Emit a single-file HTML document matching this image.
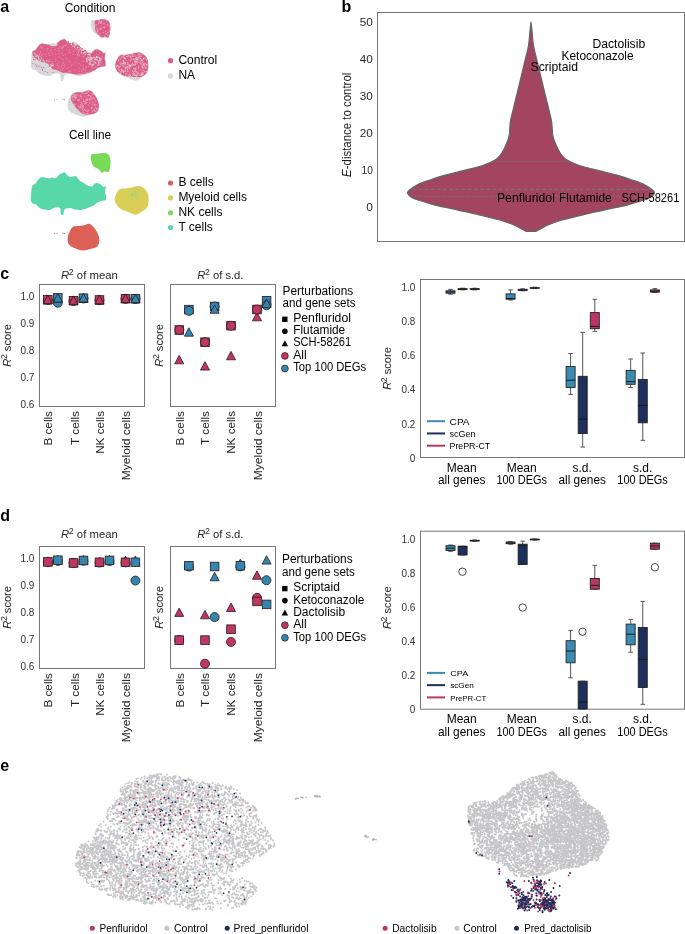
<!DOCTYPE html><html><head><meta charset="utf-8"><title>Figure</title><style>html,body{margin:0;padding:0;background:#fff;width:685px;height:934px;overflow:hidden}svg{display:block;will-change:transform}text{font-family:"Liberation Sans",sans-serif}</style></head><body>
<svg width="685" height="934" viewBox="0 0 685 934">
<rect width="685" height="934" fill="#fff"/>
<text x="0.20" y="11.80" font-size="16" font-weight="bold" fill="#000">a</text>
<text x="341.50" y="11.80" font-size="16" font-weight="bold" fill="#000">b</text>
<text x="0.20" y="279.30" font-size="16" font-weight="bold" fill="#000">c</text>
<text x="0.20" y="520.50" font-size="16" font-weight="bold" fill="#000">d</text>
<text x="0.20" y="771.30" font-size="16" font-weight="bold" fill="#000">e</text>
<defs><filter id="soft" x="-5%" y="-5%" width="110%" height="110%"><feGaussianBlur stdDeviation="0.45"/></filter></defs>
<g filter="url(#soft)">
<path d="M30.9,63.2C31.0,61.6 31.1,59.4 31.3,57.4C31.6,55.5 31.7,52.8 32.4,51.5C33.1,50.2 34.2,50.8 35.3,49.7C36.4,48.6 37.9,46.1 38.9,45.0C39.9,43.9 40.1,43.5 41.5,43.3C42.9,43.1 45.5,43.8 47.0,43.9C48.5,44.1 49.7,44.3 50.6,44.2C51.5,44.1 51.6,43.5 52.5,43.5C53.4,43.5 54.7,44.6 55.7,44.2C56.7,43.8 57.6,42.2 58.7,41.3C59.8,40.5 61.3,39.6 62.3,39.1C63.3,38.6 63.8,37.9 64.5,38.2C65.2,38.4 65.7,39.8 66.7,40.6C67.7,41.4 68.9,42.9 70.3,43.1C71.7,43.3 73.9,41.9 75.1,42.0C76.3,42.1 76.6,42.8 77.3,43.5C78.0,44.2 78.5,45.6 79.5,46.4C80.5,47.3 82.0,47.9 83.1,48.6C84.2,49.3 85.0,50.2 86.1,50.8C87.2,51.4 88.6,52.0 89.7,52.2C90.8,52.4 91.9,52.5 92.6,52.2C93.3,51.8 93.4,50.6 94.1,50.1C94.8,49.6 95.9,48.9 97.0,49.0C98.1,49.1 99.6,49.7 100.7,50.4C101.8,51.1 102.8,52.7 103.6,53.0C104.4,53.3 105.6,51.5 105.8,52.2C106.0,52.9 105.0,55.8 105.0,57.4C105.0,59.0 105.8,60.2 105.9,61.7C106.0,63.1 106.4,65.2 105.8,66.1C105.2,67.0 103.4,66.4 102.1,66.8C100.8,67.2 99.0,67.6 97.7,68.3C96.4,69.0 95.7,70.3 94.1,71.2C92.5,72.1 90.4,73.0 88.2,73.8C86.0,74.6 83.2,75.7 81.0,76.0C78.8,76.3 76.9,75.9 75.1,75.6C73.3,75.3 71.8,74.1 70.0,74.1C68.2,74.1 65.7,74.5 64.6,75.6C63.5,76.7 64.0,79.7 63.4,80.5C62.8,81.3 61.6,81.6 61.0,80.5C60.4,79.4 61.1,75.1 60.0,74.0C58.9,72.9 56.0,73.5 54.3,73.8C52.6,74.1 51.6,75.7 49.9,76.0C48.2,76.3 45.9,76.0 44.1,75.6C42.3,75.2 40.4,74.2 39.0,73.4C37.6,72.6 37.0,71.1 36.0,70.5C35.0,69.9 34.0,70.4 33.1,69.8C32.2,69.2 31.3,67.9 30.9,66.8C30.5,65.7 30.8,64.8 30.9,63.2Z" fill="#d7d8da"/>
<path d="M91.4,20.6C92.3,19.5 94.4,20.1 96.5,19.9C98.6,19.6 101.7,18.9 103.8,19.1C105.9,19.3 107.8,19.8 108.9,21.3C110.0,22.8 110.6,25.2 110.6,27.9C110.6,30.6 109.9,35.8 108.9,37.4C107.9,39.0 105.8,37.2 104.6,37.4C103.4,37.6 102.6,39.0 101.6,38.6C100.6,38.2 100.0,36.2 98.7,35.2C97.4,34.2 94.8,33.8 93.6,32.3C92.3,30.8 91.6,28.3 91.2,26.4C90.8,24.4 90.5,21.7 91.4,20.6Z" fill="#d7d8da"/>
<path d="M114.7,65.1C114.7,63.4 115.3,61.7 116.2,60.0C117.1,58.3 118.3,55.8 119.9,54.9C121.5,54.0 123.8,54.6 125.7,54.4C127.6,54.1 129.2,53.8 131.5,53.4C133.8,53.0 137.2,51.5 139.6,52.0C142.0,52.5 144.6,54.7 146.1,56.5C147.6,58.3 148.2,60.2 148.5,62.9C148.8,65.5 148.7,70.0 147.6,72.4C146.5,74.8 143.8,76.1 141.8,77.5C139.9,78.9 138.1,80.6 135.9,80.7C133.7,80.8 131.0,79.1 128.6,78.2C126.2,77.3 123.4,76.6 121.3,75.3C119.2,74.0 117.3,71.9 116.2,70.2C115.1,68.5 114.7,66.8 114.7,65.1Z" fill="#d7d8da"/>
<path d="M68.8,99.4C69.6,97.6 71.0,94.4 72.4,93.2C73.9,92.0 75.7,92.4 77.5,92.1C79.3,91.8 81.3,91.9 83.4,91.5C85.5,91.1 87.8,89.2 89.9,89.9C92.0,90.7 94.2,93.5 95.8,96.0C97.4,98.5 99.1,102.2 99.3,105.0C99.5,107.8 98.9,110.8 97.2,112.5C95.5,114.2 91.8,114.5 89.2,115.2C86.7,115.9 84.6,116.7 81.9,116.4C79.2,116.1 75.3,114.7 73.1,113.6C70.8,112.5 69.3,111.2 68.4,109.6C67.5,108.0 67.5,105.5 67.6,103.8C67.7,102.1 68.0,101.2 68.8,99.4Z" fill="#d7d8da"/>
<path d="M32.8,51.5C33.2,50.6 34.5,50.9 35.5,49.9C36.5,48.9 38.0,46.4 39.0,45.4C40.0,44.4 40.2,44.0 41.5,43.8C42.8,43.6 45.5,44.2 47.0,44.4C48.5,44.5 49.7,44.8 50.6,44.7C51.5,44.6 51.6,44.0 52.5,44.0C53.4,44.0 54.7,45.1 55.7,44.7C56.7,44.3 57.6,42.6 58.7,41.8C59.8,41.0 61.3,40.2 62.3,39.8C63.3,39.4 63.8,39.0 64.5,39.2C65.2,39.5 65.9,40.5 66.7,41.3C67.5,42.1 68.5,43.3 69.5,44.2C70.5,45.1 71.4,45.7 72.5,46.5C73.6,47.3 74.8,48.1 76.0,49.0C77.2,49.9 78.6,51.0 80.0,52.0C81.4,53.0 83.1,54.6 84.5,55.2C85.9,55.8 87.3,56.1 88.5,55.8C89.7,55.5 90.7,54.3 91.5,53.5C92.3,52.7 92.6,51.4 93.5,50.8C94.4,50.1 95.8,49.6 97.0,49.6C98.2,49.6 99.6,50.2 100.7,50.8C101.8,51.4 102.8,53.0 103.6,53.4C104.4,53.8 105.1,52.3 105.3,53.0C105.5,53.7 104.6,56.1 104.6,57.6C104.6,59.1 105.2,60.3 105.3,61.7C105.4,63.1 105.7,65.2 105.2,66.0C104.7,66.8 103.3,66.2 102.1,66.6C100.8,66.9 99.0,67.4 97.7,68.1C96.4,68.8 95.7,69.7 94.1,70.5C92.5,71.3 90.4,72.2 88.2,72.8C86.0,73.4 83.2,74.1 81.0,74.3C78.8,74.5 76.9,74.4 75.1,74.2C73.3,74.0 72.0,73.4 70.0,73.2C68.0,73.0 65.2,73.3 63.0,72.8C60.8,72.2 58.2,70.5 56.5,69.9C54.8,69.3 54.0,70.0 52.5,69.0C51.0,68.0 50.0,65.2 47.7,63.8C45.5,62.4 41.5,62.1 39.0,60.7C36.5,59.3 34.0,57.0 33.0,55.5C32.0,54.0 32.4,52.4 32.8,51.5Z" fill="#dd5d88"/>
<path d="M95.0,21.0C95.6,20.0 97.0,20.2 98.5,19.9C100.0,19.6 102.1,19.0 103.8,19.3C105.5,19.6 107.6,20.1 108.7,21.5C109.8,22.9 110.3,25.3 110.3,27.9C110.3,30.4 109.7,35.3 108.7,36.8C107.8,38.3 105.8,36.7 104.6,36.8C103.4,36.9 102.7,37.5 101.6,37.2C100.5,36.9 99.0,35.8 98.0,34.8C97.0,33.8 96.0,32.5 95.5,31.0C95.0,29.5 95.1,27.7 95.0,26.0C94.9,24.3 94.4,22.0 95.0,21.0Z" fill="#dd5d88"/>
<path d="M115.3,65.1C115.3,63.5 116.0,61.8 116.8,60.2C117.6,58.6 118.7,56.4 120.2,55.5C121.7,54.6 123.8,55.2 125.7,55.0C127.6,54.8 129.2,54.4 131.5,54.0C133.8,53.6 137.2,52.1 139.6,52.6C142.0,53.1 144.4,55.1 145.8,56.8C147.2,58.5 147.8,60.4 148.0,62.9C148.2,65.4 148.2,69.7 147.1,72.0C146.0,74.3 143.3,76.0 141.5,76.8C139.7,77.6 138.7,77.0 136.5,77.0C134.3,77.0 131.1,76.9 128.6,76.5C126.1,76.1 123.3,75.6 121.3,74.5C119.3,73.4 117.6,71.6 116.6,70.0C115.6,68.4 115.3,66.7 115.3,65.1Z" fill="#dd5d88"/>
<path d="M71.7,95.5C72.4,94.4 73.8,93.3 75.0,92.8C76.2,92.3 77.6,92.4 79.0,92.3C80.4,92.2 81.6,92.3 83.4,92.0C85.2,91.7 87.9,89.9 89.9,90.6C91.9,91.3 93.9,93.8 95.4,96.2C96.9,98.6 98.6,102.4 98.8,105.0C99.0,107.6 98.4,110.4 96.8,112.0C95.2,113.6 91.5,114.3 89.2,114.6C86.9,114.9 85.0,114.8 83.0,114.0C81.0,113.2 79.1,111.2 77.5,109.5C75.9,107.8 74.6,105.7 73.5,104.0C72.4,102.3 71.3,100.9 71.0,99.5C70.7,98.1 71.0,96.6 71.7,95.5Z" fill="#dd5d88"/>
<path d="M32.9 63.6h0M33.7 57.6h0M42.6 70.5h0M35.1 59.9h0M47.7 72.6h0M36.5 66.2h0M33.5 59.6h0M39.9 66.2h0M38.1 66.1h0M45.1 71.3h0M42.5 69.2h0M35.8 64.6h0M49.4 66.4h0M53.0 72.5h0M43.9 67.6h0M41.6 67.7h0" stroke="#dd5d88" stroke-width="1.20" stroke-linecap="round" fill="none" opacity="1.0"/>
<path d="M35.8 56.2h0M51.0 66.7h0M39.1 59.1h0M36.9 55.9h0M44.3 62.5h0M52.8 65.3h0M52.2 65.6h0M41.6 58.8h0M34.4 53.1h0M38.5 57.9h0M43.3 60.2h0M34.9 53.7h0M52.0 63.8h0M38.7 58.2h0M51.8 65.7h0M51.0 64.6h0M37.9 55.9h0M37.3 55.5h0M53.0 65.3h0M35.8 54.6h0M52.9 65.7h0M40.7 61.3h0M38.5 57.0h0M38.7 59.1h0M40.8 59.8h0M44.0 61.0h0M49.0 61.5h0M40.2 60.8h0M38.5 56.7h0M46.5 60.6h0" stroke="#d7d8da" stroke-width="1.30" stroke-linecap="round" fill="none" opacity="1.0"/>
<path d="M49.5,44.4C49.7,44.0 51.7,43.6 53.0,43.6C54.3,43.6 57.0,43.8 57.5,44.2C58.0,44.6 56.9,45.7 56.0,46.0C55.1,46.3 53.1,46.5 52.0,46.2C50.9,45.9 49.3,44.8 49.5,44.4Z" fill="#d7d8da"/>
<path d="M79.3 51.4h0M77.8 49.0h0M84.2 54.1h0M86.4 54.5h0M89.0 55.5h0M76.4 48.3h0M79.4 46.1h0M71.1 45.8h0M80.4 47.6h0M82.2 48.7h0M86.5 55.6h0M73.0 42.9h0M80.8 51.5h0M68.3 41.9h0M82.5 53.0h0M77.8 46.1h0M73.0 42.9h0M68.8 43.4h0M74.1 45.6h0M76.2 48.6h0M84.4 50.5h0M76.5 46.2h0M72.6 43.4h0M73.3 44.6h0M73.6 47.9h0M74.0 46.3h0M78.3 48.5h0M73.9 44.5h0M81.2 48.9h0M85.5 50.9h0M84.6 54.2h0M76.1 45.9h0M84.8 50.6h0M85.1 53.2h0M86.9 53.4h0M83.8 51.4h0M80.5 50.4h0M82.3 51.2h0M86.7 52.2h0M79.1 49.0h0M85.2 55.6h0M78.8 46.7h0M78.5 51.3h0M69.8 44.8h0M83.5 51.4h0M79.4 48.0h0M87.3 55.5h0M77.7 45.0h0M77.7 45.5h0M75.7 46.9h0M75.4 47.4h0M72.5 45.0h0M89.0 53.2h0M85.6 50.7h0M78.3 46.2h0M70.4 43.4h0M89.6 55.9h0M72.2 44.9h0M76.8 48.9h0M75.8 46.1h0M79.1 50.4h0M73.0 44.7h0M76.4 47.7h0M90.8 53.7h0M87.5 53.8h0M68.8 43.3h0M79.6 51.2h0M82.8 52.5h0M77.9 49.3h0M82.5 51.5h0" stroke="#dd5d88" stroke-width="1.40" stroke-linecap="round" fill="none" opacity="1.0"/>
<path d="M94.4 62.0h0M92.2 57.7h0M90.8 60.5h0M100.1 60.7h0M89.8 58.0h0M94.0 63.1h0M92.7 58.1h0M91.4 60.0h0M96.9 57.4h0M98.8 63.9h0M94.1 57.5h0M99.1 57.8h0M89.5 64.1h0M93.9 57.2h0M89.6 60.0h0M88.3 59.7h0M87.0 59.7h0M100.9 59.0h0M96.6 59.5h0M92.0 59.0h0M90.5 59.2h0M91.7 64.9h0M99.2 60.2h0M86.8 60.7h0M92.0 66.0h0M89.1 59.4h0M92.6 64.7h0M91.4 58.3h0M90.2 63.6h0M91.1 58.3h0M100.7 62.6h0M89.7 60.7h0M92.2 58.0h0M92.9 60.9h0M98.8 63.9h0M99.2 64.3h0M95.7 58.9h0M91.1 59.3h0M89.2 64.0h0M90.0 55.8h0M86.5 61.6h0M90.2 56.0h0M87.5 61.0h0M97.4 60.4h0M89.7 60.0h0" stroke="#e8b3c5" stroke-width="1.40" stroke-linecap="round" fill="none" opacity="1.0"/>
<path d="M95.9 63.1h0M98.0 65.2h0M96.6 56.5h0M99.5 58.5h0M95.1 59.5h0M97.8 57.4h0M90.0 57.9h0M95.3 58.9h0M94.1 57.8h0M98.9 62.8h0M93.6 64.8h0M86.6 58.5h0M87.9 57.3h0M100.9 59.5h0M99.9 60.4h0M90.2 64.3h0M95.5 62.4h0M89.5 59.4h0M88.3 57.4h0M90.1 62.2h0M96.4 57.4h0M86.2 58.9h0M96.9 57.2h0M91.0 57.4h0M98.7 61.6h0" stroke="#d7d8da" stroke-width="1.40" stroke-linecap="round" fill="none" opacity="1.0"/>
<path d="M61.5 58.5h0M62.5 49.1h0M55.4 59.1h0M58.7 53.8h0M59.2 46.1h0M63.5 68.0h0M62.3 70.2h0M66.2 44.9h0M79.2 71.1h0M59.7 56.9h0M43.4 49.1h0M70.6 71.7h0M40.7 56.4h0M99.9 52.8h0M98.4 61.0h0M62.1 68.9h0M48.6 53.2h0M70.3 52.7h0M41.7 47.9h0M85.4 70.7h0M76.3 58.5h0M63.3 59.7h0M63.7 62.3h0M65.2 54.6h0M68.3 47.5h0M88.2 66.6h0M66.0 45.5h0M67.1 43.0h0M42.1 54.3h0M39.4 54.7h0M86.0 66.5h0M69.3 52.5h0M85.9 67.8h0M68.5 72.8h0M90.0 71.9h0M37.5 51.5h0M69.2 71.5h0M47.9 48.4h0M69.5 50.4h0M82.1 70.6h0M41.1 57.8h0M78.9 51.8h0M96.1 58.7h0M74.9 70.2h0M78.5 53.0h0M104.6 59.5h0M58.9 66.0h0M64.9 45.4h0M79.1 73.7h0M75.3 62.5h0M77.5 54.4h0M70.0 70.6h0M42.4 47.2h0M33.0 51.7h0M40.5 51.7h0M49.1 59.7h0M78.0 55.9h0M96.0 66.7h0M61.9 48.5h0M73.6 51.5h0M79.6 54.8h0M100.7 64.9h0M36.0 57.9h0M62.2 47.5h0M47.3 60.5h0M69.6 61.7h0M55.2 49.7h0M89.6 64.3h0M57.1 65.5h0M83.2 68.9h0M72.9 54.5h0M90.0 57.6h0M52.0 61.7h0M51.7 47.5h0M86.7 72.4h0M96.6 50.7h0M78.5 63.5h0M81.0 73.6h0M66.8 68.7h0M83.4 69.3h0M64.5 64.6h0M74.1 50.0h0M48.2 61.1h0M57.8 44.2h0M83.0 61.4h0M83.3 65.1h0M59.1 67.9h0M92.2 70.5h0M40.6 46.4h0M94.3 67.7h0M78.8 68.2h0M55.9 54.1h0M53.3 64.3h0M59.5 50.5h0M102.7 56.9h0M94.5 60.9h0M35.0 53.7h0M64.4 66.3h0M57.9 63.9h0M71.8 46.8h0M68.4 67.2h0M46.2 56.6h0M58.0 68.4h0M53.4 46.7h0M83.5 56.7h0M83.3 66.8h0M78.3 51.7h0M61.9 53.1h0M47.7 48.4h0M98.1 56.8h0M60.3 70.2h0M49.7 55.4h0M71.3 65.7h0M87.4 61.9h0M58.1 50.7h0M80.8 65.2h0M45.1 54.6h0M88.9 59.5h0M41.9 55.4h0M46.7 49.8h0M83.8 68.8h0M44.0 44.7h0M50.7 50.7h0M56.6 45.8h0M103.5 64.8h0M40.2 52.7h0M47.0 61.6h0M40.5 46.4h0M61.7 67.0h0M83.1 56.8h0M78.6 55.5h0M43.1 60.4h0M62.1 65.2h0M98.6 54.3h0M74.4 65.5h0M63.3 47.2h0M85.2 70.1h0M88.9 63.8h0M94.6 63.1h0M79.3 55.1h0M55.5 61.3h0M39.9 53.9h0M89.5 64.2h0M63.5 55.2h0M77.9 53.6h0M81.8 71.8h0M46.1 62.2h0M101.0 57.4h0M40.1 59.4h0M72.0 64.4h0M69.9 61.6h0M92.9 57.5h0M62.6 72.5h0M48.0 63.2h0M61.3 66.0h0M52.7 53.2h0M33.8 53.9h0M63.3 63.7h0M58.3 48.5h0M49.1 65.2h0M100.9 57.7h0M61.2 46.6h0M91.5 61.5h0M66.8 58.9h0M58.4 61.6h0M92.2 67.8h0M66.7 49.5h0M93.2 51.7h0M60.1 48.1h0M63.7 45.7h0" stroke="#e88fb0" stroke-width="1.20" stroke-linecap="round" fill="none" opacity="1.0"/>
<path d="M124.5 58.6h0M125.2 64.3h0M129.3 68.2h0M136.9 61.4h0M144.9 71.7h0M119.9 72.9h0M136.7 58.7h0M122.9 71.5h0M126.6 56.3h0M144.9 71.9h0M135.2 71.7h0M137.2 74.4h0M141.1 73.1h0M121.8 69.5h0M132.7 70.7h0M129.6 74.1h0M133.5 59.1h0M123.0 56.0h0M131.4 54.0h0M130.6 56.1h0M131.4 64.8h0M132.9 73.7h0M130.6 66.3h0M137.1 73.1h0M127.6 62.8h0M136.1 68.1h0M116.2 67.5h0M137.6 75.3h0M132.0 64.4h0M138.8 67.9h0M126.4 73.6h0M127.3 64.2h0M132.5 71.4h0M122.2 63.2h0M129.1 66.1h0M142.3 59.7h0M142.4 62.5h0M131.8 59.2h0M131.9 76.4h0M136.7 71.9h0M126.1 60.3h0M125.1 66.9h0M136.1 71.7h0M144.3 65.9h0M145.4 67.5h0M136.8 71.9h0M145.1 67.5h0M135.5 67.9h0M138.1 67.1h0M137.6 57.8h0M137.1 63.8h0M140.2 55.1h0M140.6 74.9h0M136.7 61.6h0M142.2 71.8h0M133.7 58.9h0M125.2 62.9h0M125.7 63.1h0M136.3 75.4h0M117.1 66.4h0M141.8 66.6h0M145.3 63.5h0M134.7 75.5h0M147.4 64.2h0M128.8 55.1h0M136.4 57.8h0M138.8 58.5h0M139.3 57.2h0M138.6 73.5h0M139.2 54.7h0M135.9 69.9h0M130.4 75.3h0M138.8 52.9h0M142.0 54.5h0M125.5 70.4h0M120.7 73.6h0M131.2 54.1h0M127.3 66.6h0M129.6 69.1h0M120.0 72.1h0M127.2 68.3h0M135.9 62.8h0M127.9 71.8h0M146.2 71.7h0M133.8 59.7h0M138.3 72.8h0M126.2 67.4h0M135.0 60.1h0M129.3 74.3h0M127.6 69.3h0M135.0 74.5h0M141.7 59.5h0M129.1 66.9h0M142.0 74.3h0M141.8 73.8h0M134.0 59.3h0M143.1 72.3h0M137.7 74.9h0M133.4 72.1h0M121.9 70.9h0M145.8 58.3h0M135.1 69.1h0M130.5 57.6h0M123.6 70.9h0M141.2 63.8h0M140.5 58.3h0M134.3 74.5h0M144.2 65.3h0M130.9 67.0h0M121.5 57.3h0M121.2 69.7h0M127.2 66.4h0M128.5 65.2h0M118.8 68.0h0M141.0 56.4h0M134.8 61.0h0M143.6 64.5h0M133.8 59.0h0M140.8 63.0h0M146.3 71.3h0M142.1 76.1h0M121.9 57.0h0M133.5 73.8h0M130.3 75.7h0M134.9 62.3h0M123.7 66.4h0M136.2 75.9h0M137.2 62.2h0M130.0 56.5h0M123.7 61.2h0M141.0 69.9h0M136.4 76.6h0M140.0 75.5h0M137.4 59.9h0M134.6 71.1h0M118.7 60.5h0M123.7 55.6h0M131.0 56.7h0M123.1 56.1h0M138.8 57.4h0M143.6 74.3h0M119.9 63.5h0M142.8 67.9h0M130.1 60.9h0M142.2 64.3h0M135.8 56.1h0M138.6 66.1h0M124.0 62.6h0M120.4 59.2h0M142.8 60.8h0M120.8 64.6h0M125.7 74.6h0M137.2 57.8h0M130.9 59.6h0M123.7 57.5h0M118.5 59.7h0M139.1 59.8h0M141.7 60.9h0M142.5 65.4h0M121.4 63.2h0M145.1 57.9h0M134.0 56.0h0M121.2 71.4h0M138.6 57.4h0M135.2 64.7h0M124.3 57.6h0M135.3 69.9h0M141.8 66.8h0M139.3 62.6h0M138.9 54.0h0M141.8 60.8h0M142.8 73.7h0M145.1 64.2h0M143.8 59.1h0M121.4 72.9h0M127.3 56.6h0M127.4 67.1h0M115.5 65.3h0M129.9 65.2h0M119.2 70.0h0M142.0 73.7h0M125.8 70.0h0M127.8 70.9h0M146.5 64.7h0M132.1 65.5h0M123.5 72.5h0M138.2 57.4h0M115.9 67.2h0M134.2 65.4h0M138.3 55.1h0M143.7 70.1h0M131.4 64.8h0M124.4 55.6h0M128.6 55.9h0M134.7 73.6h0M120.1 66.6h0M139.7 56.6h0M142.3 75.5h0M128.0 62.9h0M142.8 65.4h0" stroke="#eba9c1" stroke-width="1.30" stroke-linecap="round" fill="none" opacity="1.0"/>
<path d="M128.2 75.6h0M140.7 60.9h0M123.2 60.8h0M129.5 76.5h0M141.6 74.9h0M142.0 73.3h0M117.1 65.2h0M123.5 62.9h0M136.0 61.5h0M132.7 54.3h0M129.5 64.9h0M147.0 71.5h0M145.9 68.1h0M141.8 74.2h0M136.3 59.1h0M137.5 59.3h0M133.0 75.2h0M135.6 58.7h0M132.3 63.2h0M146.4 59.6h0M125.3 68.4h0M119.2 67.1h0M146.6 65.1h0M124.1 64.0h0M132.8 56.2h0M124.9 62.5h0M124.7 58.5h0M118.2 65.9h0M142.8 67.5h0M133.9 68.5h0M121.9 69.9h0M130.4 66.0h0M135.3 64.0h0M125.5 58.5h0M122.5 65.1h0M127.8 66.9h0M143.5 58.4h0M133.5 64.6h0M125.0 71.4h0M143.8 63.3h0" stroke="#d9d2d6" stroke-width="1.30" stroke-linecap="round" fill="none" opacity="1.0"/>
<path d="M72.7 99.9h0M83.2 108.2h0M74.0 96.0h0M97.7 108.3h0M75.3 98.7h0M80.8 106.8h0M88.1 111.0h0M93.8 103.0h0M91.5 108.4h0M92.1 102.0h0M92.8 107.6h0M92.3 104.7h0M84.8 113.7h0M86.9 100.6h0M92.8 111.5h0M87.9 99.7h0M83.6 101.6h0M91.1 97.6h0M81.9 103.9h0M81.7 98.3h0M92.9 111.0h0M84.9 101.3h0M76.1 97.9h0M75.0 104.4h0M87.2 92.7h0M94.4 110.7h0M82.9 112.5h0M86.7 102.5h0M96.6 109.2h0M85.4 103.0h0M90.0 99.9h0M80.9 104.9h0M89.8 103.2h0M73.8 99.6h0M82.1 104.1h0M87.0 111.7h0M83.2 105.6h0M85.7 110.2h0M75.7 98.2h0M85.3 93.3h0M95.9 107.2h0M95.7 100.7h0M75.3 97.6h0M85.2 102.7h0M76.2 95.0h0M88.5 105.1h0M88.7 91.6h0M82.4 109.5h0M79.5 107.2h0M94.4 104.7h0M89.6 95.3h0M84.8 103.9h0M78.4 106.1h0M87.0 100.5h0M74.4 94.4h0M92.1 93.2h0M73.8 94.7h0M85.5 110.4h0M88.0 110.0h0M92.4 98.3h0M90.9 99.1h0M75.7 97.0h0M87.2 99.0h0M83.5 99.9h0M87.2 113.6h0M83.2 105.5h0M96.9 111.1h0M93.7 97.9h0M87.8 113.6h0M84.8 113.4h0M77.8 100.0h0M91.0 95.9h0M84.5 109.6h0M77.8 94.8h0M81.0 95.1h0M86.6 93.4h0M85.8 99.9h0M82.2 92.2h0M80.8 96.5h0M76.3 97.4h0M89.5 98.8h0M73.6 97.1h0M83.3 110.7h0M93.4 94.4h0M80.8 107.9h0M85.0 96.1h0M83.6 93.7h0M90.6 96.9h0M96.0 104.7h0M81.2 96.5h0M87.9 95.7h0M85.3 103.6h0M78.5 109.1h0M81.7 106.4h0M86.8 98.1h0M81.8 92.7h0M79.9 106.5h0M74.0 104.1h0M81.0 102.6h0M79.7 96.0h0M78.8 100.3h0M96.3 109.2h0M95.5 111.3h0M74.7 97.2h0M89.4 99.0h0M82.5 106.4h0M90.4 96.6h0M94.5 99.1h0M88.5 95.0h0M91.4 107.7h0M75.5 95.4h0M79.4 99.7h0M72.1 98.1h0M88.7 94.9h0M94.3 104.3h0M90.9 96.7h0M83.1 107.0h0M94.2 109.2h0M94.7 105.2h0M72.3 96.5h0" stroke="#eaa5be" stroke-width="1.30" stroke-linecap="round" fill="none" opacity="1.0"/>
<path d="M106.5 20.8h0M105.6 26.3h0M106.4 34.1h0M99.3 20.9h0M109.5 26.9h0M109.2 31.7h0M106.3 34.2h0M104.6 27.4h0M101.6 28.5h0M105.8 33.7h0M99.0 29.1h0M103.3 23.8h0M95.9 25.7h0M101.3 22.9h0M99.8 21.7h0M105.8 31.3h0M98.6 23.6h0M102.9 27.3h0M109.3 25.6h0M99.6 35.1h0M97.2 29.4h0M100.1 33.9h0M103.4 32.9h0M97.6 31.2h0M104.2 27.6h0M106.7 34.2h0M96.8 24.5h0M100.5 23.0h0M95.9 24.3h0M98.0 31.9h0M101.9 21.3h0M100.0 27.7h0M100.6 22.3h0M96.3 32.1h0M110.0 29.4h0M96.7 28.1h0M101.6 22.7h0M103.3 19.4h0M109.1 30.8h0M104.6 36.0h0M105.0 23.8h0M98.8 21.8h0M107.8 24.6h0M97.8 30.7h0M107.9 35.9h0M97.6 33.3h0M107.7 32.6h0M100.0 22.6h0M107.6 25.0h0M100.6 29.2h0" stroke="#eaa5be" stroke-width="1.20" stroke-linecap="round" fill="none" opacity="1.0"/>
<path d="M54.5 99.5h0M57 99.3h0M63 99.2h0M64.5 99.6h0" stroke="#e07a9c" stroke-width="1.2" stroke-linecap="round"/>
</g>
<g filter="url(#soft)">
<path d="M30.9,197.2C31.0,195.6 31.1,193.3 31.3,191.4C31.6,189.5 31.7,186.8 32.4,185.5C33.1,184.2 34.2,184.8 35.3,183.7C36.4,182.6 37.9,180.1 38.9,179.0C39.9,177.9 40.1,177.5 41.5,177.3C42.9,177.1 45.5,177.8 47.0,177.9C48.5,178.1 49.7,178.3 50.6,178.2C51.5,178.1 51.6,177.5 52.5,177.5C53.4,177.5 54.7,178.6 55.7,178.2C56.7,177.8 57.6,176.2 58.7,175.3C59.8,174.5 61.3,173.6 62.3,173.1C63.3,172.6 63.8,171.9 64.5,172.2C65.2,172.4 65.7,173.8 66.7,174.6C67.7,175.4 68.9,176.9 70.3,177.1C71.7,177.3 73.9,175.9 75.1,176.0C76.3,176.1 76.6,176.8 77.3,177.5C78.0,178.2 78.5,179.6 79.5,180.4C80.5,181.2 82.0,181.9 83.1,182.6C84.2,183.3 85.0,184.2 86.1,184.8C87.2,185.4 88.6,186.0 89.7,186.2C90.8,186.4 91.9,186.5 92.6,186.2C93.3,185.8 93.4,184.6 94.1,184.1C94.8,183.6 95.9,182.9 97.0,183.0C98.1,183.1 99.6,183.7 100.7,184.4C101.8,185.1 102.8,186.7 103.6,187.0C104.4,187.3 105.6,185.5 105.8,186.2C106.0,186.9 105.0,189.8 105.0,191.4C105.0,193.0 105.8,194.2 105.9,195.7C106.0,197.1 106.4,199.2 105.8,200.1C105.2,200.9 103.4,200.4 102.1,200.8C100.8,201.2 99.0,201.6 97.7,202.3C96.4,203.0 95.7,204.3 94.1,205.2C92.5,206.1 90.4,207.0 88.2,207.8C86.0,208.6 83.2,209.7 81.0,210.0C78.8,210.3 76.9,209.9 75.1,209.6C73.3,209.3 71.8,208.1 70.0,208.1C68.2,208.1 65.7,208.5 64.6,209.6C63.5,210.7 64.0,213.7 63.4,214.5C62.8,215.3 61.6,215.6 61.0,214.5C60.4,213.4 61.1,209.1 60.0,208.0C58.9,206.9 56.0,207.5 54.3,207.8C52.6,208.1 51.6,209.7 49.9,210.0C48.2,210.3 45.9,210.0 44.1,209.6C42.3,209.2 40.4,208.2 39.0,207.4C37.6,206.6 37.0,205.1 36.0,204.5C35.0,203.9 34.0,204.4 33.1,203.8C32.2,203.2 31.3,201.9 30.9,200.8C30.5,199.7 30.8,198.8 30.9,197.2Z" fill="#58d7a9"/>
<path d="M91.4,154.6C92.3,153.5 94.4,154.2 96.5,153.9C98.6,153.7 101.7,152.9 103.8,153.1C105.9,153.3 107.8,153.8 108.9,155.3C110.0,156.8 110.6,159.2 110.6,161.9C110.6,164.6 109.9,169.8 108.9,171.4C107.9,173.0 105.8,171.2 104.6,171.4C103.4,171.6 102.6,173.0 101.6,172.6C100.6,172.2 100.0,170.2 98.7,169.2C97.4,168.1 94.8,167.8 93.6,166.3C92.3,164.8 91.6,162.4 91.2,160.4C90.8,158.4 90.5,155.7 91.4,154.6Z" fill="#77db57"/>
<path d="M114.7,199.1C114.7,197.4 115.3,195.7 116.2,194.0C117.1,192.3 118.3,189.8 119.9,188.9C121.5,188.0 123.8,188.7 125.7,188.4C127.6,188.2 129.2,187.8 131.5,187.4C133.8,187.0 137.2,185.5 139.6,186.0C142.0,186.5 144.6,188.7 146.1,190.5C147.6,192.3 148.2,194.2 148.5,196.9C148.8,199.6 148.7,204.0 147.6,206.4C146.5,208.8 143.8,210.1 141.8,211.5C139.9,212.9 138.1,214.6 135.9,214.7C133.7,214.8 131.0,213.1 128.6,212.2C126.2,211.3 123.4,210.6 121.3,209.3C119.2,208.0 117.3,205.9 116.2,204.2C115.1,202.5 114.7,200.8 114.7,199.1Z" fill="#d9cf57"/>
<path d="M68.8,233.4C69.6,231.6 71.0,228.4 72.4,227.2C73.9,226.0 75.7,226.4 77.5,226.1C79.3,225.8 81.3,225.9 83.4,225.5C85.5,225.1 87.8,223.2 89.9,223.9C92.0,224.7 94.2,227.5 95.8,230.0C97.4,232.5 99.1,236.2 99.3,239.0C99.5,241.8 98.9,244.8 97.2,246.5C95.5,248.2 91.8,248.5 89.2,249.2C86.7,249.8 84.6,250.7 81.9,250.4C79.2,250.1 75.3,248.7 73.1,247.6C70.8,246.5 69.3,245.2 68.4,243.6C67.5,242.0 67.5,239.5 67.6,237.8C67.7,236.1 68.0,235.2 68.8,233.4Z" fill="#dc6157"/>
<path d="M132.4 199.5h0M134.8 196.4h0M137.8 197.6h0M133.9 194.5h0M129.9 191.5h0M135.0 188.2h0M136.3 189.5h0M133.3 189.9h0M137.4 193.4h0M131.4 196.9h0M134.2 193.3h0M132.1 193.6h0M136.0 199.4h0M138.8 189.5h0M131.5 193.6h0M134.8 192.2h0M131.9 193.9h0M136.1 196.1h0M131.6 195.6h0M139.4 194.2h0M135.8 191.5h0M136.1 193.7h0M129.0 196.9h0M132.5 195.7h0M133.0 194.9h0" stroke="#8fd79a" stroke-width="1.20" stroke-linecap="round" fill="none" opacity="1.0"/>
<path d="M54.5 233.5h0M57 233.3h0M63 233.2h0M64.5 233.6h0" stroke="#dc6157" stroke-width="1.2" stroke-linecap="round"/>
</g>
<text x="64.70" y="12.30" font-size="12" textLength="50.80" lengthAdjust="spacingAndGlyphs">Condition</text>
<text x="69.00" y="139.30" font-size="12" textLength="42.10" lengthAdjust="spacingAndGlyphs">Cell line</text>
<circle cx="170.5" cy="60.7" r="2.6" fill="#dd5d88"/>
<circle cx="170.5" cy="75.9" r="2.6" fill="#d7d8da"/>
<text x="178.40" y="64.00" font-size="12" textLength="38.70" lengthAdjust="spacingAndGlyphs">Control</text>
<text x="178.40" y="79.40" font-size="12">NA</text>
<circle cx="170.5" cy="183.0" r="2.6" fill="#dc6157"/>
<text x="178.40" y="186.40" font-size="12">B cells</text>
<circle cx="170.5" cy="197.9" r="2.6" fill="#d9cf57"/>
<text x="178.40" y="201.30" font-size="12" textLength="68.50" lengthAdjust="spacingAndGlyphs">Myeloid cells</text>
<circle cx="170.5" cy="212.8" r="2.6" fill="#77db57"/>
<text x="178.40" y="216.20" font-size="12">NK cells</text>
<circle cx="170.5" cy="227.5" r="2.6" fill="#58d7a9"/>
<text x="178.40" y="230.90" font-size="12">T cells</text>
<path d="M531.0,22.2C531.1,23.5 531.5,26.2 531.9,30.0C532.3,33.8 532.6,40.0 533.4,45.0C534.2,50.0 535.6,55.0 536.8,60.0C538.0,65.0 539.2,70.0 540.4,75.0C541.6,80.0 542.8,85.0 544.0,90.0C545.2,95.0 546.5,100.0 547.7,105.0C548.9,110.0 550.6,116.3 551.3,120.0C552.0,123.7 551.9,124.9 552.1,127.4C552.3,129.9 552.1,132.5 552.6,135.0C553.1,137.5 554.0,139.9 555.0,142.4C556.0,144.9 557.3,147.9 558.4,150.0C559.5,152.1 560.1,153.3 561.5,155.0C562.9,156.7 564.2,158.3 567.0,160.0C569.8,161.7 573.2,163.3 578.0,165.0C582.8,166.7 589.7,168.3 596.0,170.0C602.3,171.7 610.0,173.3 616.0,175.0C622.0,176.7 627.2,178.3 632.0,180.0C636.8,181.7 641.6,183.3 645.0,185.0C648.4,186.7 650.9,188.7 652.5,190.0C654.1,191.3 654.6,191.8 654.4,193.0C654.1,194.2 652.7,195.8 651.0,197.0C649.3,198.2 648.0,198.7 644.0,200.0C640.0,201.3 633.7,203.3 627.0,205.0C620.3,206.7 611.5,208.3 604.0,210.0C596.5,211.7 589.0,213.3 582.0,215.0C575.0,216.7 567.7,218.3 562.0,220.0C556.3,221.7 551.6,223.5 548.0,225.0C544.4,226.5 542.5,227.9 540.5,229.0C538.5,230.1 536.5,230.9 535.7,231.3L526.3,231.3C525.5,230.9 523.5,230.1 521.5,229.0C519.5,227.9 517.6,226.5 514.0,225.0C510.4,223.5 505.7,221.7 500.0,220.0C494.3,218.3 487.0,216.7 480.0,215.0C473.0,213.3 465.5,211.7 458.0,210.0C450.5,208.3 441.7,206.7 435.0,205.0C428.3,203.3 422.0,201.3 418.0,200.0C414.0,198.7 412.7,198.2 411.0,197.0C409.3,195.8 407.9,194.2 407.6,193.0C407.4,191.8 407.9,191.3 409.5,190.0C411.1,188.7 413.6,186.7 417.0,185.0C420.4,183.3 425.2,181.7 430.0,180.0C434.8,178.3 440.0,176.7 446.0,175.0C452.0,173.3 459.7,171.7 466.0,170.0C472.3,168.3 479.2,166.7 484.0,165.0C488.8,163.3 492.2,161.7 495.0,160.0C497.8,158.3 499.1,156.7 500.5,155.0C501.9,153.3 502.5,152.1 503.6,150.0C504.7,147.9 506.0,144.9 507.0,142.4C508.0,139.9 508.9,137.5 509.4,135.0C509.9,132.5 509.7,129.9 509.9,127.4C510.1,124.9 510.0,123.7 510.7,120.0C511.4,116.3 513.1,110.0 514.3,105.0C515.5,100.0 516.8,95.0 518.0,90.0C519.2,85.0 520.4,80.0 521.6,75.0C522.8,70.0 524.0,65.0 525.2,60.0C526.4,55.0 527.8,50.0 528.6,45.0C529.4,40.0 529.7,33.8 530.1,30.0C530.5,26.2 530.9,23.5 531.0,22.2Z" fill="#a34460" stroke="#666" stroke-width="1.3" stroke-linejoin="round"/>
<line x1="493.4" y1="161.4" x2="568.6" y2="161.4" stroke="#737373" stroke-width="1.2" stroke-dasharray="1.2 1.8"/>
<line x1="411.9" y1="189.4" x2="650.1" y2="189.4" stroke="#737373" stroke-width="1.2" stroke-dasharray="4 2.2"/>
<line x1="412.0" y1="196.4" x2="650.0" y2="196.4" stroke="#737373" stroke-width="1.2" stroke-dasharray="1.2 1.8"/>
<rect x="377.5" y="12.5" width="307" height="229" fill="none" stroke="#777" stroke-width="1"/>
<text x="372.80" y="25.60" font-size="10" text-anchor="end" fill="#2a2a2a" textLength="13.10" lengthAdjust="spacingAndGlyphs">50</text>
<text x="372.80" y="62.60" font-size="10" text-anchor="end" fill="#2a2a2a" textLength="13.10" lengthAdjust="spacingAndGlyphs">40</text>
<text x="372.80" y="99.80" font-size="10" text-anchor="end" fill="#2a2a2a" textLength="13.00" lengthAdjust="spacingAndGlyphs">30</text>
<text x="372.80" y="136.60" font-size="10" text-anchor="end" fill="#2a2a2a" textLength="13.00" lengthAdjust="spacingAndGlyphs">20</text>
<text x="372.80" y="173.60" font-size="10" text-anchor="end" fill="#2a2a2a" textLength="11.30" lengthAdjust="spacingAndGlyphs">10</text>
<text x="372.80" y="210.60" font-size="10" text-anchor="end" fill="#2a2a2a" textLength="6.60" lengthAdjust="spacingAndGlyphs">0</text>
<text x="351.5" y="176.9" font-size="12" textLength="104.2" lengthAdjust="spacingAndGlyphs" transform="rotate(-90 351.5 176.9)" fill="#1e1e1e"><tspan font-style="italic">E</tspan>-distance to control</text>
<text x="592.40" y="47.60" font-size="12" textLength="52.80" lengthAdjust="spacingAndGlyphs">Dactolisib</text>
<text x="561.60" y="59.60" font-size="12" textLength="72.00" lengthAdjust="spacingAndGlyphs">Ketoconazole</text>
<text x="530.60" y="71.00" font-size="12" textLength="47.40" lengthAdjust="spacingAndGlyphs">Scriptaid</text>
<text x="496.90" y="202.20" font-size="12" textLength="58.00" lengthAdjust="spacingAndGlyphs">Penfluridol</text>
<text x="558.90" y="202.20" font-size="12" textLength="52.90" lengthAdjust="spacingAndGlyphs">Flutamide</text>
<text x="621.60" y="202.20" font-size="12" textLength="57.70" lengthAdjust="spacingAndGlyphs">SCH-58261</text>
<rect x="39.5" y="284.5" width="105" height="122" fill="none" stroke="#777" stroke-width="1"/>
<rect x="170.5" y="284.5" width="105" height="122" fill="none" stroke="#777" stroke-width="1"/>
<text x="34.30" y="300.20" font-size="10" text-anchor="end" fill="#333">1.0</text>
<text x="34.30" y="327.05" font-size="10" text-anchor="end" fill="#333">0.9</text>
<text x="34.30" y="353.90" font-size="10" text-anchor="end" fill="#333">0.8</text>
<text x="34.30" y="380.75" font-size="10" text-anchor="end" fill="#333">0.7</text>
<text x="34.30" y="407.60" font-size="10" text-anchor="end" fill="#333">0.6</text>
<text x="61.00" y="279.10" font-size="11" textLength="56.80" lengthAdjust="spacingAndGlyphs" fill="#262626"><tspan font-style="italic">R</tspan><tspan font-size="8.6" dx="-0.4" dy="-4.1">2</tspan><tspan dy="4.1"> of mean</tspan></text>
<text x="197.20" y="279.20" font-size="11" textLength="46.30" lengthAdjust="spacingAndGlyphs" fill="#262626"><tspan font-style="italic">R</tspan><tspan font-size="8.6" dx="-0.4" dy="-4.1">2</tspan><tspan dy="4.1"> of s.d.</tspan></text>
<text x="10.90" y="366.70" font-size="11" textLength="42.70" lengthAdjust="spacingAndGlyphs" transform="rotate(-90 10.90 366.70)" fill="#262626"><tspan font-style="italic">R</tspan><tspan font-size="8.6" dx="-0.4" dy="-4.1">2</tspan><tspan dy="4.1"> score</tspan></text>
<text x="163.10" y="366.70" font-size="11" textLength="42.70" lengthAdjust="spacingAndGlyphs" transform="rotate(-90 163.10 366.70)" fill="#262626"><tspan font-style="italic">R</tspan><tspan font-size="8.6" dx="-0.4" dy="-4.1">2</tspan><tspan dy="4.1"> score</tspan></text>
<text x="52.30" y="411.00" font-size="11.8" text-anchor="end" textLength="34.6" lengthAdjust="spacingAndGlyphs" transform="rotate(-90 52.30 411.00)" fill="#222">B cells</text>
<text x="78.60" y="411.00" font-size="11.8" text-anchor="end" textLength="34.1" lengthAdjust="spacingAndGlyphs" transform="rotate(-90 78.60 411.00)" fill="#222">T cells</text>
<text x="104.10" y="411.00" font-size="11.8" text-anchor="end" textLength="42.8" lengthAdjust="spacingAndGlyphs" transform="rotate(-90 104.10 411.00)" fill="#222">NK cells</text>
<text x="130.30" y="411.00" font-size="11.8" text-anchor="end" textLength="69.3" lengthAdjust="spacingAndGlyphs" transform="rotate(-90 130.30 411.00)" fill="#222">Myeloid cells</text>
<text x="183.50" y="411.00" font-size="11.8" text-anchor="end" textLength="34.6" lengthAdjust="spacingAndGlyphs" transform="rotate(-90 183.50 411.00)" fill="#222">B cells</text>
<text x="209.20" y="411.00" font-size="11.8" text-anchor="end" textLength="34.1" lengthAdjust="spacingAndGlyphs" transform="rotate(-90 209.20 411.00)" fill="#222">T cells</text>
<text x="235.20" y="411.00" font-size="11.8" text-anchor="end" textLength="42.8" lengthAdjust="spacingAndGlyphs" transform="rotate(-90 235.20 411.00)" fill="#222">NK cells</text>
<text x="261.80" y="411.00" font-size="11.8" text-anchor="end" textLength="69.3" lengthAdjust="spacingAndGlyphs" transform="rotate(-90 261.80 411.00)" fill="#222">Myeloid cells</text>
<circle cx="47.80" cy="300.00" r="4.50" fill="#c0375f" stroke="#2a1a20" stroke-width="0.8"/>
<rect x="43.50" y="295.50" width="8.60" height="8.60" fill="#c0375f" stroke="#2a1a20" stroke-width="0.8"/>
<path d="M47.80,295.16L52.31,303.59L43.28,303.59Z" fill="#c0375f" stroke="#2a1a20" stroke-width="0.8" stroke-linejoin="miter"/>
<circle cx="57.80" cy="302.80" r="4.50" fill="#3386ad" stroke="#2a1a20" stroke-width="0.8"/>
<rect x="53.50" y="293.60" width="8.60" height="8.60" fill="#3386ad" stroke="#2a1a20" stroke-width="0.8"/>
<path d="M57.80,293.66L62.31,302.09L53.28,302.09Z" fill="#3386ad" stroke="#2a1a20" stroke-width="0.8" stroke-linejoin="miter"/>
<circle cx="73.50" cy="301.00" r="4.50" fill="#c0375f" stroke="#2a1a20" stroke-width="0.8"/>
<rect x="69.20" y="296.40" width="8.60" height="8.60" fill="#c0375f" stroke="#2a1a20" stroke-width="0.8"/>
<path d="M73.50,295.86L78.02,304.29L68.98,304.29Z" fill="#c0375f" stroke="#2a1a20" stroke-width="0.8" stroke-linejoin="miter"/>
<circle cx="83.50" cy="298.50" r="4.50" fill="#3386ad" stroke="#2a1a20" stroke-width="0.8"/>
<rect x="79.20" y="293.90" width="8.60" height="8.60" fill="#3386ad" stroke="#2a1a20" stroke-width="0.8"/>
<path d="M83.50,293.56L88.02,301.99L78.98,301.99Z" fill="#3386ad" stroke="#2a1a20" stroke-width="0.8" stroke-linejoin="miter"/>
<circle cx="99.50" cy="300.20" r="4.50" fill="#c0375f" stroke="#2a1a20" stroke-width="0.8"/>
<rect x="95.20" y="295.70" width="8.60" height="8.60" fill="#c0375f" stroke="#2a1a20" stroke-width="0.8"/>
<path d="M99.50,295.36L104.02,303.79L94.98,303.79Z" fill="#c0375f" stroke="#2a1a20" stroke-width="0.8" stroke-linejoin="miter"/>
<circle cx="125.50" cy="298.90" r="4.50" fill="#c0375f" stroke="#2a1a20" stroke-width="0.8"/>
<rect x="121.20" y="294.40" width="8.60" height="8.60" fill="#c0375f" stroke="#2a1a20" stroke-width="0.8"/>
<path d="M125.50,294.06L130.01,302.49L120.98,302.49Z" fill="#c0375f" stroke="#2a1a20" stroke-width="0.8" stroke-linejoin="miter"/>
<circle cx="135.50" cy="299.00" r="4.50" fill="#3386ad" stroke="#2a1a20" stroke-width="0.8"/>
<rect x="131.20" y="294.50" width="8.60" height="8.60" fill="#3386ad" stroke="#2a1a20" stroke-width="0.8"/>
<path d="M135.50,294.16L140.01,302.59L130.99,302.59Z" fill="#3386ad" stroke="#2a1a20" stroke-width="0.8" stroke-linejoin="miter"/>
<rect x="175.00" y="325.70" width="8.60" height="8.60" fill="#c0375f" stroke="#2a1a20" stroke-width="0.8"/>
<circle cx="179.30" cy="330.00" r="4.50" fill="#c0375f" stroke="#2a1a20" stroke-width="0.8"/>
<path d="M179.20,355.36L183.71,363.79L174.69,363.79Z" fill="#c0375f" stroke="#2a1a20" stroke-width="0.8" stroke-linejoin="miter"/>
<rect x="184.60" y="305.30" width="8.60" height="8.60" fill="#3386ad" stroke="#2a1a20" stroke-width="0.8"/>
<circle cx="188.90" cy="310.90" r="4.50" fill="#3386ad" stroke="#2a1a20" stroke-width="0.8"/>
<path d="M188.90,327.76L193.41,336.19L184.39,336.19Z" fill="#3386ad" stroke="#2a1a20" stroke-width="0.8" stroke-linejoin="miter"/>
<rect x="200.70" y="337.90" width="8.60" height="8.60" fill="#c0375f" stroke="#2a1a20" stroke-width="0.8"/>
<circle cx="205.00" cy="342.20" r="4.50" fill="#c0375f" stroke="#2a1a20" stroke-width="0.8"/>
<path d="M205.00,361.66L209.51,370.09L200.49,370.09Z" fill="#c0375f" stroke="#2a1a20" stroke-width="0.8" stroke-linejoin="miter"/>
<rect x="210.30" y="302.20" width="8.60" height="8.60" fill="#3386ad" stroke="#2a1a20" stroke-width="0.8"/>
<circle cx="214.60" cy="306.50" r="4.50" fill="#3386ad" stroke="#2a1a20" stroke-width="0.8"/>
<path d="M214.60,304.86L219.11,313.29L210.09,313.29Z" fill="#3386ad" stroke="#2a1a20" stroke-width="0.8" stroke-linejoin="miter"/>
<rect x="226.70" y="321.40" width="8.60" height="8.60" fill="#c0375f" stroke="#2a1a20" stroke-width="0.8"/>
<circle cx="231.00" cy="325.70" r="4.50" fill="#c0375f" stroke="#2a1a20" stroke-width="0.8"/>
<path d="M231.00,351.36L235.51,359.79L226.49,359.79Z" fill="#c0375f" stroke="#2a1a20" stroke-width="0.8" stroke-linejoin="miter"/>
<path d="M257.00,312.36L261.51,320.79L252.49,320.79Z" fill="#c0375f" stroke="#2a1a20" stroke-width="0.8" stroke-linejoin="miter"/>
<rect x="252.70" y="305.20" width="8.60" height="8.60" fill="#c0375f" stroke="#2a1a20" stroke-width="0.8"/>
<circle cx="257.00" cy="309.50" r="4.50" fill="#c0375f" stroke="#2a1a20" stroke-width="0.8"/>
<rect x="262.30" y="296.40" width="8.60" height="8.60" fill="#3386ad" stroke="#2a1a20" stroke-width="0.8"/>
<circle cx="266.60" cy="305.30" r="4.50" fill="#3386ad" stroke="#2a1a20" stroke-width="0.8"/>
<path d="M266.60,299.06L271.12,307.49L262.09,307.49Z" fill="#3386ad" stroke="#2a1a20" stroke-width="0.8" stroke-linejoin="miter"/>
<text x="282.60" y="295.30" font-size="12" textLength="70.60" lengthAdjust="spacingAndGlyphs">Perturbations</text>
<text x="282.60" y="307.20" font-size="12" textLength="72.90" lengthAdjust="spacingAndGlyphs">and gene sets</text>
<rect x="282.1" y="316.60" width="5.4" height="5.4" fill="#000"/>
<circle cx="284.9" cy="331.30" r="2.8" fill="#000"/>
<path d="M284.9,340.30L288.1,346.20L281.7,346.20Z" fill="#000"/>
<circle cx="284.9" cy="355.90" r="3.4" fill="#c0375f" stroke="#2a1a20" stroke-width="0.7"/>
<circle cx="284.9" cy="368.50" r="3.4" fill="#3386ad" stroke="#2a1a20" stroke-width="0.7"/>
<text x="293.20" y="321.70" font-size="12" textLength="57.70" lengthAdjust="spacingAndGlyphs">Penfluridol</text>
<text x="293.20" y="334.30" font-size="12" textLength="52.00" lengthAdjust="spacingAndGlyphs">Flutamide</text>
<text x="293.20" y="346.30" font-size="12" textLength="58.00" lengthAdjust="spacingAndGlyphs">SCH-58261</text>
<text x="293.20" y="358.80" font-size="12" textLength="13.50" lengthAdjust="spacingAndGlyphs">All</text>
<text x="293.20" y="371.40" font-size="12" textLength="73.00" lengthAdjust="spacingAndGlyphs">Top 100 DEGs</text>
<rect x="420.5" y="279.5" width="264" height="178" fill="none" stroke="#777" stroke-width="1"/>
<text x="415.30" y="291.10" font-size="10" text-anchor="end" fill="#333">1.0</text>
<text x="415.30" y="325.20" font-size="10" text-anchor="end" fill="#333">0.8</text>
<text x="415.30" y="359.30" font-size="10" text-anchor="end" fill="#333">0.6</text>
<text x="415.30" y="393.40" font-size="10" text-anchor="end" fill="#333">0.4</text>
<text x="415.30" y="427.50" font-size="10" text-anchor="end" fill="#333">0.2</text>
<text x="415.30" y="461.60" font-size="10" text-anchor="end" fill="#333">0</text>
<text x="391.20" y="389.80" font-size="11" textLength="42.70" lengthAdjust="spacingAndGlyphs" transform="rotate(-90 391.20 389.80)" fill="#262626"><tspan font-style="italic">R</tspan><tspan font-size="8.6" dx="-0.4" dy="-4.1">2</tspan><tspan dy="4.1"> score</tspan></text>
<text x="461.70" y="471.70" font-size="12" text-anchor="middle">Mean</text>
<text x="461.70" y="484.30" font-size="12" text-anchor="middle" textLength="47.50" lengthAdjust="spacingAndGlyphs">all genes</text>
<text x="521.70" y="471.70" font-size="12" text-anchor="middle">Mean</text>
<text x="521.70" y="484.30" font-size="12" text-anchor="middle" textLength="50.50" lengthAdjust="spacingAndGlyphs">100 DEGs</text>
<text x="582.20" y="471.70" font-size="12" text-anchor="middle">s.d.</text>
<text x="582.20" y="484.30" font-size="12" text-anchor="middle" textLength="47.50" lengthAdjust="spacingAndGlyphs">all genes</text>
<text x="642.60" y="471.70" font-size="12" text-anchor="middle">s.d.</text>
<text x="642.60" y="484.30" font-size="12" text-anchor="middle" textLength="50.50" lengthAdjust="spacingAndGlyphs">100 DEGs</text>
<line x1="427" y1="421.20" x2="445" y2="421.20" stroke="#3a8cb2" stroke-width="2"/>
<text x="449.60" y="424.50" font-size="9" textLength="20.00" lengthAdjust="spacingAndGlyphs">CPA</text>
<line x1="427" y1="433.45" x2="445" y2="433.45" stroke="#1d2f5c" stroke-width="2"/>
<text x="449.60" y="436.75" font-size="9" textLength="26.00" lengthAdjust="spacingAndGlyphs">scGen</text>
<line x1="427" y1="445.70" x2="445" y2="445.70" stroke="#bb3760" stroke-width="2"/>
<text x="449.60" y="449.00" font-size="9" textLength="40.50" lengthAdjust="spacingAndGlyphs">PrePR-CT</text>
<g stroke="#555" stroke-width="1" fill="none"><line x1="450.50" y1="294.20" x2="450.50" y2="290.80"/><line x1="450.50" y1="293.20" x2="450.50" y2="289.40"/><line x1="448.20" y1="294.20" x2="452.80" y2="294.20"/><line x1="448.20" y1="289.40" x2="452.80" y2="289.40"/></g>
<rect x="446.00" y="290.80" width="9" height="2.40" fill="#3a8cb2" stroke="#222" stroke-width="0.9"/>
<line x1="446.00" y1="292.00" x2="455.00" y2="292.00" stroke="#1a1a1a" stroke-width="1"/>
<g stroke="#555" stroke-width="1" fill="none"><line x1="462.60" y1="289.80" x2="462.60" y2="288.60"/><line x1="462.60" y1="289.60" x2="462.60" y2="288.20"/><line x1="460.30" y1="289.80" x2="464.90" y2="289.80"/><line x1="460.30" y1="288.20" x2="464.90" y2="288.20"/></g>
<rect x="458.10" y="288.60" width="9" height="1.00" fill="#1d2f5c" stroke="#222" stroke-width="0.9"/>
<g stroke="#555" stroke-width="1" fill="none"><line x1="474.70" y1="289.80" x2="474.70" y2="288.60"/><line x1="474.70" y1="289.60" x2="474.70" y2="288.20"/><line x1="472.40" y1="289.80" x2="477.00" y2="289.80"/><line x1="472.40" y1="288.20" x2="477.00" y2="288.20"/></g>
<rect x="470.20" y="288.60" width="9" height="1.00" fill="#bb3760" stroke="#222" stroke-width="0.9"/>
<g stroke="#555" stroke-width="1" fill="none"><line x1="510.55" y1="300.00" x2="510.55" y2="293.90"/><line x1="510.55" y1="299.20" x2="510.55" y2="289.90"/><line x1="508.25" y1="300.00" x2="512.85" y2="300.00"/><line x1="508.25" y1="289.90" x2="512.85" y2="289.90"/></g>
<rect x="506.05" y="293.90" width="9" height="5.30" fill="#3a8cb2" stroke="#222" stroke-width="0.9"/>
<line x1="506.05" y1="298.50" x2="515.05" y2="298.50" stroke="#1a1a1a" stroke-width="1"/>
<g stroke="#555" stroke-width="1" fill="none"><line x1="522.65" y1="290.80" x2="522.65" y2="289.30"/><line x1="522.65" y1="290.50" x2="522.65" y2="288.80"/><line x1="520.35" y1="290.80" x2="524.95" y2="290.80"/><line x1="520.35" y1="288.80" x2="524.95" y2="288.80"/></g>
<rect x="518.15" y="289.30" width="9" height="1.20" fill="#1d2f5c" stroke="#222" stroke-width="0.9"/>
<g stroke="#555" stroke-width="1" fill="none"><line x1="534.75" y1="288.60" x2="534.75" y2="287.60"/><line x1="534.75" y1="288.40" x2="534.75" y2="287.20"/><line x1="532.45" y1="288.60" x2="537.05" y2="288.60"/><line x1="532.45" y1="287.20" x2="537.05" y2="287.20"/></g>
<rect x="530.25" y="287.60" width="9" height="0.80" fill="#bb3760" stroke="#222" stroke-width="0.9"/>
<g stroke="#555" stroke-width="1" fill="none"><line x1="570.60" y1="394.40" x2="570.60" y2="366.50"/><line x1="570.60" y1="387.40" x2="570.60" y2="353.50"/><line x1="568.30" y1="394.40" x2="572.90" y2="394.40"/><line x1="568.30" y1="353.50" x2="572.90" y2="353.50"/></g>
<rect x="566.10" y="366.50" width="9" height="20.90" fill="#3a8cb2" stroke="#222" stroke-width="0.9"/>
<line x1="566.10" y1="380.20" x2="575.10" y2="380.20" stroke="#1a1a1a" stroke-width="1"/>
<g stroke="#555" stroke-width="1" fill="none"><line x1="582.70" y1="447.00" x2="582.70" y2="376.30"/><line x1="582.70" y1="433.60" x2="582.70" y2="332.40"/><line x1="580.40" y1="447.00" x2="585.00" y2="447.00"/><line x1="580.40" y1="332.40" x2="585.00" y2="332.40"/></g>
<rect x="578.20" y="376.30" width="9" height="57.30" fill="#1d2f5c" stroke="#222" stroke-width="0.9"/>
<line x1="578.20" y1="419.20" x2="587.20" y2="419.20" stroke="#1a1a1a" stroke-width="1"/>
<g stroke="#555" stroke-width="1" fill="none"><line x1="594.80" y1="331.40" x2="594.80" y2="312.60"/><line x1="594.80" y1="328.70" x2="594.80" y2="299.30"/><line x1="592.50" y1="331.40" x2="597.10" y2="331.40"/><line x1="592.50" y1="299.30" x2="597.10" y2="299.30"/></g>
<rect x="590.30" y="312.60" width="9" height="16.10" fill="#bb3760" stroke="#222" stroke-width="0.9"/>
<line x1="590.30" y1="326.40" x2="599.30" y2="326.40" stroke="#1a1a1a" stroke-width="1"/>
<g stroke="#555" stroke-width="1" fill="none"><line x1="630.65" y1="387.50" x2="630.65" y2="370.40"/><line x1="630.65" y1="384.30" x2="630.65" y2="359.00"/><line x1="628.35" y1="387.50" x2="632.95" y2="387.50"/><line x1="628.35" y1="359.00" x2="632.95" y2="359.00"/></g>
<rect x="626.15" y="370.40" width="9" height="13.90" fill="#3a8cb2" stroke="#222" stroke-width="0.9"/>
<line x1="626.15" y1="381.60" x2="635.15" y2="381.60" stroke="#1a1a1a" stroke-width="1"/>
<g stroke="#555" stroke-width="1" fill="none"><line x1="642.75" y1="440.30" x2="642.75" y2="379.40"/><line x1="642.75" y1="422.80" x2="642.75" y2="353.00"/><line x1="640.45" y1="440.30" x2="645.05" y2="440.30"/><line x1="640.45" y1="353.00" x2="645.05" y2="353.00"/></g>
<rect x="638.25" y="379.40" width="9" height="43.40" fill="#1d2f5c" stroke="#222" stroke-width="0.9"/>
<line x1="638.25" y1="405.50" x2="647.25" y2="405.50" stroke="#1a1a1a" stroke-width="1"/>
<g stroke="#555" stroke-width="1" fill="none"><line x1="654.85" y1="292.60" x2="654.85" y2="289.90"/><line x1="654.85" y1="292.10" x2="654.85" y2="288.60"/><line x1="652.55" y1="292.60" x2="657.15" y2="292.60"/><line x1="652.55" y1="288.60" x2="657.15" y2="288.60"/></g>
<rect x="650.35" y="289.90" width="9" height="2.20" fill="#bb3760" stroke="#222" stroke-width="0.9"/>
<line x1="650.35" y1="291.20" x2="659.35" y2="291.20" stroke="#1a1a1a" stroke-width="1"/>
<rect x="39.5" y="546.5" width="105" height="122" fill="none" stroke="#777" stroke-width="1"/>
<rect x="170.5" y="546.5" width="105" height="122" fill="none" stroke="#777" stroke-width="1"/>
<text x="34.30" y="562.20" font-size="10" text-anchor="end" fill="#333">1.0</text>
<text x="34.30" y="589.05" font-size="10" text-anchor="end" fill="#333">0.9</text>
<text x="34.30" y="615.90" font-size="10" text-anchor="end" fill="#333">0.8</text>
<text x="34.30" y="642.75" font-size="10" text-anchor="end" fill="#333">0.7</text>
<text x="34.30" y="669.60" font-size="10" text-anchor="end" fill="#333">0.6</text>
<text x="61.00" y="537.70" font-size="11" textLength="56.80" lengthAdjust="spacingAndGlyphs" fill="#262626"><tspan font-style="italic">R</tspan><tspan font-size="8.6" dx="-0.4" dy="-4.1">2</tspan><tspan dy="4.1"> of mean</tspan></text>
<text x="197.20" y="537.80" font-size="11" textLength="46.30" lengthAdjust="spacingAndGlyphs" fill="#262626"><tspan font-style="italic">R</tspan><tspan font-size="8.6" dx="-0.4" dy="-4.1">2</tspan><tspan dy="4.1"> of s.d.</tspan></text>
<text x="10.90" y="628.70" font-size="11" textLength="42.70" lengthAdjust="spacingAndGlyphs" transform="rotate(-90 10.90 628.70)" fill="#262626"><tspan font-style="italic">R</tspan><tspan font-size="8.6" dx="-0.4" dy="-4.1">2</tspan><tspan dy="4.1"> score</tspan></text>
<text x="163.10" y="628.70" font-size="11" textLength="42.70" lengthAdjust="spacingAndGlyphs" transform="rotate(-90 163.10 628.70)" fill="#262626"><tspan font-style="italic">R</tspan><tspan font-size="8.6" dx="-0.4" dy="-4.1">2</tspan><tspan dy="4.1"> score</tspan></text>
<text x="52.30" y="673.00" font-size="11.8" text-anchor="end" textLength="34.6" lengthAdjust="spacingAndGlyphs" transform="rotate(-90 52.30 673.00)" fill="#222">B cells</text>
<text x="78.60" y="673.00" font-size="11.8" text-anchor="end" textLength="34.1" lengthAdjust="spacingAndGlyphs" transform="rotate(-90 78.60 673.00)" fill="#222">T cells</text>
<text x="104.10" y="673.00" font-size="11.8" text-anchor="end" textLength="42.8" lengthAdjust="spacingAndGlyphs" transform="rotate(-90 104.10 673.00)" fill="#222">NK cells</text>
<text x="130.30" y="673.00" font-size="11.8" text-anchor="end" textLength="69.3" lengthAdjust="spacingAndGlyphs" transform="rotate(-90 130.30 673.00)" fill="#222">Myeloid cells</text>
<text x="183.50" y="673.00" font-size="11.8" text-anchor="end" textLength="34.6" lengthAdjust="spacingAndGlyphs" transform="rotate(-90 183.50 673.00)" fill="#222">B cells</text>
<text x="209.20" y="673.00" font-size="11.8" text-anchor="end" textLength="34.1" lengthAdjust="spacingAndGlyphs" transform="rotate(-90 209.20 673.00)" fill="#222">T cells</text>
<text x="235.20" y="673.00" font-size="11.8" text-anchor="end" textLength="42.8" lengthAdjust="spacingAndGlyphs" transform="rotate(-90 235.20 673.00)" fill="#222">NK cells</text>
<text x="261.80" y="673.00" font-size="11.8" text-anchor="end" textLength="69.3" lengthAdjust="spacingAndGlyphs" transform="rotate(-90 261.80 673.00)" fill="#222">Myeloid cells</text>
<circle cx="47.90" cy="562.20" r="4.50" fill="#c0375f" stroke="#2a1a20" stroke-width="0.8"/>
<path d="M47.90,556.86L52.41,565.29L43.38,565.29Z" fill="#c0375f" stroke="#2a1a20" stroke-width="0.8" stroke-linejoin="miter"/>
<rect x="43.60" y="557.60" width="8.60" height="8.60" fill="#c0375f" stroke="#2a1a20" stroke-width="0.8"/>
<circle cx="57.90" cy="560.90" r="4.50" fill="#3386ad" stroke="#2a1a20" stroke-width="0.8"/>
<path d="M57.90,555.36L62.41,563.79L53.38,563.79Z" fill="#3386ad" stroke="#2a1a20" stroke-width="0.8" stroke-linejoin="miter"/>
<rect x="53.60" y="555.90" width="8.60" height="8.60" fill="#3386ad" stroke="#2a1a20" stroke-width="0.8"/>
<circle cx="73.50" cy="563.00" r="4.50" fill="#c0375f" stroke="#2a1a20" stroke-width="0.8"/>
<path d="M73.50,557.96L78.02,566.39L68.98,566.39Z" fill="#c0375f" stroke="#2a1a20" stroke-width="0.8" stroke-linejoin="miter"/>
<rect x="69.20" y="558.70" width="8.60" height="8.60" fill="#c0375f" stroke="#2a1a20" stroke-width="0.8"/>
<circle cx="83.50" cy="560.70" r="4.50" fill="#3386ad" stroke="#2a1a20" stroke-width="0.8"/>
<path d="M83.50,555.66L88.02,564.09L78.98,564.09Z" fill="#3386ad" stroke="#2a1a20" stroke-width="0.8" stroke-linejoin="miter"/>
<rect x="79.20" y="556.20" width="8.60" height="8.60" fill="#3386ad" stroke="#2a1a20" stroke-width="0.8"/>
<circle cx="99.50" cy="562.60" r="4.50" fill="#c0375f" stroke="#2a1a20" stroke-width="0.8"/>
<path d="M99.50,557.36L104.02,565.79L94.98,565.79Z" fill="#c0375f" stroke="#2a1a20" stroke-width="0.8" stroke-linejoin="miter"/>
<rect x="95.20" y="558.00" width="8.60" height="8.60" fill="#c0375f" stroke="#2a1a20" stroke-width="0.8"/>
<circle cx="109.50" cy="561.00" r="4.50" fill="#3386ad" stroke="#2a1a20" stroke-width="0.8"/>
<path d="M109.50,555.36L114.02,563.79L104.98,563.79Z" fill="#3386ad" stroke="#2a1a20" stroke-width="0.8" stroke-linejoin="miter"/>
<rect x="105.20" y="556.10" width="8.60" height="8.60" fill="#3386ad" stroke="#2a1a20" stroke-width="0.8"/>
<circle cx="125.50" cy="562.40" r="4.50" fill="#c0375f" stroke="#2a1a20" stroke-width="0.8"/>
<path d="M125.50,556.26L130.01,564.69L120.98,564.69Z" fill="#c0375f" stroke="#2a1a20" stroke-width="0.8" stroke-linejoin="miter"/>
<rect x="121.20" y="558.00" width="8.60" height="8.60" fill="#c0375f" stroke="#2a1a20" stroke-width="0.8"/>
<circle cx="135.40" cy="580.60" r="4.50" fill="#3386ad" stroke="#2a1a20" stroke-width="0.8"/>
<path d="M135.40,555.96L139.91,564.39L130.89,564.39Z" fill="#3386ad" stroke="#2a1a20" stroke-width="0.8" stroke-linejoin="miter"/>
<rect x="131.10" y="558.00" width="8.60" height="8.60" fill="#3386ad" stroke="#2a1a20" stroke-width="0.8"/>
<circle cx="188.90" cy="566.60" r="4.50" fill="#3386ad" stroke="#2a1a20" stroke-width="0.8"/>
<path d="M188.90,561.06L193.41,569.49L184.39,569.49Z" fill="#3386ad" stroke="#2a1a20" stroke-width="0.8" stroke-linejoin="miter"/>
<rect x="184.60" y="561.40" width="8.60" height="8.60" fill="#3386ad" stroke="#2a1a20" stroke-width="0.8"/>
<path d="M214.60,572.36L219.11,580.79L210.09,580.79Z" fill="#3386ad" stroke="#2a1a20" stroke-width="0.8" stroke-linejoin="miter"/>
<rect x="210.30" y="562.20" width="8.60" height="8.60" fill="#3386ad" stroke="#2a1a20" stroke-width="0.8"/>
<circle cx="214.60" cy="617.10" r="4.50" fill="#3386ad" stroke="#2a1a20" stroke-width="0.8"/>
<circle cx="240.40" cy="566.40" r="4.50" fill="#3386ad" stroke="#2a1a20" stroke-width="0.8"/>
<path d="M240.40,559.16L244.91,567.59L235.89,567.59Z" fill="#3386ad" stroke="#2a1a20" stroke-width="0.8" stroke-linejoin="miter"/>
<rect x="236.10" y="561.40" width="8.60" height="8.60" fill="#3386ad" stroke="#2a1a20" stroke-width="0.8"/>
<path d="M266.60,555.66L271.12,564.09L262.09,564.09Z" fill="#3386ad" stroke="#2a1a20" stroke-width="0.8" stroke-linejoin="miter"/>
<circle cx="266.40" cy="580.20" r="4.50" fill="#3386ad" stroke="#2a1a20" stroke-width="0.8"/>
<rect x="262.30" y="600.10" width="8.60" height="8.60" fill="#3386ad" stroke="#2a1a20" stroke-width="0.8"/>
<path d="M257.00,570.86L261.51,579.29L252.49,579.29Z" fill="#c0375f" stroke="#2a1a20" stroke-width="0.8" stroke-linejoin="miter"/>
<circle cx="257.00" cy="597.80" r="4.50" fill="#c0375f" stroke="#2a1a20" stroke-width="0.8"/>
<rect x="252.70" y="597.10" width="8.60" height="8.60" fill="#c0375f" stroke="#2a1a20" stroke-width="0.8"/>
<path d="M179.20,607.96L183.71,616.39L174.69,616.39Z" fill="#c0375f" stroke="#2a1a20" stroke-width="0.8" stroke-linejoin="miter"/>
<circle cx="179.20" cy="640.10" r="4.50" fill="#c0375f" stroke="#2a1a20" stroke-width="0.8"/>
<rect x="174.90" y="635.80" width="8.60" height="8.60" fill="#c0375f" stroke="#2a1a20" stroke-width="0.8"/>
<path d="M205.00,610.36L209.51,618.79L200.49,618.79Z" fill="#c0375f" stroke="#2a1a20" stroke-width="0.8" stroke-linejoin="miter"/>
<rect x="200.70" y="635.80" width="8.60" height="8.60" fill="#c0375f" stroke="#2a1a20" stroke-width="0.8"/>
<circle cx="205.00" cy="663.70" r="4.50" fill="#c0375f" stroke="#2a1a20" stroke-width="0.8"/>
<path d="M231.00,603.06L235.51,611.49L226.49,611.49Z" fill="#c0375f" stroke="#2a1a20" stroke-width="0.8" stroke-linejoin="miter"/>
<rect x="226.70" y="624.90" width="8.60" height="8.60" fill="#c0375f" stroke="#2a1a20" stroke-width="0.8"/>
<circle cx="231.00" cy="641.90" r="4.50" fill="#c0375f" stroke="#2a1a20" stroke-width="0.8"/>
<text x="282.00" y="562.70" font-size="12" textLength="70.60" lengthAdjust="spacingAndGlyphs">Perturbations</text>
<text x="282.00" y="575.64" font-size="12" textLength="72.90" lengthAdjust="spacingAndGlyphs">and gene sets</text>
<rect x="282.1" y="585.90" width="5.4" height="5.4" fill="#000"/>
<circle cx="284.9" cy="600.60" r="2.8" fill="#000"/>
<path d="M284.9,609.60L288.1,615.50L281.7,615.50Z" fill="#000"/>
<circle cx="284.9" cy="625.20" r="3.4" fill="#c0375f" stroke="#2a1a20" stroke-width="0.7"/>
<circle cx="284.9" cy="637.80" r="3.4" fill="#3386ad" stroke="#2a1a20" stroke-width="0.7"/>
<text x="293.20" y="591.00" font-size="12" textLength="46.60" lengthAdjust="spacingAndGlyphs">Scriptaid</text>
<text x="293.20" y="603.60" font-size="12" textLength="71.20" lengthAdjust="spacingAndGlyphs">Ketoconazole</text>
<text x="293.20" y="615.60" font-size="12" textLength="52.00" lengthAdjust="spacingAndGlyphs">Dactolisib</text>
<text x="293.20" y="628.10" font-size="12" textLength="13.50" lengthAdjust="spacingAndGlyphs">All</text>
<text x="293.20" y="640.70" font-size="12" textLength="73.00" lengthAdjust="spacingAndGlyphs">Top 100 DEGs</text>
<rect x="420.5" y="531.2" width="264" height="178" fill="none" stroke="#777" stroke-width="1"/>
<text x="415.30" y="542.80" font-size="10" text-anchor="end" fill="#333">1.0</text>
<text x="415.30" y="576.90" font-size="10" text-anchor="end" fill="#333">0.8</text>
<text x="415.30" y="611.00" font-size="10" text-anchor="end" fill="#333">0.6</text>
<text x="415.30" y="645.10" font-size="10" text-anchor="end" fill="#333">0.4</text>
<text x="415.30" y="679.20" font-size="10" text-anchor="end" fill="#333">0.2</text>
<text x="415.30" y="713.30" font-size="10" text-anchor="end" fill="#333">0</text>
<text x="391.20" y="629.00" font-size="11" textLength="42.70" lengthAdjust="spacingAndGlyphs" transform="rotate(-90 391.20 629.00)" fill="#262626"><tspan font-style="italic">R</tspan><tspan font-size="8.6" dx="-0.4" dy="-4.1">2</tspan><tspan dy="4.1"> score</tspan></text>
<text x="461.70" y="723.40" font-size="12" text-anchor="middle">Mean</text>
<text x="461.70" y="736.00" font-size="12" text-anchor="middle" textLength="47.50" lengthAdjust="spacingAndGlyphs">all genes</text>
<text x="521.70" y="723.40" font-size="12" text-anchor="middle">Mean</text>
<text x="521.70" y="736.00" font-size="12" text-anchor="middle" textLength="50.50" lengthAdjust="spacingAndGlyphs">100 DEGs</text>
<text x="582.20" y="723.40" font-size="12" text-anchor="middle">s.d.</text>
<text x="582.20" y="736.00" font-size="12" text-anchor="middle" textLength="47.50" lengthAdjust="spacingAndGlyphs">all genes</text>
<text x="642.60" y="723.40" font-size="12" text-anchor="middle">s.d.</text>
<text x="642.60" y="736.00" font-size="12" text-anchor="middle" textLength="50.50" lengthAdjust="spacingAndGlyphs">100 DEGs</text>
<line x1="427" y1="672.90" x2="445" y2="672.90" stroke="#3a8cb2" stroke-width="2"/>
<text x="450.20" y="676.20" font-size="8" textLength="18.00" lengthAdjust="spacingAndGlyphs">CPA</text>
<line x1="427" y1="685.15" x2="445" y2="685.15" stroke="#1d2f5c" stroke-width="2"/>
<text x="450.20" y="688.45" font-size="8" textLength="23.50" lengthAdjust="spacingAndGlyphs">scGen</text>
<line x1="427" y1="697.40" x2="445" y2="697.40" stroke="#bb3760" stroke-width="2"/>
<text x="450.20" y="700.70" font-size="8" textLength="36.00" lengthAdjust="spacingAndGlyphs">PrePR-CT</text>
<g stroke="#555" stroke-width="1" fill="none"><line x1="450.50" y1="551.30" x2="450.50" y2="545.70"/><line x1="450.50" y1="550.50" x2="450.50" y2="545.00"/><line x1="448.20" y1="551.30" x2="452.80" y2="551.30"/><line x1="448.20" y1="545.00" x2="452.80" y2="545.00"/></g>
<rect x="446.00" y="545.70" width="9" height="4.80" fill="#3a8cb2" stroke="#222" stroke-width="0.9"/>
<line x1="446.00" y1="548.20" x2="455.00" y2="548.20" stroke="#1a1a1a" stroke-width="1"/>
<g stroke="#555" stroke-width="1" fill="none"><line x1="462.60" y1="555.00" x2="462.60" y2="546.20"/><line x1="462.60" y1="555.00" x2="462.60" y2="546.20"/><line x1="460.30" y1="555.00" x2="464.90" y2="555.00"/><line x1="460.30" y1="546.20" x2="464.90" y2="546.20"/></g>
<rect x="458.10" y="546.20" width="9" height="8.80" fill="#1d2f5c" stroke="#222" stroke-width="0.9"/>
<line x1="458.10" y1="546.60" x2="467.10" y2="546.60" stroke="#1a1a1a" stroke-width="1"/>
<g stroke="#555" stroke-width="1" fill="none"><line x1="474.70" y1="541.30" x2="474.70" y2="540.30"/><line x1="474.70" y1="541.10" x2="474.70" y2="540.00"/><line x1="472.40" y1="541.30" x2="477.00" y2="541.30"/><line x1="472.40" y1="540.00" x2="477.00" y2="540.00"/></g>
<rect x="470.20" y="540.30" width="9" height="0.80" fill="#bb3760" stroke="#222" stroke-width="0.9"/>
<g stroke="#555" stroke-width="1" fill="none"><line x1="510.55" y1="544.20" x2="510.55" y2="542.00"/><line x1="510.55" y1="543.70" x2="510.55" y2="541.60"/><line x1="508.25" y1="544.20" x2="512.85" y2="544.20"/><line x1="508.25" y1="541.60" x2="512.85" y2="541.60"/></g>
<rect x="506.05" y="542.00" width="9" height="1.70" fill="#3a8cb2" stroke="#222" stroke-width="0.9"/>
<line x1="506.05" y1="543.00" x2="515.05" y2="543.00" stroke="#1a1a1a" stroke-width="1"/>
<g stroke="#555" stroke-width="1" fill="none"><line x1="522.65" y1="564.50" x2="522.65" y2="544.20"/><line x1="522.65" y1="564.50" x2="522.65" y2="541.20"/><line x1="520.35" y1="564.50" x2="524.95" y2="564.50"/><line x1="520.35" y1="541.20" x2="524.95" y2="541.20"/></g>
<rect x="518.15" y="544.20" width="9" height="20.30" fill="#1d2f5c" stroke="#222" stroke-width="0.9"/>
<line x1="518.15" y1="545.70" x2="527.15" y2="545.70" stroke="#1a1a1a" stroke-width="1"/>
<g stroke="#555" stroke-width="1" fill="none"><line x1="534.75" y1="540.00" x2="534.75" y2="539.10"/><line x1="534.75" y1="539.80" x2="534.75" y2="538.90"/><line x1="532.45" y1="540.00" x2="537.05" y2="540.00"/><line x1="532.45" y1="538.90" x2="537.05" y2="538.90"/></g>
<rect x="530.25" y="539.10" width="9" height="0.80" fill="#bb3760" stroke="#222" stroke-width="0.9"/>
<g stroke="#555" stroke-width="1" fill="none"><line x1="570.60" y1="677.80" x2="570.60" y2="640.70"/><line x1="570.60" y1="662.80" x2="570.60" y2="630.60"/><line x1="568.30" y1="677.80" x2="572.90" y2="677.80"/><line x1="568.30" y1="630.60" x2="572.90" y2="630.60"/></g>
<rect x="566.10" y="640.70" width="9" height="22.10" fill="#3a8cb2" stroke="#222" stroke-width="0.9"/>
<line x1="566.10" y1="651.00" x2="575.10" y2="651.00" stroke="#1a1a1a" stroke-width="1"/>
<g stroke="#555" stroke-width="1" fill="none"><line x1="582.70" y1="709.00" x2="582.70" y2="681.20"/><line x1="582.70" y1="709.00" x2="582.70" y2="681.20"/><line x1="580.40" y1="709.00" x2="585.00" y2="709.00"/><line x1="580.40" y1="681.20" x2="585.00" y2="681.20"/></g>
<rect x="578.20" y="681.20" width="9" height="27.80" fill="#1d2f5c" stroke="#222" stroke-width="0.9"/>
<line x1="578.20" y1="702.10" x2="587.20" y2="702.10" stroke="#1a1a1a" stroke-width="1"/>
<g stroke="#555" stroke-width="1" fill="none"><line x1="594.80" y1="589.20" x2="594.80" y2="578.50"/><line x1="594.80" y1="589.20" x2="594.80" y2="565.40"/><line x1="592.50" y1="589.20" x2="597.10" y2="589.20"/><line x1="592.50" y1="565.40" x2="597.10" y2="565.40"/></g>
<rect x="590.30" y="578.50" width="9" height="10.70" fill="#bb3760" stroke="#222" stroke-width="0.9"/>
<line x1="590.30" y1="585.40" x2="599.30" y2="585.40" stroke="#1a1a1a" stroke-width="1"/>
<g stroke="#555" stroke-width="1" fill="none"><line x1="630.65" y1="652.20" x2="630.65" y2="624.10"/><line x1="630.65" y1="644.80" x2="630.65" y2="619.40"/><line x1="628.35" y1="652.20" x2="632.95" y2="652.20"/><line x1="628.35" y1="619.40" x2="632.95" y2="619.40"/></g>
<rect x="626.15" y="624.10" width="9" height="20.70" fill="#3a8cb2" stroke="#222" stroke-width="0.9"/>
<line x1="626.15" y1="634.20" x2="635.15" y2="634.20" stroke="#1a1a1a" stroke-width="1"/>
<g stroke="#555" stroke-width="1" fill="none"><line x1="642.75" y1="704.30" x2="642.75" y2="627.50"/><line x1="642.75" y1="687.50" x2="642.75" y2="601.40"/><line x1="640.45" y1="704.30" x2="645.05" y2="704.30"/><line x1="640.45" y1="601.40" x2="645.05" y2="601.40"/></g>
<rect x="638.25" y="627.50" width="9" height="60.00" fill="#1d2f5c" stroke="#222" stroke-width="0.9"/>
<line x1="638.25" y1="659.40" x2="647.25" y2="659.40" stroke="#1a1a1a" stroke-width="1"/>
<g stroke="#555" stroke-width="1" fill="none"><line x1="654.85" y1="549.20" x2="654.85" y2="543.20"/><line x1="654.85" y1="549.20" x2="654.85" y2="543.20"/><line x1="652.55" y1="549.20" x2="657.15" y2="549.20"/><line x1="652.55" y1="543.20" x2="657.15" y2="543.20"/></g>
<rect x="650.35" y="543.20" width="9" height="6.00" fill="#bb3760" stroke="#222" stroke-width="0.9"/>
<line x1="650.35" y1="546.00" x2="659.35" y2="546.00" stroke="#1a1a1a" stroke-width="1"/>
<circle cx="462.50" cy="571.70" r="3.7" fill="#fff" stroke="#333" stroke-width="0.9"/>
<circle cx="522.70" cy="607.50" r="3.7" fill="#fff" stroke="#333" stroke-width="0.9"/>
<circle cx="582.50" cy="631.70" r="3.7" fill="#fff" stroke="#333" stroke-width="0.9"/>
<circle cx="654.90" cy="567.20" r="3.7" fill="#fff" stroke="#333" stroke-width="0.9"/>
<path d="M157.2 774h0m0.7 0h0m2.4-0.1h0m0.6 0.2h0m-10.8 1.3h0m3.9-0.4h0m0.6 0.5h0m2.1-0.3h0m1-0.1h0m0.1-0.1h0m3.7-0.4h0m5.6-0.1h0m-22.6 2h0m6.8-0.7h0m0.8 0.2h0m1.1 0.3h0m3.6-0.4h0m7.7 0.5h0m9.3-0.1h0m2 0h0m-31.1 0.3h0m4 0.5h0m3.6 0.1h0m0.3-0.2h0m1.9-0.4h0m1 0h0m1 0.4h0m2.1-0.3h0m3.9 0.6h0m3.2 0.1h0m4-0.6h0m2.8 0.6h0m2.5-0.8h0m0 0.8h0m0.1-0.4h0m0.6 0h0m3.5 0h0m0.7 0.4h0m-42.5 1h0m4.3-0.8h0m3 0.5h0m2.5 0.1h0m0.2 0.1h0m1.8-0.5h0m1.6 0h0m1.9 0.1h0m4.9 0.4h0m1.7 0h0m2.8-0.1h0m5.9-0.5h0m2.8 0.7h0m3.5-0.1h0m5.9-0.5h0m0.1 0.4h0m8.3 0.3h0m-52.2 0.3h0m4.4 0.3h0m3.6-0.5h0m6.6 0.6h0m5.9-0.4h0m5.3-0.1h0m0.4-0.2h0m2.8 1h0m1.2-0.6h0m1.8 0.5h0m4.3-0.5h0m-23.9 1.1h0m0.5 0.2h0m6.8-0.1h0m0.7 0h0m2.2 0.2h0m2.7-0.3h0m3.3 0.3h0m14.1-0.2h0m1.3 0h0m1.7 0.2h0m1.3 0.1h0m0-0.8h0m3.9 0h0m1.7 0.4h0m0.9 0h0m-54.7 1.3h0m7.9-0.5h0m4.3-0.1h0m4.3 0h0m1.6 0.7h0m2.5-0.2h0m7.5-0.3h0m0.2 0h0m0-0.2h0m4.1-0.1h0m1.3 0h0m2.2 0.4h0m2.4-0.3h0m0.4 0h0m1 0.5h0m2.4-0.6h0m1.9 0.4h0m2.5 0.1h0m3.7-0.3h0m0.5 0h0m5.4-0.2h0m0.1 0.5h0m0.3-0.6h0m-62.2 1.6h0m7.6-0.5h0m0.5 0.5h0m0.1-0.1h0m5.7 0.2h0m2.1 0.3h0m0.1-0.8h0m4.3 0.7h0m0.4-0.2h0m1.9 0h0m3.7 0.1h0m19.7-0.4h0m0 0h0m1.1-0.2h0m0.8 0.5h0m4.7-0.6h0m5 0.5h0m6.7 0.1h0m3.5 0.2h0m5.2-0.5h0m0.5 0.5h0m-75.1 0.8h0m4.2-0.4h0m2.4 0.7h0m2.5-0.1h0m9 0h0m2.6-0.3h0m2.7 0.2h0m0.2-0.3h0m0.2-0.4h0m6.6 0.8h0m0.4-0.3h0m3.7 0.2h0m0-0.4h0m1.7 0.5h0m1.3-0.6h0m1.8 0.7h0m5.7-0.7h0m3.6 0.4h0m1.2 0h0m1.2-0.3h0m0.4 0.3h0m1 0.2h0m0.4-0.4h0m2.1-0.2h0m4.2-0.2h0m4.4 0.4h0m1.8 0.2h0m7.7-0.1h0m2.7-0.2h0m8.7 0.1h0m-86.7 0.8h0m6.1-0.2h0m3.3 0.1h0m4.1 0.4h0m1.8 0.4h0m0.2-0.1h0m0.6 0h0m3.1-0.4h0m0.3 0.3h0m4.8 0h0m1.4 0.2h0m3.5-0.1h0m0.4-0.4h0m4.5-0.1h0m2.9 0.4h0m1.1-0.1h0m0.1-0.5h0m3.6-0.1h0m1 0h0m0.6 0.7h0m4.7-0.1h0m5.5 0.2h0m2.4 0.1h0m4.6-0.5h0m3.1 0h0m3.6 0.3h0m7.7 0.1h0m4.8-0.7h0m2.1 0.1h0m2.2 0.5h0m8.3-0.4h0m-87 1.1h0m3.7 0.2h0m2.8-0.1h0m6.6 0.3h0m0.6-0.2h0m3-0.4h0m0.7-0.2h0m4.4 0.9h0m2.4 0h0m7.7-0.9h0m1.5 0.7h0m1.9-0.6h0m1.1 0.5h0m13-0.5h0m8.4 0h0m3.4-0.2h0m1.3 0.3h0m5.4-0.1h0m1.7 0.1h0m6.9 0.5h0m0.7-0.4h0m7.1 0.2h0m2.8-0.2h0m1.2 0.5h0m3.2-0.3h0m-98.1 1.1h0m3.7-0.6h0m0.9 0.5h0m0.1-0.5h0m5.1 0.6h0m0.6-0.5h0m0.6 0.8h0m2.3-0.9h0m2.7 0.4h0m3.2-0.2h0m4.3 0h0m8.3-0.1h0m0.2 0.3h0m6.4 0.3h0m3.3-0.2h0m12.3 0.3h0m0.4 0h0m2.8-0.6h0m1-0.3h0m4.2 0.7h0m2.2-0.4h0m3.9-0.2h0m3.2 0.5h0m0.9 0.1h0m2.3-0.3h0m9.2-0.2h0m7 0.6h0m0.6-0.6h0m6.6 0.1h0m-100.3 1.6h0m4.6-0.5h0m0.1 0.2h0m3.4-0.3h0m0.7 0h0m5.6 0.5h0m0.6-0.5h0m0.7 0.7h0m3.3-0.4h0m3.5 0.1h0m0.6-0.3h0m4.1 0.6h0m5.4-0.4h0m3.1 0h0m3.5 0.2h0m13.3-0.7h0m2.3-0.1h0m5.1 0h0m3 0.6h0m10.8-0.6h0m15 0.8h0m0.3-0.3h0m1.1 0.2h0m3-0.1h0m1.3-0.6h0m3.9 0.1h0m5 0.1h0m5.1-0.2h0m0.3 0.4h0m-103.8 1.4h0m1.2-0.3h0m11.8 0h0m3.7 0.3h0m0.7-0.5h0m5.8 0.7h0m0.4-0.2h0m4.8 0h0m4.3 0h0m4.1 0.1h0m1.7-0.1h0m1.9-0.7h0m3.6 0.4h0m3.1-0.5h0m2.5 0.5h0m0.9-0.2h0m1.3 0.4h0m3 0.1h0m2.6-0.1h0m0-0.6h0m0.5-0.1h0m2.3 0.3h0m2 0h0m0.4 0h0m3.9 0.3h0m1.8-0.4h0m5.3 0.1h0m3.8-0.2h0m3.2 0.6h0m0.1 0h0m1.5-0.5h0m5.7 0.5h0m0.8-0.1h0m2-0.2h0m0.3 0.5h0m7-0.4h0m0.5 0.3h0m0.1 0.1h0m3.2-0.3h0m2.3-0.2h0m-110.8 1.3h0m3.6 0.1h0m0.8-0.3h0m0.8-0.1h0m0-0.4h0m0.3 0.3h0m4.9 0.4h0m14.4-0.3h0m3-0.1h0m1.2 0.4h0m0.9 0.2h0m0.3-0.7h0m5.5 0h0m2.1-0.2h0m4.1 0.4h0m1-0.4h0m0.9 0.2h0m2.6 0.8h0m3-0.4h0m2.8-0.1h0m2.3-0.2h0m6.6 0.2h0m4.9 0.3h0m3.1 0h0m0.5-0.5h0m2.8 0.3h0m3.6 0.1h0m4.4-0.3h0m2.7-0.1h0m0.2 0.5h0m7.2-0.1h0m0.8-0.4h0m5.8 0.1h0m0.8-0.1h0m2.8 0.5h0m0-0.3h0m0-0.3h0m6 0.3h0m3 0.1h0m3.4 0.2h0m-110.5 0.8h0m2.3 0.3h0m9.6-0.7h0m0.2 0.2h0m1.4 0.1h0m1 0.1h0m3-0.3h0m0.3-0.2h0m1.7 0.9h0m4.4-0.9h0m1.7 0.2h0m1.8 0.4h0m1.2-0.3h0m0.9-0.1h0m1.4-0.1h0m0.9 0h0m0.5-0.1h0m3.1 0.8h0m0.6-0.1h0m3.1-0.4h0m2.3-0.4h0m1.1 0.6h0m4.2 0.1h0m0 0.1h0m0.6-0.8h0m2.5 0.6h0m4.8-0.1h0m1.6 0.2h0m2 0.1h0m0.4 0.2h0m2.4-0.2h0m13.6-0.2h0m1.9-0.2h0m0.7 0.4h0m8.5 0.1h0m4.9-0.2h0m3.4 0.1h0m1-0.2h0m3-0.5h0m8.6 0.1h0m7.3 0.5h0m-116.5 1.1h0m9.7-0.7h0m1.2 0h0m2.3 0.1h0m0.7 0.6h0m2.9-0.6h0m5.6 0.7h0m5.2-0.3h0m2.5 0.3h0m1.9-0.1h0m1.4-0.6h0m6.6 0.7h0m8.3 0h0m0.1-0.9h0m2.7 0.3h0m9.6 0h0m1.2 0.1h0m4.6-0.1h0m0.3 0.4h0m1.4-0.3h0m2.5 0.5h0m5.6-0.8h0m0.6 0.2h0m0.8 0.6h0m0.5-0.1h0m1.1-0.5h0m4.8 0.3h0m1.2-0.4h0m2-0.2h0m20.5 0.8h0m-106.7 0.4h0m1.4 0.2h0m2.7-0.2h0m1.7 0h0m2.8 0.7h0m2.9-0.6h0m2.4-0.1h0m0.3 0.7h0m2.8 0h0m4.1-0.5h0m1.8 0.6h0m0.7-0.7h0m1.6 0.2h0m0.5 0h0m1.5-0.3h0m0.8 0.7h0m0.4-0.1h0m0.4-0.4h0m6.5 0.4h0m0.4-0.5h0m8.8 0.6h0m2.7-0.3h0m4.5-0.4h0m2.5 0.2h0m2.3 0.5h0m0.4 0.1h0m9.7-0.1h0m1.9-0.8h0m0.1 0.4h0m12.6-0.2h0m2.7 0h0m2.4 0.3h0m0.8-0.3h0m3.3 0.5h0m4.3-0.4h0m8.1 0.4h0m4.6-0.5h0m-103.2 0.9h0m4.5 0.4h0m3.4 0h0m0.4-0.2h0m0.1 0h0m3.3-0.3h0m2.1 0.5h0m1.7-0.4h0m5.6 0.7h0m0.8-0.4h0m0.8-0.3h0m7.6 0.2h0m0.5-0.3h0m2.4 0h0m3.9 0.9h0m11-0.9h0m2.7 0.6h0m2.1 0.2h0m0.7-0.5h0m1.8 0h0m0.7 0.5h0m1.8-0.3h0m4.7-0.5h0m0.3 0.2h0m0.8-0.2h0m3.2 0.7h0m4-0.1h0m1.2 0.1h0m3.5-0.3h0m1.1 0.2h0m2.9-0.5h0m1.4 0.2h0m1.6 0.5h0m0.1 0.1h0m0.1-0.5h0m5.8 0.1h0m9.9 0.1h0m1.4-0.4h0m0 0.2h0m9.3-0.1h0m0.7 0.1h0m-113.3 0.8h0m1.5-0.1h0m7.1 0.8h0m3.7 0h0m3.4-0.4h0m5.5-0.5h0m1.4 0.2h0m4.2 0.3h0m1.8-0.5h0m2.5 0.9h0m1.9-0.5h0m2.1 0.2h0m2-0.6h0m0.2-0.1h0m1.3 0.1h0m7.4-0.1h0m2.7 0.3h0m11.5 0.6h0m10.8-0.3h0m0.1-0.1h0m2-0.2h0m1.6 0.5h0m20.4-0.1h0m4.1-0.1h0m6 0.3h0m3-0.7h0m1.3 0.5h0m2.4-0.7h0m1.8 0.1h0m3.7 0h0m-118.4 1.3h0m2.2 0.4h0m1.4-0.1h0m3.2 0h0m0.4-0.6h0m0-0.1h0m0.8 1h0m2.2-0.6h0m1-0.3h0m2.5 0.4h0m4.7 0.1h0m4.5 0.1h0m0.6-0.1h0m3.8-0.1h0m1.2 0.3h0m1.5-0.3h0m6.5 0.1h0m2.5-0.2h0m1-0.4h0m5.6 0.7h0m0.4-0.6h0m1.4 0.6h0m0.6 0.3h0m5.7-0.5h0m2.7-0.4h0m5 0.9h0m6.5-0.9h0m3.2 0.6h0m1.3 0.1h0m4.9-0.1h0m1.6-0.6h0m0.4 0.6h0m4.5-0.2h0m2 0.3h0m4.6-0.7h0m2.6 0.6h0m4.9-0.6h0m2.7 0.4h0m2.2-0.5h0m0.3 0.1h0m4.1-0.1h0m-100 1.3h0m0.4 0.2h0m3.4 0.4h0m0.5-0.8h0m0.3 0.3h0m11.7 0.1h0m1.1-0.3h0m3.1 0.2h0m0.3 0.4h0m0.1-0.7h0m0.6 0.1h0m2.8 0.8h0m3.5-0.3h0m8.2-0.5h0m0.2 0.8h0m0.5-0.9h0m2 0.4h0m0.4-0.3h0m1.7 0.2h0m0.6-0.3h0m0.1 0.3h0m0.4 0.4h0m0.2-0.2h0m0.4 0.4h0m0.1-0.9h0m3.7 0.4h0m6.7-0.2h0m5.7 0.5h0m0.6-0.5h0m1.6 0.4h0m3.2 0.2h0m7.1-0.5h0m4.6-0.2h0m6.3 0.4h0m1.6 0.3h0m0.2-0.1h0m1.5-0.1h0m1.2 0.2h0m2.9-0.9h0m0.2 0.7h0m5.1-0.4h0m9.6-0.1h0m0.9 0h0m2.2 0.8h0m-111.1 0.7h0m0.2 0.3h0m1-0.2h0m1.2-0.5h0m3.3 0.3h0m0-0.2h0m1.7-0.3h0m2.2 0.4h0m6.2 0.4h0m1.7 0h0m0.2-0.8h0m0.3 0.8h0m0.1 0.1h0m3.8-0.1h0m1 0h0m0.5-0.4h0m1.8 0.2h0m1.9-0.1h0m5.3 0.2h0m0.3-0.7h0m3.9 0.3h0m4.2 0.3h0m0.1 0.1h0m1.7-0.3h0m0.5 0.2h0m6.9 0.2h0m3.7-0.3h0m0.2 0.1h0m8.2 0.2h0m2.5-0.8h0m3 0.1h0m5.2-0.1h0m0.4 0.8h0m1.9-0.5h0m2.4 0.3h0m2.4-0.2h0m1.5 0.4h0m1.7-0.6h0m1.3 0h0m0.2 0.3h0m4.6 0h0m0.2-0.2h0m3.4 0.4h0m0.6-0.4h0m0.8 0.5h0m0.4-0.3h0m9.2-0.6h0m3.5 0.6h0m5.9-0.2h0m-118.4 1.2h0m1.5 0h0m2.6 0.2h0m7.4-0.6h0m4.5 0.1h0m0.6 0h0m0.8 0.2h0m2-0.2h0m0.7-0.1h0m3.2 0.5h0m1-0.5h0m0.4 0.5h0m3.2-0.4h0m1.4-0.1h0m0.1 0h0m8.5-0.1h0m5.3 0.5h0m3.4-0.1h0m0.4 0.1h0m0.9-0.2h0m1.2 0.3h0m2.7-0.4h0m1.4 0h0m3.5 0.3h0m3.6 0.2h0m1.9-0.1h0m0.2 0.2h0m10.7-0.1h0m19.9-0.8h0m11.1 0.5h0m0.6 0h0m8.4 0.4h0m1.9-0.5h0m6-0.2h0m-121.1 1.3h0m1.8 0.3h0m3-0.7h0m1 0.5h0m0.3-0.5h0m2.3 0.7h0m1.3 0h0m3-0.3h0m0.3-0.4h0m2.3 0.2h0m0.4 0.6h0m4.2-0.5h0m0.8 0.3h0m3.6-0.3h0m5.4-0.3h0m3 0.6h0m1.6 0h0m0.3 0.3h0m10.3 0h0m2.4-0.8h0m1.5 0.3h0m1.4 0.1h0m7.6-0.3h0m3-0.1h0m2.5 0.3h0m0.1 0.3h0m8.4-0.8h0m0.5 0.2h0m2.4 0.8h0m0.2-0.9h0m0.4 0.3h0m0.5-0.1h0m0.8 0.2h0m1.7 0.3h0m1.1 0.1h0m2.7-0.6h0m2.7-0.2h0m8.8 0.2h0m9.1 0.6h0m3.4-0.1h0m2.7 0.1h0m5.5-0.7h0m3.4 0h0m5.3 0.4h0m-125.1 0.6h0m7.4 0.4h0m2.3-0.1h0m5.4-0.2h0m8.4-0.2h0m7.6 0h0m0.7 0.2h0m20.7-0.1h0m1.5 0.6h0m3.2-0.4h0m2.1 0.3h0m4.9-0.6h0m1.7 0.1h0m1.7 0.1h0m6 0.5h0m5.9-0.5h0m2.1 0h0m0.4-0.2h0m0.3 0h0m1.2 0.8h0m1.9-0.8h0m3 0.2h0m2.1 0.2h0m3.2 0.4h0m3.9 0h0m1.4 0h0m1-0.4h0m4.1-0.4h0m7.4 0.6h0m2.7-0.4h0m7.3 0h0m1.9-0.2h0m1.3 0.3h0m0.8-0.3h0m-126.9 1.4h0m0.2-0.1h0m4.1-0.3h0m1.8 0.1h0m1.6 0.3h0m0.5 0.3h0m1.9-0.4h0m0.4 0.2h0m1.6-0.2h0m2.5-0.3h0m5.4 0.1h0m3.6 0.1h0m5.2 0.7h0m0.6-0.3h0m0.7-0.5h0m5.3 0.2h0m1.4 0.5h0m1.7-0.7h0m2.2 0.2h0m0.3 0.2h0m0.7 0h0m1.6-0.5h0m4.6 0.9h0m1.3-0.2h0m3.1-0.3h0m4.8 0.3h0m4.7-0.7h0m0.5 0.5h0m2.3 0.3h0m5.9-0.2h0m1.1-0.2h0m3.1 0.4h0m3.2 0.1h0m1.8-0.6h0m2.8 0.2h0m10.7-0.3h0m0.2 0.1h0m1-0.3h0m3.2 0.2h0m2.7 0h0m2.5 0.7h0m1.7-0.9h0m4.2 0.2h0m4.5-0.2h0m1.1 0h0m9.2 0.3h0m3.3 0.4h0m0.2-0.6h0m1.9 0.6h0m-129.3 0.9h0m1.1-0.6h0m2.3 0.3h0m12.3 0h0m3.4 0h0m7.2 0.6h0m1.1-0.4h0m5.3-0.2h0m0.3-0.2h0m3.4 0.4h0m1.3 0.1h0m3.3-0.6h0m0.5 0.3h0m2 0h0m1.2-0.3h0m3.3 0.3h0m5-0.2h0m0.5 0.1h0m5.4 0.4h0m1.2-0.1h0m1.6-0.3h0m5.5-0.1h0m0.8 0.4h0m0.1-0.1h0m3.3 0.2h0m14.7-0.4h0m1.8 0.1h0m6.7 0.3h0m1.2 0.1h0m4.3-0.5h0m3.1 0.5h0m0.9-0.2h0m2.3-0.3h0m0.1-0.2h0m6.4 0.4h0m2.5 0.4h0m0.9-0.5h0m2.8 0.3h0m1.2 0.2h0m9-0.6h0m-130.1 1.3h0m4.4-0.1h0m1.8-0.3h0m0.5 0.5h0m2.2-0.5h0m3.1 0h0m8.9 0h0m0 0.7h0m7.2 0h0m3-0.1h0m0.9-0.4h0m5.1-0.4h0m2.9 0.9h0m2.7-0.7h0m1-0.2h0m0.4 0.2h0m3.8 0.4h0m3.3-0.1h0m3.9-0.2h0m1.4 0.3h0m0.8-0.1h0m0.5 0.2h0m3.3-0.2h0m0.4 0.2h0m21.2-0.1h0m0.9 0.2h0m0.6-0.8h0m1.6 0.6h0m0.2 0h0m6.1-0.5h0m2.7-0.1h0m4.1 1h0m4.8-0.4h0m5.4-0.4h0m3.1 0.8h0m4.6-0.7h0m3.5-0.3h0m0.1 0.4h0m2.4 0.2h0m4-0.5h0m4.1 0.7h0m1.2-0.2h0m0.3-0.5h0m0.3 0.8h0m-128.4 0.2h0m0.5 0.2h0m10 0.2h0m6.2-0.1h0m2.9 0.3h0m1.2 0.2h0m3.7-0.3h0m0.2 0.3h0m0.1-0.6h0m1.3 0.4h0m4.9 0.1h0m1.7 0.1h0m5.8-0.2h0m1.5-0.1h0m0.3-0.4h0m0.4 0h0m5.2 0h0m6.4 0.6h0m8.6-0.4h0m1 0h0m0.5 0.2h0m8.6-0.1h0m1.2 0.4h0m1.7-0.2h0m2.3-0.5h0m0.5 0.6h0m0-0.7h0m3.9 0.1h0m2.6 0.4h0m3.4-0.4h0m1.3 0.1h0m12.3-0.1h0m0.2 0h0m2.1 0.7h0m2.3-0.7h0m10.4 0.2h0m0.7 0.5h0m0.4-0.6h0m5.9 0.6h0m-129.1 1h0m2.3 0h0m0.2-0.8h0m1.6 0.3h0m2.1-0.1h0m2.4 0h0m1.2-0.1h0m1.8-0.1h0m6.7 0.1h0m3 0.1h0m2.4 0.3h0m5.6 0.3h0m1-0.9h0m8.8 1h0m0.7-0.8h0m0.4 0.3h0m0.6 0.3h0m1.4-0.1h0m0.8-0.6h0m0.3 0.9h0m3.4-0.5h0m0.1-0.3h0m14.1 0.1h0m1.1 0.6h0m0.4-0.6h0m4.1 0.1h0m4.4-0.4h0m0.9 0.3h0m1.3 0.4h0m0.4-0.4h0m3.2-0.1h0m7.9 0.1h0m2.2-0.1h0m0.1-0.2h0m0.7 0.8h0m6.5 0.1h0m0.7 0h0m4.1-0.4h0m2.7-0.3h0m1.7 0.4h0m2.4-0.4h0m4.9 0.5h0m2.7-0.1h0m6.7-0.2h0m0.9 0.6h0m0-0.8h0m0.1-0.1h0m3 0.1h0m1.3 0.4h0m3.2 0.3h0m1.9 0.1h0m-130.2 0.9h0m0.8-0.3h0m1.4-0.1h0m9.7 0.2h0m0.4-0.3h0m0.8 0h0m0.4 0.1h0m3.4-0.1h0m7.2 0.5h0m4.9-0.9h0m0.6 0.6h0m2.5 0.1h0m0.6-0.3h0m0.3 0.5h0m1.5 0.1h0m0.4-0.2h0m2.1-0.1h0m1.1 0h0m3.1-0.5h0m0.8 0.7h0m0.5-0.5h0m7.3 0.1h0m0.4 0.5h0m6-0.3h0m0.5 0.1h0m1.2 0h0m1.6-0.3h0m1-0.4h0m6.4 0.3h0m5.9 0.1h0m2.6-0.4h0m1.9 0.3h0m1.9-0.3h0m4.7 0.1h0m0.5 0.5h0m0.1-0.2h0m3-0.4h0m2.3 0.7h0m16.1-0.5h0m0.1 0.2h0m7.9 0.4h0m8.6 0h0m3.9-0.8h0m1.7 0.1h0m7.9 0.7h0m0.7-0.2h0m3.2-0.3h0m-138.4 0.9h0m12.1 0.2h0m0.1 0.1h0m8.3 0.3h0m0.2 0h0m7.9-0.4h0m0.5-0.3h0m0.7 0.5h0m16.9 0.1h0m6-0.5h0m7.3 0.4h0m0.4-0.1h0m0.6-0.6h0m2 0.7h0m3.6-0.2h0m4.3 0.4h0m0.1-0.3h0m0.2-0.5h0m0.1 0.2h0m1.1 0.7h0m1.7-0.9h0m0.7 0.1h0m8.7 0.7h0m0.2-0.4h0m4.6 0h0m1.2 0.2h0m0.6-0.3h0m0.4-0.4h0m2.1 0.9h0m0.5-0.5h0m3.8-0.2h0m1.6 0.5h0m0.8-0.5h0m5.2 0.7h0m2.7 0h0m5-0.7h0m4.1 0.4h0m0-0.4h0m5.1 0.5h0m12.5-0.6h0m5.5 0.5h0m1.2 0h0m-145.3 0.7h0m4.6 0.1h0m8.3 0.4h0m3.4-0.8h0m6.4 0.1h0m1.5-0.1h0m1.5 0.4h0m12.8 0.1h0m0.3 0.5h0m4.6-0.8h0m7.9-0.1h0m3.6 0.3h0m0.4 0h0m1.2-0.3h0m1.2 0.2h0m0.4 0.4h0m2.3 0h0m3.2-0.2h0m0.1-0.2h0m3.7 0.3h0m0.9 0h0m1.3-0.4h0m4.2 0.8h0m7.3-0.5h0m2.4 0.1h0m0.2-0.4h0m1.2 0.5h0m5.2-0.2h0m3.8 0.1h0m1.5-0.3h0m2.1 0.1h0m1.3 0.3h0m3.7-0.5h0m3.4 0.8h0m2.9 0h0m2.1 0h0m1.1-0.9h0m3.1 0.4h0m21.8-0.4h0m4.4 0.1h0m2.4 0.1h0m-144.9 1.7h0m3.3-0.6h0m1.2-0.3h0m10 0.4h0m0.6-0.3h0m5 0.7h0m1.8-0.6h0m0.2-0.1h0m1.7 0.2h0m1.5-0.2h0m3.2 0.2h0m3.7-0.2h0m4.3-0.2h0m3.1 0.9h0m5.2-0.7h0m0.9 0.7h0m0.1-0.1h0m3.5-0.3h0m5.3 0.3h0m0.6 0.1h0m1.8 0h0m1.6-0.1h0m0.3-0.6h0m5.9 0.6h0m0.1 0.1h0m4.9-0.1h0m1-0.3h0m1.3 0.4h0m1.4 0h0m16.9-0.4h0m0.9-0.5h0m9.4 0.4h0m2.5 0.3h0m4.5-0.2h0m4.4 0.2h0m2.4-0.2h0m0.8-0.2h0m3.7 0.6h0m2.8-0.9h0m8.5 0.9h0m2.3-0.7h0m0.2-0.1h0m13.5 0.4h0m1-0.1h0m-139.1 0.6h0m0.7 0.7h0m0.1-0.6h0m5.7 0.3h0m2.7 0.3h0m1-0.4h0m2.4 0.6h0m3.3-0.6h0m0.7-0.2h0m1.8 0.9h0m3.4-0.2h0m4.8-0.6h0m0.6 0.2h0m0.9 0h0m4.4 0.6h0m1.7-0.6h0m3.5-0.3h0m2.8 0.7h0m0.3-0.4h0m0.2 0.3h0m2.1 0.1h0m3.3 0.1h0m0.1-0.1h0m3.6-0.4h0m2.5-0.3h0m1.8 0.2h0m1.2 0.5h0m2.3-0.5h0m0.5 0.7h0m2.5-0.2h0m4.7-0.3h0m5.9 0.4h0m10.1-0.4h0m0.3 0.1h0m0.1 0.3h0m0.8-0.6h0m0.2 0.4h0m13.8 0h0m2.3-0.3h0m18.7-0.2h0m8.1 0.6h0m5.7-0.1h0m1.7-0.4h0m4.1 0.3h0m2.6 0.2h0m-148.8 1.1h0m9.4-0.6h0m7.4-0.3h0m3.7 0.6h0m0.5 0.3h0m0.7-0.3h0m0.6 0.1h0m2.3 0.2h0m3.7-0.1h0m5.8-0.1h0m1.8-0.4h0m0.5 0.7h0m3.6-1h0m3.4 0.7h0m1.3-0.2h0m1.7-0.4h0m1.9 0.5h0m15.5 0.4h0m9.6-0.8h0m0.6-0.1h0m4.6 0h0m3.1 0.6h0m8.2-0.5h0m3.2 0.6h0m0.5-0.2h0m1.5-0.4h0m2.3 0.3h0m0 0.3h0m0.3-0.6h0m0.1-0.2h0m3 0.4h0m1.1 0h0m0.3-0.1h0m10.3 0.5h0m9.4-0.5h0m0.9-0.2h0m5.1 0.1h0m0.8-0.1h0m2.3 0.1h0m14.4 0.1h0m1.7-0.3h0m-143.9 1.1h0m7 0h0m1.9 0h0m12.7 0.1h0m4.3 0.7h0m7.4-0.4h0m4 0.1h0m0.6 0h0m0.7-0.2h0m0.7 0.3h0m0.8 0.1h0m1.8-0.2h0m1.2 0.3h0m2.2-0.6h0m10.9 0h0m4.6 0.4h0m0.6-0.3h0m0.9 0h0m5.4-0.2h0m0.7 0.5h0m9.4 0h0m6.3-0.1h0m2.2-0.3h0m0.3 0.2h0m1.6 0.1h0m3.4 0.2h0m5.6-0.7h0m2 0h0m6.7 0h0m2.6 0.9h0m1.7-0.4h0m4-0.6h0m2.2 0.6h0m8.5 0h0m10.5-0.5h0m-133.4 1.7h0m1 0.1h0m1.6-0.6h0m0.1 0.3h0m3.3-0.2h0m1.2-0.1h0m0.3 0.2h0m0.3 0.5h0m5-0.7h0m6.6 0.2h0m2.5-0.4h0m0 0.7h0m7.2 0.2h0m0.8-0.4h0m0.6-0.6h0m9.3 0.2h0m4 0.3h0m2-0.1h0m9.9-0.3h0m3.6 0.2h0m2.5 0.7h0m2.6-0.7h0m1.9 0h0m1.6 0.6h0m4.6-0.2h0m0.9-0.4h0m1.5 0.6h0m7-0.6h0m2.5 0.1h0m3.3 0h0m13.9 0.1h0m1.6-0.4h0m3 0.1h0m1.4-0.2h0m6.9 0.7h0m2.2 0h0m11.4-0.7h0m10.8 0.5h0m-144.4 1.4h0m6-0.4h0m3.7-0.2h0m4.5 0.5h0m0.7-0.4h0m1.6 0.1h0m4 0.2h0m0.5-0.7h0m1.2 0.8h0m3.1-0.7h0m1.8 0.2h0m9.9 0.4h0m2-0.3h0m7.3-0.1h0m0.3 0.2h0m3.3 0.4h0m1.5 0h0m1.2-0.2h0m0.7-0.1h0m2-0.1h0m3.5 0h0m6.5 0.3h0m2.4 0.1h0m31.7-0.1h0m7.3-0.2h0m10 0.1h0m10.5-0.2h0m2.3-0.3h0m6.6-0.1h0m5.9 0.2h0m0.6-0.2h0m-139.8 1h0m10.7 0.2h0m1.9-0.1h0m0.2 0.3h0m0.1 0.2h0m4.3 0.1h0m0.5-0.1h0m0-0.2h0m10 0.3h0m0.3-0.1h0m0.9-0.6h0m0.3 0h0m3.9 0.9h0m7.7 0h0m4.1-0.5h0m2.3 0.4h0m8.1-0.1h0m4.9-0.3h0m4-0.4h0m2.5 0.7h0m13.5-0.1h0m9.6-0.3h0m2.5-0.1h0m4.3 0.7h0m0.1-0.6h0m2.4 0.3h0m8.8-0.1h0m3.8 0.1h0m13.3-0.5h0m2.8-0.2h0m18.5 0.4h0m-148.6 0.9h0m17.6 0.4h0m5.2-0.3h0m2.6 0.5h0m0.3-0.3h0m2-0.5h0m5 0.7h0m3.5-0.6h0m1.8 0.2h0m1.8-0.3h0m0.2 0.1h0m0.8 0.8h0m0.2-0.9h0m0.6 0.5h0m1-0.6h0m5.6 0.6h0m0.3-0.2h0m1.1 0.6h0m2.8-0.7h0m3.3 0h0m1 0.7h0m0.3-0.4h0m0.8 0.1h0m2.2 0h0m0.2 0.1h0m1.9-0.5h0m0.4 0.7h0m0.5-0.2h0m7-0.3h0m5.6-0.4h0m1.2 0.5h0m1.4-0.3h0m1-0.1h0m1.5 0.6h0m11.3 0.2h0m8.4-1h0m11.2 1h0m0.8-0.4h0m21.1-0.4h0m0.1 0.5h0m2.4-0.6h0m3.1 0.8h0m2.3-0.8h0m4 0.7h0m1.5-0.7h0m1.2 0.8h0m-149.5 0.5h0m0.1 0.2h0m0.9-0.6h0m9.4 0.7h0m0.3-0.5h0m0.8-0.2h0m0.5 0h0m5.5 0.6h0m0.9-0.2h0m0.2 0.3h0m2.1-0.7h0m4.8 1h0m2.4-0.8h0m1.7-0.2h0m8.9 0.5h0m1.1 0h0m10.8-0.3h0m1.1 0.5h0m11.3-0.3h0m2.3-0.3h0m11 0.7h0m1.2-0.4h0m1.7 0h0m1-0.2h0m0.4 0.5h0m0.9 0h0m3-0.4h0m0-0.1h0m0.7 0.7h0m3.3-0.6h0m1.2 0.3h0m5.4-0.1h0m35.8 0.1h0m1.5-0.5h0m12-0.1h0m5.2 0.4h0m-148.6 1.1h0m15.3 0h0m0.6-0.1h0m0.2 0h0m1.6-0.4h0m1.9 0.8h0m4.7 0h0m6.1 0.1h0m11.7-0.2h0m0.3 0.1h0m0.4-0.3h0m1.7 0h0m3.8-0.1h0m3.5-0.3h0m2.6 0.6h0m1.7 0h0m5.2 0h0m0.5 0.3h0m1.5-0.7h0m12.2 0h0m1.5 0h0m0.9 0.1h0m10.9 0.3h0m2 0h0m0 0.2h0m0.5 0.1h0m0.3-0.2h0m1.7 0.1h0m1.8-0.6h0m15.7 0.2h0m0.1-0.2h0m3.4 0.6h0m16.7-0.5h0m9.2 0.4h0m5.4 0.1h0m0.1-0.5h0m-145.3 1.1h0m4.5-0.1h0m1.1 0.2h0m0.8-0.2h0m12.2-0.1h0m2 0h0m15.9 0.3h0m9.3-0.5h0m0.2 0.4h0m0.8-0.3h0m15.4-0.1h0m1.1 0.8h0m0.2-0.6h0m1.1 0.5h0m11.5-0.1h0m3.9-0.1h0m7.3-0.5h0m3.1 0.7h0m9.6-0.1h0m2.2-0.2h0m5.2 0.3h0m2.6-0.7h0m0.6 0.6h0m5-0.5h0m3.4 0.6h0m30.3-0.4h0m2.4 0.5h0m-143.7 1h0m11.7-0.2h0m1.9-0.6h0m2.6 0.8h0m6.5-0.8h0m2.6 0.6h0m2 0.2h0m3-0.9h0m0.1 0.9h0m12.4-0.8h0m1.9 0h0m2.1 0.1h0m1 0.2h0m2.4 0.4h0m10.6 0.1h0m3.4-0.5h0m1.4 0.4h0m0.1-0.6h0m4.9 0.5h0m0.1-0.7h0m13.6 0.9h0m34.5-0.5h0m3.5 0.5h0m1.9-0.2h0m5.6-0.1h0m0.5-0.3h0m10.9 0.5h0m-153.5 1.2h0m6.3-0.6h0m1 0.3h0m1.4-0.5h0m7.2 0.4h0m11.5-0.4h0m8.1 0h0m5.1 0h0m1.1 0.3h0m1.3-0.1h0m1.8 0.4h0m2.4-0.4h0m3.5-0.2h0m0.9 0.3h0m0.1-0.3h0m2 0.6h0m4.4-0.1h0m6.9-0.4h0m0.3-0.2h0m0.5 0.5h0m1.7 0h0m0.4 0.3h0m1.3-0.6h0m1.3 0.6h0m0.2 0h0m10-0.8h0m0.3 0.2h0m4.8 0.3h0m3.2-0.4h0m0.8 0.7h0m4.1 0h0m1.2-0.9h0m0 0.9h0m2.2-0.8h0m6.1 0.1h0m2.4-0.2h0m4.2 0.9h0m6.8-0.5h0m15.4 0.3h0m6.3-0.1h0m5.7 0.1h0m0.3 0.2h0m10.5-0.4h0m-138.2 0.7h0m10.8 0.4h0m7.3 0.1h0m1.2 0.1h0m1.3-0.2h0m2.5-0.2h0m1.1-0.3h0m1.9 0.8h0m0-0.2h0m0.2-0.1h0m1.1-0.6h0m0.1 0.7h0m0.5 0.1h0m4.3 0h0m9.5-0.4h0m0.1 0.2h0m2.2-0.5h0m0 0.2h0m5.3 0h0m0.9 0.4h0m1.3-0.6h0m6.3 0.3h0m6.6-0.2h0m0.6 0.8h0m0.4-0.8h0m9.1-0.2h0m2.4 0.3h0m0.3-0.2h0m1.4 0.7h0m3 0.1h0m1.1-0.5h0m15.1 0.1h0m0.2 0.4h0m15.2-0.2h0m6.1-0.3h0m1.5 0.2h0m0.8 0.3h0m3.6 0h0m5.6-0.9h0m7.5 0.2h0m-139.5 0.8h0m1.4 0.5h0m2.7 0.1h0m1.6-0.5h0m1.9 0.8h0m0.1 0.1h0m1.1-0.5h0m1-0.5h0m0.9 0.2h0m12.2 0h0m0.1 0h0m0.1 0h0m3.4 0h0m0.8 0.1h0m1.2 0.4h0m1.7-0.4h0m1.1 0.6h0m1.4-0.9h0m1.6 0.5h0m7-0.2h0m0.2 0.5h0m0.3-0.5h0m3.9 0.4h0m1 0.3h0m13.2-0.5h0m1.1-0.2h0m2.1 0.4h0m3.4 0.1h0m12.8-0.1h0m6.4-0.4h0m6.7-0.2h0m2.3 0.6h0m12-0.6h0m26.2 0.9h0m3.4-0.9h0m6.1 0.4h0m-161 1.1h0m12.8 0h0m3.7-0.3h0m0.4 0.5h0m0.4-0.8h0m0 1h0m7-0.8h0m3.2 0.3h0m1.3-0.4h0m3.5 0.5h0m1.3 0.3h0m0.5-0.1h0m5.4-0.4h0m2.5-0.1h0m5.5-0.2h0m8.3 0.5h0m3.9 0.3h0m0.4-0.7h0m5.9 0.2h0m0.6 0.3h0m1.6-0.4h0m2.2-0.2h0m6.2 0.1h0m2.3 0.7h0m3.4-0.3h0m4.8-0.2h0m0.3-0.2h0m4.3-0.1h0m1.8 0.4h0m0.7-0.4h0m3.5 0.3h0m0.6-0.2h0m0.8 0.2h0m1.7 0.3h0m2.7 0h0m9.2 0.2h0m1.9 0h0m1.1-0.2h0m3.3 0.3h0m16.3-0.8h0m5.8-0.1h0m4.3 0.4h0m-146.6 1.4h0m6.5-0.4h0m8.5-0.4h0m11.9 0.7h0m6.1-0.4h0m1.2 0.5h0m2.4-0.2h0m0.4 0.1h0m2.7-0.1h0m3.5-0.6h0m6.2 0.2h0m2.2 0.3h0m14.4-0.5h0m4.6 0.7h0m8-0.3h0m21.1 0.3h0m0.1-0.1h0m5.4-0.3h0m1.9 0.1h0m6.6-0.3h0m5.2 0h0m1.4 0.7h0m7.9-0.4h0m3.4 0.2h0m3 0.1h0m6.8-0.7h0m0 0.6h0m1.4-0.1h0m1.4-0.3h0m0.5 0.6h0m1-0.4h0m4.6-0.5h0m0.8 0.6h0m7.7-0.5h0m-127.3 1h0m1.8 0.2h0m7 0h0m2 0h0m3.8 0.1h0m7.2-0.1h0m5 0.3h0m0.3-0.3h0m3.1-0.3h0m9.7 1h0m2.8-0.7h0m4.7 0.1h0m3.4-0.2h0m0.3 0.4h0m0.1 0.1h0m6.5 0h0m6.9 0.3h0m3.9-0.7h0m2.1 0.5h0m8.3-0.6h0m3.6 0.1h0m9.7 0.6h0m2.3-0.1h0m1.4-0.6h0m5.3 0.8h0m5.2-0.2h0m3-0.3h0m0.5 0.4h0m4.9-0.1h0m0.5-0.7h0m0.7 0.6h0m2.7 0.1h0m6-0.2h0m-154.4 0.8h0m7 0.6h0m2.7-0.8h0m9.5-0.1h0m4 0.3h0m4.1 0.3h0m0.1-0.4h0m19.3 0.5h0m1.8-0.8h0m4.1 0.7h0m4.3-0.1h0m2.7-0.2h0m1.3 0h0m19.8 0.1h0m1.3 0.5h0m9.5-0.1h0m1.2-0.2h0m5.9-0.7h0m1 0.4h0m1.5 0.4h0m3 0.1h0m4.1-0.7h0m2.3 0.3h0m4.1 0h0m1.8 0.4h0m1.5-0.8h0m8.2 0.9h0m0.8-0.3h0m24.5 0.2h0m2 0.1h0m10.4-0.3h0m-145.6 1.2h0m7.2-0.2h0m2.6-0.7h0m2 0.4h0m7.6-0.3h0m1.6 0.7h0m0.5 0.2h0m0.9-0.6h0m8.3 0.6h0m1-0.5h0m4.5 0.4h0m13.2-0.7h0m6.9 0.7h0m10.8-0.8h0m5.1 0.5h0m3.8-0.5h0m0.7 0.3h0m3.7 0.1h0m0.2 0.4h0m1.5-0.3h0m0.8 0.3h0m9.5-0.5h0m6.8 0.3h0m1.9 0.1h0m7.2-0.3h0m2.4-0.1h0m2.3-0.4h0m4.4 0.5h0m1.4-0.4h0m0.3 0.5h0m5 0.4h0m0.3-0.8h0m9.2 0.2h0m-155.1 0.8h0m10.1 0.6h0m10.9-0.5h0m0.6 0.6h0m0.6 0h0m10.6-0.6h0m1.8-0.2h0m4.2 0.5h0m0.6 0h0m5.9 0.3h0m1.8-0.7h0m8-0.1h0m3.3 0.5h0m1.8-0.2h0m13.8 0.5h0m1.9-0.2h0m9.2 0h0m3.4-0.3h0m0.2-0.1h0m6-0.3h0m7.5 0.1h0m6.3 0.3h0m7.3 0.2h0m0.5 0.3h0m3.7-0.2h0m1.1 0.1h0m5-0.1h0m14.5 0h0m3.3-0.2h0m1.3 0.1h0m2.8 0h0m3.1-0.5h0m5.7 0.4h0m5.4 0.1h0m0.1 0.3h0m1.1-0.7h0m0.2 0.5h0m3.9-0.2h0m-168.3 0.6h0m1.5 0.6h0m15.9 0h0m5.9-0.4h0m3.8-0.3h0m0.6 0.2h0m1.8 0h0m6.3 0.8h0m4.4-0.2h0m0.1-0.5h0m0.7 0.2h0m3.4-0.4h0m5.2 0h0m1.8 0.1h0m8.9 0.4h0m1.2-0.4h0m0 0.4h0m1.5 0.3h0m0.2 0h0m3.7-0.8h0m4.3 0.5h0m1.1-0.5h0m0.1 0.8h0m1.8-0.8h0m3 0.7h0m2.5-0.8h0m5.9 0.9h0m1.3 0.1h0m1.1-0.4h0m2.9-0.1h0m14.7 0h0m0.6-0.3h0m1.3 0.7h0m1.1-0.7h0m3.5 0.4h0m5.5-0.6h0m1.6 0.1h0m3.4 0.2h0m5.9 0.4h0m5.3-0.1h0m2.7-0.4h0m0.5 0.4h0m1.9-0.6h0m2.4 0.7h0m2.6 0.2h0m9.5-0.8h0m1.4 0.7h0m-155.5 0.6h0m0.2 0.4h0m3.8-0.7h0m1.2 0h0m2.6-0.1h0m5.7 0.1h0m3.6 0h0m3.8 0.4h0m12 0h0m14.3 0h0m15.4 0.1h0m0.5-0.3h0m1.8 0.1h0m10.2-0.2h0m19.6-0.1h0m3.9-0.1h0m0.9 0.4h0m0.6 0.5h0m24.8-0.3h0m1.4 0.3h0m1-0.7h0m3.4-0.2h0m3 0.8h0m12.6 0.1h0m0.5-0.3h0m0.4-0.6h0m6 0.9h0m4.4-0.3h0m0.1 0.1h0m4.2-0.7h0m4.7 0.2h0m1 0h0m1.4 0.5h0m2-0.2h0m-170.3 0.6h0m8.3 0.1h0m1.1 0.7h0m0-0.6h0m0.6 0.3h0m4.3-0.3h0m2.8 0.6h0m8.6-0.8h0m4.6 0.8h0m2.6-0.2h0m7.7-0.7h0m1 1h0m2.9-0.1h0m0.8-0.2h0m0.2-0.3h0m2.7 0.3h0m19.4-0.5h0m6.6 0h0m1.5 0.3h0m0.1-0.3h0m3.8 0h0m0.1 0.3h0m0.5-0.2h0m0.8 0.5h0m4.1 0h0m2.3 0h0m11.6 0.2h0m2.8-0.2h0m3.1-0.2h0m4.1-0.4h0m2.7 0.5h0m1.2 0.1h0m0.4-0.3h0m2-0.1h0m10.7 0.1h0m1.2-0.4h0m1.2-0.1h0m1.9 0.6h0m8.3-0.1h0m6.3 0.3h0m4.8 0.1h0m5.2 0h0m4.2-0.4h0m4.8 0.3h0m1.7 0.1h0m-167.1 0.8h0m14.8 0.1h0m7 0.1h0m8.3-0.9h0m22.7 0.8h0m5.5-0.2h0m1.2-0.1h0m10.4 0.1h0m2.9-0.4h0m1.2 0.5h0m3.9 0.1h0m4.3-0.6h0m2 0.3h0m9.8 0.5h0m3.4-0.2h0m15.5 0h0m0.2-0.3h0m17.8 0.3h0m3.9-0.2h0m13.8-0.4h0m2.8 0.8h0m0.1-0.6h0m8.6 0.6h0m10.8-0.3h0m1.7-0.6h0m-172.6 1.8h0m4.5-0.1h0m0.9-0.2h0m9.5 0.4h0m1.4-1h0m1.5 0.3h0m0.5 0.5h0m3.5-0.4h0m11.4 0.6h0m0.1-0.6h0m0.2 0.4h0m2.6-0.4h0m1 0.2h0m20.8-0.5h0m8.6 0.1h0m6.1 0h0m11.2 0.3h0m6.6 0.2h0m3.4 0.1h0m2.3-0.7h0m6.8 0.7h0m10.1-0.5h0m4 0.4h0m15.3-0.1h0m0.7 0.3h0m0.6-0.3h0m4.5 0.2h0m14.2 0h0m1.6-0.6h0m4.3 0.5h0m4.2-0.5h0m-157.3 1.5h0m1.5 0h0m6.9-0.2h0m5 0.4h0m3-0.1h0m0.6 0.1h0m2.4-0.2h0m0 0.2h0m10.5-0.5h0m5.2 0.2h0m2.7 0.3h0m2.3 0.1h0m22.1-0.3h0m7.5-0.6h0m2.8 0.4h0m5.2 0.2h0m11.3-0.5h0m1.9-0.1h0m3.5 0.3h0m1.1 0.4h0m3.3 0h0m3-0.3h0m0.9 0.3h0m2.1 0.2h0m1.3-0.8h0m14.9 0.5h0m3.1 0h0m5.1 0h0m1.2-0.2h0m1.8-0.5h0m9.7 0h0m5.4 0.1h0m6.7 0.6h0m4.9-0.3h0m1.8 0.1h0m4.9-0.3h0m0.5 0.8h0m-164.5 0.6h0m0.1-0.6h0m0.9 0.3h0m9.9 0.2h0m2.4-0.4h0m3.2 0.8h0m0.4-0.2h0m5.2 0.2h0m3.6-0.4h0m2.9 0.2h0m4.9-0.3h0m0.7 0h0m12-0.2h0m8.2-0.1h0m16.5 0.8h0m14.8-0.4h0m9.3-0.3h0m2.7 0h0m1 0.1h0m8.6 0.4h0m3.3 0.1h0m1.9-0.3h0m11.2 0.2h0m2.5-0.5h0m0.2 0.3h0m8 0.4h0m4.1-0.9h0m4 0.3h0m1 0.1h0m9.9 0.3h0m7.6-0.4h0m2.8-0.3h0m2.7 0.6h0m1.7-0.5h0m-177.1 1.6h0m3.4 0h0m2.4-0.5h0m10.6 0.6h0m5.4 0.1h0m1-0.1h0m0.8-0.2h0m0 0.4h0m2.7-0.3h0m11.8-0.6h0m3.1 0.4h0m1.1 0h0m7.9 0.5h0m6-0.3h0m0.2 0.2h0m2.1-0.6h0m4.3 0.2h0m1-0.2h0m16.9-0.2h0m16.2 0.4h0m0.8 0.2h0m1.3 0.3h0m9.2-0.9h0m1.1 0.3h0m3 0.1h0m10.3-0.3h0m2.4 0.5h0m2.3-0.5h0m6.5 0.1h0m3-0.2h0m1.8 0.9h0m0.8-0.6h0m9.2 0h0m3.4 0.1h0m1.2-0.4h0m2.1 0.8h0m2.5-0.6h0m8.3-0.1h0m3.6-0.1h0m2.4 0h0m-171.2 1.3h0m1.2 0.4h0m1.9-0.5h0m4.3 0.2h0m3.8-0.3h0m2.5 0.6h0m7.1 0.1h0m3.8-0.2h0m2.8 0h0m4.7-0.5h0m1.2 0.6h0m1.5-0.2h0m5.5 0.2h0m2.2-0.3h0m2.6 0.1h0m10 0.2h0m3.4-0.1h0m10.5 0h0m5.7-0.1h0m6.4-0.4h0m8.4 0.2h0m0.7 0.1h0m10.7-0.4h0m0.5 0.7h0m0.2-0.6h0m3.8 0.6h0m2.1-0.8h0m1.8 0.2h0m6.7 0.4h0m0.9-0.5h0m13.1 0.7h0m0.3-0.2h0m6.2-0.4h0m2.6 0.8h0m3.6-0.2h0m0.9-0.5h0m0.5 0.3h0m1.4 0h0m2.3-0.4h0m0.7 0.8h0m14.5-0.2h0m13.3-0.3h0m-175.9 1.4h0m1.8-0.7h0m0.2 0.6h0m1.7-0.5h0m2.7 0h0m8.1-0.2h0m8.4 0.2h0m7.3 0.2h0m5.2 0.2h0m5.1 0.1h0m0.4 0.2h0m5.8-0.7h0m11.6 0.6h0m9.8-0.6h0m30-0.1h0m2.6 0.5h0m0.6-0.6h0m7.1 0h0m14.7 0.9h0m0.2-0.1h0m0.9-0.8h0m5.7 0.5h0m5 0h0m3.4 0.3h0m3.2-0.1h0m1.7-0.8h0m6.9 0.6h0m18.4-0.6h0m7.4 0.1h0m0.4 0.4h0m-175.2 0.8h0m0.5 0.4h0m0.2-0.5h0m6.8 0.8h0m1.5-0.3h0m8.5 0.2h0m3.6 0h0m4.1-0.5h0m0.1-0.3h0m4.4 0.6h0m6.7-0.2h0m0.7-0.1h0m4.1-0.4h0m7.9 0.9h0m2.3-0.7h0m0.6 0.1h0m10.9 0h0m2.9 0.4h0m0.2 0.1h0m4.1-0.4h0m0.5 0.1h0m3.5 0h0m8.9 0h0m18.5 0.3h0m10.7-0.2h0m2.4 0.3h0m5.6 0h0m2.9-0.1h0m4.5-0.6h0m1.9 0.2h0m3.4 0.2h0m0.5-0.5h0m16.3 0.3h0m3.8 0.3h0m3.9 0.1h0m6-0.7h0m1.5 0h0m4.2 0.5h0m-172.2 0.8h0m2.6 0.1h0m2.3 0.5h0m2.7-0.2h0m1.6 0.1h0m4.1-0.3h0m2.9 0.2h0m1.5-0.7h0m18.6 0.3h0m5 0.3h0m9.2-0.2h0m49.3-0.4h0m8.3 0.9h0m2.5-0.5h0m1.1 0h0m3.6-0.2h0m7.7 0.2h0m3.2-0.5h0m7 0.8h0m1-0.7h0m1.8 0.7h0m1.2-0.1h0m0.4-0.1h0m1.6-0.6h0m1.1 0.1h0m7.4 0.7h0m4.2-0.6h0m1.8 0.3h0m3.9-0.1h0m1.2-0.1h0m0.6 0.5h0m0-0.7h0m5.3 0.7h0m1.7-0.7h0m8.8 0.4h0m4.8-0.4h0m0.4 0h0m-184.5 1h0m9.3 0.5h0m1.9 0.4h0m0.8-0.4h0m1.6-0.4h0m1.2-0.1h0m1.9 0.8h0m2.2-0.5h0m0.3 0.4h0m0.8-0.5h0m0.4 0.1h0m0.2-0.4h0m1.7 0.9h0m0.5-0.4h0m1.9 0h0m8.3 0.3h0m0.4-0.5h0m0 0.3h0m12.7 0h0m1 0h0m10-0.2h0m10.2 0.1h0m8.4-0.1h0m1.7-0.1h0m1.7 0.1h0m22-0.3h0m5 0.2h0m4 0.6h0m0.9-0.4h0m1.6 0.5h0m1.8-0.3h0m10.6-0.3h0m3.9 0.6h0m1.5-0.6h0m5.1-0.2h0m1.5 0.1h0m2.6 0h0m4.1 0.7h0m0.9-0.4h0m7.7 0.2h0m2.5-0.1h0m8.6-0.4h0m-166.7 1.6h0m7.7 0.1h0m2 0h0m2.6-0.5h0m2.4 0.4h0m0.3 0h0m2.1-0.6h0m0.8-0.1h0m3.6 0.2h0m0.8 0h0m1 0h0m3.1 0.1h0m4.6-0.3h0m0.1 0.6h0m0.1-0.3h0m0 0.2h0m7-0.4h0m1.4 0.6h0m1.7-0.5h0m4.5-0.3h0m16.2 0.3h0m3.5 0.4h0m9.6-0.3h0m5.9 0.1h0m5.1 0.3h0m0.1 0h0m0.3-0.4h0m12.9 0.3h0m8.6-0.3h0m22.4 0.5h0m11.1-0.8h0m0.6 0.3h0m1.2 0.1h0m0.4-0.1h0m3.1-0.3h0m1.1 0.2h0m0.3-0.2h0m4.2 0.7h0m0.8-0.9h0m0.6 0.5h0m5.3 0.5h0m3.3-1h0m0.5 0.7h0m2 0h0m0.3-0.1h0m1.5-0.5h0m1.3 0.9h0m1.9-0.4h0m1.1-0.4h0m1.6 0.3h0m8.7 0.1h0m-184.9 1.1h0m8.8 0.3h0m1.9-0.3h0m3.5-0.5h0m3.3 0.7h0m3.7-0.6h0m2.1 0.3h0m3.9 0.1h0m2.6 0.2h0m0.2 0.1h0m0.2-0.2h0m4.6-0.5h0m1.7 0.3h0m3.5-0.5h0m4.8 0.1h0m1.1 0h0m6.7 0.6h0m17.6-0.7h0m13.4 0.1h0m8 0.4h0m16.4-0.2h0m3.4 0.6h0m10.1-0.6h0m2.8-0.2h0m14 0.7h0m3.4-0.7h0m8.3 0.4h0m1.9 0.3h0m0.4-0.3h0m0.1-0.1h0m5.2 0.1h0m0.7-0.2h0m5.7 0.5h0m0.6-0.3h0m2.6-0.1h0m0.1 0h0m0.1 0.3h0m0.1-0.8h0m3.9 1h0m0.1-0.5h0m1.4 0.1h0m11.3-0.1h0m8.3-0.5h0m-192.7 1.2h0m1.6 0.5h0m1.3 0.2h0m2.1-0.3h0m4.5 0.1h0m0.2-0.1h0m1.3-0.4h0m0.4 0.8h0m0.6-0.4h0m4 0.3h0m1.4-0.7h0m3-0.2h0m5.9 0.3h0m0.4-0.1h0m2 0.5h0m2.3 0h0m6.3-0.6h0m7.2 0.7h0m1.3-0.3h0m3.9 0h0m2.9-0.3h0m2.1 0.4h0m2.4 0.2h0m19.2-0.7h0m2 0.3h0m2.2 0.2h0m0.4 0.2h0m4.3-0.2h0m15.6 0.2h0m1.6 0.1h0m8.1 0h0m1.5-0.2h0m2.4 0.1h0m3.5 0h0m16.9 0.1h0m12.4-0.7h0m4.6 0.7h0m3.9-0.5h0m1.6-0.3h0m3.9 0.2h0m2.8 0.1h0m1.9 0h0m4.4 0.6h0m5.2 0h0m1.6-0.3h0m1.2-0.6h0m9.4 0.7h0m1.2-0.6h0m-189.1 1.2h0m3.9-0.3h0m0.5 0.1h0m1.9 0h0m6.1-0.2h0m0.5 0.1h0m1.6 0.7h0m1.7-0.6h0m0-0.1h0m1.4 0.8h0m1.1-0.4h0m1 0h0m6.6-0.2h0m4.6-0.3h0m1.9 0.6h0m0.7 0.3h0m0.1-0.6h0m8.4 0.6h0m21.2-0.5h0m6.4 0.4h0m1.1-0.2h0m4.1-0.5h0m1.8 0.3h0m8-0.3h0m16.5 0.9h0m10.6-0.4h0m10.8 0h0m4.8-0.4h0m2.6 0h0m6.9-0.1h0m0.5 0h0m1.8 0h0m0.8 0.1h0m4.7 0.3h0m9.5 0.2h0m2.8-0.5h0m1.9 0.5h0m5.3 0.1h0m12.3-0.1h0m0.6-0.1h0m3.6 0.2h0m0.2-0.6h0m8.7 0.6h0m0.3-0.7h0m2.9 0.4h0m0.5-0.4h0m-195.1 1.4h0m3.3-0.4h0m2.3 0.5h0m0.2 0h0m0 0.1h0m0.3-0.5h0m3 0.5h0m2.5 0.2h0m5.6-0.5h0m0.3-0.3h0m3.1 0h0m3.9 0.2h0m5.1-0.1h0m2.3 0.3h0m19-0.5h0m12.5 0.8h0m3.7-0.6h0m0.4 0.3h0m0.2 0h0m3.3 0.3h0m8.2-0.8h0m3 0.8h0m8.3-0.8h0m2.7 0.4h0m4.3 0.2h0m16.6-0.2h0m21.2 0.6h0m10.2-1h0m4.6 0.8h0m3.4 0h0m1.9-0.7h0m10.5 0.7h0m1.5-0.5h0m1.2-0.3h0m7.2 0.9h0m7.6-0.6h0m6 0.1h0m4.6-0.1h0m-192.8 0.9h0m0.6 0h0m2.8 0.5h0m0.8-0.6h0m2.5 0.6h0m1.4-0.1h0m1.6 0.1h0m2-0.2h0m0.4 0.2h0m1.7-0.7h0m1.4 0.1h0m2.5 0.5h0m3.2-0.4h0m0.3 0h0m1 0.1h0m5.2 0.4h0m2.9 0.1h0m1.5 0.1h0m0.5-0.7h0m1.3 0.8h0m1.6-0.7h0m9.6 0h0m5.7 0.7h0m2.5-0.8h0m18.2 0.6h0m6.8-0.4h0m32.9 0.3h0m0.6-0.3h0m1.2 0.3h0m0.5 0.3h0m2.7-0.1h0m4-0.7h0m4.8 0.1h0m3.2-0.1h0m6.8 0.3h0m0.2 0.5h0m0-0.7h0m0-0.2h0m11 0.5h0m0.5 0.3h0m3-0.9h0m0.9 0.7h0m4 0h0m6.7-0.6h0m1.8 0.2h0m2.2-0.1h0m7.9 0.1h0m4.6 0.2h0m12.4 0.2h0m-187.7 0.8h0m3.8 0.2h0m0.2-0.4h0m3.8 0.6h0m1.3-0.4h0m4.8 0.4h0m0.3-0.5h0m0.5 0.3h0m1.4-0.6h0m3 0.7h0m8.2-0.3h0m1.9-0.3h0m2.1-0.1h0m9 0.7h0m1.9-0.3h0m4.9-0.5h0m8.7 0.7h0m0.1-0.4h0m8.5 0.4h0m8.3-0.5h0m6.7 0h0m2.1-0.1h0m31.2-0.1h0m3.3 1h0m1.6-0.3h0m3.1-0.1h0m2.2-0.1h0m6.6 0h0m6.9-0.3h0m1.2 0.7h0m3.9 0h0m3.3 0h0m4.6-0.4h0m6.7 0.2h0m6.8-0.2h0m1.5 0.5h0m1.3-0.3h0m2.4-0.3h0m2.5-0.2h0m1.9 0.3h0m5.9-0.5h0m0.6 0.5h0m0.2-0.4h0m1.7 0.5h0m1.5-0.2h0m3.6-0.4h0m0.1 0.3h0m-185.3 1.4h0m5.8 0h0m1.4-0.2h0m2.5-0.3h0m3.2 0.2h0m4.1-0.1h0m3.8-0.2h0m1.6 0h0m7.6 0.3h0m4-0.1h0m2-0.2h0m11.5 0.2h0m1.1-0.2h0m1.1 0h0m2.2 0.1h0m7.3 0.2h0m12.7 0.1h0m7.3 0h0m10.1 0.2h0m20.5-0.4h0m3.4-0.2h0m17.6 0.2h0m1.2 0.5h0m8.1-0.2h0m3.1-0.6h0m0.4 0.9h0m5-0.8h0m4.1 0.2h0m13.2 0.6h0m2.6-0.7h0m6.5 0.5h0m8.1-0.3h0m-188.2 1.4h0m0.5-0.6h0m1.9 0.7h0m2.2 0h0m1.3-0.9h0m2.7 0.7h0m1.4 0.3h0m3.4-0.8h0m3.6 0.2h0m0.2 0h0m4.2-0.2h0m0.2 0.8h0m0.1-0.3h0m3.4-0.2h0m0.8 0.4h0m0.8-0.2h0m1.6-0.1h0m1.4-0.6h0m0.1 0.9h0m1.3-0.1h0m1.3 0h0m3.2-0.7h0m4.8 0.2h0m0.6 0.3h0m0.9 0.2h0m6.1 0.2h0m3.3-0.9h0m1.1 0.7h0m3.6-0.3h0m5.3 0.5h0m3.2-0.2h0m2.9-0.3h0m0.3-0.5h0m6.3 0.9h0m0.9-0.1h0m3.6-0.2h0m8.4 0.4h0m8.5-0.1h0m2.3-0.2h0m8.5 0.3h0m5-0.1h0m2.7-0.7h0m6.6 0.3h0m1.2 0.5h0m1.8-0.5h0m1.7-0.2h0m5.9 0.6h0m4.1-0.2h0m1.2 0h0m12.8-0.6h0m8.4 0.8h0m1.5-0.3h0m1.7-0.1h0m5.3 0.5h0m4.4-0.3h0m7.5-0.1h0m0.1 0.2h0m3.6-0.6h0m5.6 0.1h0m-188.3 1h0m0.8 0.4h0m0 0h0m0.1 0.2h0m0.6-0.7h0m6 0.5h0m3.9-0.7h0m1.4 0.7h0m2.1-0.5h0m2.2 0.3h0m2.9 0.3h0m2.9-0.1h0m2.6-0.4h0m6.8-0.1h0m0.6 0.2h0m1.3 0.5h0m3.2 0h0m6.1-0.7h0m5.5 0h0m7.4 0.5h0m4.8 0.2h0m8.1-0.4h0m1.3 0.4h0m1.5-0.6h0m0 0.1h0m5 0.1h0m3.3-0.1h0m2.9 0.2h0m14.4-0.5h0m4.8 0.3h0m0.4 0.2h0m9.7-0.6h0m1.9 0h0m2.5 1h0m6.2-0.7h0m11.1 0h0m3.1 0.2h0m1.3 0.4h0m0.3 0.1h0m0.4-0.9h0m14.8 0.7h0m1.7 0.1h0m10.3-0.1h0m1.3-0.3h0m0-0.2h0m5-0.1h0m6.7 0h0m2.4 0.2h0m3.9 0.3h0m3.3-0.2h0m-185.3 0.6h0m2.3 0.4h0m3.5 0.1h0m3.6-0.6h0m0.6 0.2h0m1.2 0.6h0m1.6-0.7h0m2.5 0.5h0m1.4-0.2h0m0-0.4h0m0.1 0h0m0.3 0.7h0m3.3-0.6h0m3.1 0.4h0m1.9 0.2h0m1.5 0.1h0m10.5-0.3h0m3.9 0.4h0m5.4-0.2h0m12.7 0.1h0m5.2-0.3h0m5.5 0.4h0m1-0.1h0m5.6-0.2h0m2.8-0.5h0m0.1 0h0m2.2 0.7h0m0.9-0.6h0m4.8 0.3h0m28.2 0.3h0m13-0.6h0m21.3 0h0m0.2 0.7h0m5.3-0.4h0m1.3-0.5h0m0.2 1h0m3.1-0.5h0m0.8 0.3h0m0.1-0.4h0m3.4-0.1h0m0-0.1h0m3.9 0.3h0m0.8 0.5h0m1.8-0.5h0m2.2-0.1h0m1.9 0h0m2.9-0.3h0m-181.8 1.1h0m1.7 0.7h0m3.1-0.6h0m7 0.2h0m4.1-0.1h0m5 0h0m0.3 0.2h0m3.8 0.1h0m6.5-0.5h0m2-0.1h0m4.5 0.1h0m7.2 0.6h0m11.7 0.1h0m4.3-0.6h0m1.2 0.6h0m10.1-0.1h0m2.6 0.1h0m2.6 0h0m4.1-0.8h0m11.7 0.1h0m8 0.1h0m15.4 0.1h0m2.1 0.6h0m0.9-0.3h0m4.6-0.2h0m6.7 0h0m1.3 0.1h0m1.5 0h0m2.3-0.6h0m5.8 0.3h0m0.3 0.6h0m7.8 0h0m3.1-0.6h0m9 0.4h0m12.1 0h0m10.5-0.4h0m1.6-0.1h0m-186.7 1.6h0m2.3-0.4h0m0.5 0.2h0m2.5 0h0m5.9-0.4h0m3.7 0.3h0m3-0.3h0m0.3 0.7h0m6.3-0.7h0m0.6 0.1h0m0.7 0.3h0m0.4-0.2h0m1.3 0h0m1 0.1h0m1.4-0.3h0m1.9 0h0m1.9 0h0m1.8 0h0m1.1-0.1h0m5.7 0.4h0m0.3-0.4h0m2.8 0.1h0m0.1 0.4h0m0.4-0.1h0m2 0.3h0m2.8-0.8h0m0.2 0.5h0m6 0.5h0m3.5-0.9h0m2.9 0.1h0m20.5 0.8h0m1.5-0.1h0m2.8-0.8h0m14.8 0.5h0m9.7 0h0m2.7-0.2h0m0.7 0.4h0m8.6-0.5h0m1.2 0.5h0m3 0.1h0m5-0.7h0m6.6 0.2h0m0.8 0.5h0m0.6-0.1h0m0.1 0.1h0m1.5-0.7h0m2 0.3h0m3.4-0.3h0m1.9-0.2h0m8.6 0.1h0m2.6 0.2h0m0.6 0.3h0m0.5 0.1h0m0.5-0.5h0m2.3 0.5h0m2.2-0.3h0m5.7 0.2h0m2.8-0.2h0m6.7 0h0m0.7 0.2h0m-182.3 0.7h0m3.4 0.2h0m0.9-0.3h0m0.6 0.3h0m1-0.4h0m0.5 0.8h0m3.5-0.2h0m4.3 0h0m4.4 0.2h0m3.7-0.7h0m8.7 0.2h0m5.1 0.3h0m1.1-0.1h0m2.7 0.4h0m0.7-0.3h0m2.5 0h0m6.3-0.3h0m4.1 0.5h0m6.4-0.3h0m0.8 0h0m0.1-0.6h0m3.6 0.3h0m10.9-0.1h0m9.4 0.2h0m1.2 0.5h0m7.5 0h0m0-0.4h0m2-0.1h0m2.7-0.1h0m9.8 0.2h0m9.2-0.1h0m8.3 0.2h0m1.2 0h0m4.4 0.3h0m1.2-0.4h0m2.1 0.4h0m0.3-0.2h0m0.9 0h0m3.6 0.1h0m6.2-0.5h0m0.9-0.1h0m8.9-0.1h0m0.7 0.4h0m4.2 0.2h0m0.1-0.3h0m3.4-0.2h0m3.9 0.5h0m1.4-0.4h0m6.2 0.3h0m0.7-0.6h0m5.8 0.2h0m-176.3 1h0m1.4 0.7h0m0.9-0.4h0m1.5-0.3h0m6.6 0.6h0m1 0.1h0m0.1-0.7h0m3 0.5h0m4.2-0.4h0m1.3 0.6h0m1.4-0.2h0m3.3-0.4h0m1-0.2h0m0.4 0.5h0m0.8-0.2h0m0.7-0.4h0m1.4 0.7h0m2.1 0h0m2.5-0.6h0m0.4 0.5h0m0.9-0.3h0m1.6 0.5h0m1.2 0.2h0m9.8-0.9h0m2.6 0.1h0m3.6 0.6h0m6.2 0h0m4.6-0.2h0m0.1 0.1h0m5.3-0.3h0m4.2 0.1h0m3.1-0.2h0m1.6 0.4h0m0.7-0.3h0m1.8 0.6h0m2.2-0.9h0m0.1 0.5h0m0.5 0.1h0m3.5 0.2h0m1.1-0.7h0m9 0.2h0m0.7 0.6h0m0.1-0.5h0m6.3 0h0m0.2 0.4h0m9.6-0.9h0m4.8 0.1h0m8.1 0.1h0m5.5-0.2h0m0.2 0.9h0m0.9-0.9h0m3.3 0.9h0m0.6 0.1h0m1.5-0.1h0m6.2-0.8h0m6.5-0.1h0m2.3 0.8h0m2-0.1h0m3.6-0.6h0m1.7 0.8h0m3.2 0h0m-172.5 0.4h0m0.2-0.1h0m0.6 0.4h0m2.9-0.3h0m0.5 0h0m0.8 0.2h0m1.7 0.2h0m1.1 0.3h0m5.9-0.5h0m3.6 0.2h0m7.1 0.2h0m0.8-0.1h0m8.6-0.2h0m2.2-0.5h0m0.5 0.4h0m1-0.4h0m0.5 0.1h0m1.7 0.3h0m0.7-0.1h0m0.4 0.4h0m2.8 0.1h0m2.5-0.4h0m1 0.2h0m3.6-0.5h0m2.4 0.7h0m0.3-0.4h0m4.3-0.3h0m4 0.7h0m0.6 0h0m0.5 0.1h0m0.4-0.5h0m2.4 0.3h0m2.9-0.4h0m6.5 0h0m20.5-0.1h0m8.4 0.1h0m14 0.2h0m7.5-0.4h0m4 0.1h0m2.2 0.1h0m3.6-0.1h0m1.5 0.6h0m10.7-0.3h0m12.4-0.2h0m11.9 0.5h0m5 0.1h0m-166.5 0.7h0m3.7-0.1h0m4.7-0.2h0m0.3-0.4h0m2.6 0.3h0m2.2 0.6h0m1.9-0.3h0m1 0.4h0m1-0.9h0m0.6 0.7h0m1.5-0.4h0m0 0.4h0m0.5 0.2h0m0.8-0.8h0m3.5 0.6h0m3.3 0.1h0m3.4 0.1h0m2.7-0.3h0m2.2 0.1h0m10-0.2h0m8.5-0.4h0m0.9 0h0m0.1 0.7h0m4.4-0.6h0m1.3 0.4h0m12.2-0.6h0m2.5 0.1h0m0 0.3h0m7.4-0.4h0m2.1 0.5h0m7-0.5h0m5.1 0.7h0m2.1-0.3h0m5.7 0h0m12.3-0.2h0m1-0.1h0m0.1-0.1h0m1.7 0.3h0m1.4-0.3h0m2.7 0.2h0m1.9 0.7h0m2.8-0.4h0m6.1 0h0m3.2-0.2h0m1.9-0.1h0m0.4 0.3h0m4.9 0h0m2.2-0.1h0m16-0.4h0m-170 1.3h0m4.1 0h0m0.1 0.1h0m0.3-0.3h0m1 0.8h0m2.1-0.4h0m2-0.3h0m2.4 0.6h0m6.3-0.4h0m0.5 0.1h0m0.1-0.4h0m5.8 0.8h0m4.4-0.7h0m3-0.1h0m0.1 0.5h0m2.9 0.2h0m0.8-0.4h0m5.3 0.1h0m0.2 0.3h0m0.6-0.2h0m0.5-0.4h0m2.9 0.6h0m3.5-0.2h0m4.7-0.3h0m1.9 0.4h0m1.7 0h0m0.9-0.5h0m0.2-0.2h0m2.3 0.3h0m4.1-0.2h0m1.6 0.3h0m0.6-0.1h0m0.3-0.1h0m1.2 0h0m7.3 0.7h0m7.1 0h0m0.2-0.7h0m11.1-0.2h0m5.6 0.4h0m23.4-0.2h0m1.1 0.4h0m16.6-0.1h0m1.9-0.1h0m5.6 0.1h0m1.5 0.1h0m2.7 0h0m13-0.4h0m1.6-0.1h0m0.3 0.3h0m-167.9 0.9h0m1 0h0m2.8 0.1h0m6.4-0.4h0m8 0.8h0m4.4 0h0m3-0.4h0m1.4 0.3h0m4.9 0.1h0m0.5-0.9h0m1.6 0.2h0m1.7 0.6h0m1.2-0.6h0m5.5 0.3h0m3 0.1h0m3-0.5h0m6.1 0.5h0m2 0.1h0m5.5 0.2h0m0.1-0.2h0m4-0.5h0m0.6 0.3h0m1.8-0.1h0m4.9 0.2h0m14.2-0.1h0m1.9 0.2h0m10.6-0.1h0m4.8 0.1h0m10.1 0h0m1.1 0h0m0.8 0h0m2.9-0.5h0m4.4 0.5h0m14.1-0.5h0m4 0.3h0m3.6 0h0m3.6 0.3h0m14.7-0.2h0m1-0.2h0m-165.3 0.7h0m4.9 0.7h0m0.1 0h0m0.4-0.6h0m7.3 0.3h0m3.4 0.5h0m2.5-1h0m0 0.8h0m4.8-0.5h0m2.5 0.4h0m2.3-0.2h0m0.8 0.4h0m0.5-0.7h0m1.1-0.2h0m5.9 0.1h0m0 0.6h0m3.6 0.2h0m7-0.2h0m0.6-0.6h0m2.6 0.7h0m1.2 0h0m0.1-0.6h0m7-0.2h0m2.4 0.6h0m1.4-0.1h0m9.5 0.4h0m0.9-0.8h0m4.2 0.8h0m9.8-0.3h0m0.3-0.1h0m6.1-0.2h0m5.3 0.1h0m11.5-0.2h0m34.7 0.8h0m2.4-0.5h0m0.4 0.3h0m5.7-0.8h0m11.1 0.2h0m2.7 0.7h0m2.3-0.7h0m-172.6 1.5h0m1.6 0.3h0m0.2-1h0m2.1 0.3h0m2.5 0.1h0m3.1 0.3h0m1.2-0.4h0m0.6 0.3h0m0.1 0h0m1.5 0h0m3.1-0.2h0m1.9-0.2h0m4.6 0.3h0m1.9-0.1h0m0.3 0h0m4.1-0.4h0m7.2 0.1h0m0.5 0h0m0.2-0.1h0m1.2 0.2h0m3.3 0.2h0m4-0.1h0m0.9 0.3h0m1.2-0.3h0m5.9-0.1h0m2.1 0.7h0m9.5-0.7h0m2.6 0h0m6-0.1h0m2.5 0h0m1.1 0h0m4.1 0.6h0m0.2-0.4h0m3.2 0h0m1.5 0.5h0m2.2-0.5h0m1.1-0.1h0m2.3 0.1h0m7.4 0.4h0m12 0.3h0m1-0.3h0m3.2-0.2h0m0.9-0.2h0m2.2 0.2h0m0.4 0.4h0m3-0.7h0m5.4 0h0m2.3 0.7h0m5.6-0.4h0m2.1 0.5h0m13.5-0.2h0m0.6-0.5h0m5.7 0.5h0m2.9-0.7h0m5 0.5h0m1.2-0.3h0m0.4 0.4h0m1.4 0.3h0m-168.1 1h0m2.3-0.1h0m0.8-0.9h0m3.1 0.3h0m0.4-0.1h0m4.4 0.3h0m4.1-0.1h0m0.9-0.2h0m0.1 0.7h0m2.3-0.7h0m1.4 0.3h0m1.5 0.3h0m3.5-0.6h0m9.7 0.3h0m0.7 0.3h0m0.6 0.1h0m7.5-0.9h0m1.3 0.2h0m20.7 0.3h0m2.7-0.2h0m6.1-0.2h0m0.7 0h0m4.6 0.2h0m3 0.5h0m0.3 0h0m0.4-0.4h0m8.4 0.3h0m1.5 0h0m9.5 0.1h0m0.3-0.6h0m1.4 0.6h0m1.5-0.2h0m6.3-0.2h0m10.4-0.2h0m10.5-0.1h0m1.8 0.2h0m2.2 0.1h0m3.8-0.3h0m0.6 0.7h0m3.3-0.5h0m1.3 0.6h0m5-0.7h0m1.5 0.2h0m-148.7 1.1h0m1.1-0.5h0m3.1 0.8h0m1.1-0.4h0m0.6 0.3h0m0.4 0.1h0m0.5-0.4h0m0.6-0.1h0m0.8 0.6h0m0.2-0.2h0m3 0.2h0m5.2-0.7h0m1.6 0.2h0m0.5 0.2h0m2.4-0.1h0m1.6-0.4h0m4 0.5h0m8.3 0h0m6.2 0.1h0m3-0.4h0m1.5 0h0m2.2 0.3h0m4.4-0.2h0m1.1 0h0m0.9-0.1h0m2.1 0.7h0m4.8-0.9h0m2.5 0.8h0m5.2 0h0m1-0.7h0m0.1 0.3h0m2.8 0.4h0m3.3 0h0m3.8-0.7h0m2.4-0.1h0m1.8 0.5h0m2.1-0.4h0m1.1 0.2h0m0.4 0.3h0m3.5-0.4h0m3.4 0.5h0m21.3-0.7h0m4.8 0.6h0m3.9-0.3h0m2 0.3h0m5.9-0.4h0m5.2 0.2h0m1.1-0.1h0m0.5 0.3h0m1.3-0.4h0m8.7-0.2h0m1.7 0.4h0m0 0.3h0m7.2-0.3h0m4.7 0.5h0m-166.3 0.6h0m8.2-0.2h0m0 0.3h0m1.5-0.1h0m2.2 0h0m1-0.3h0m2 0.7h0m1.4-0.3h0m0.8-0.5h0m0 0.4h0m2.5-0.5h0m0.8 0.7h0m1.4-0.1h0m0.5-0.3h0m0.3 0.1h0m2.4 0.1h0m1.4-0.2h0m0.1 0.3h0m1.2-0.5h0m3.6 0.7h0m8.4-0.4h0m1.1 0.1h0m3.1-0.4h0m1.6-0.1h0m4.8 0.3h0m0.6-0.2h0m5.9 0.3h0m1-0.2h0m0.4 0.2h0m3-0.2h0m0.6-0.1h0m1.8 0.1h0m1.8 0h0m17.7 0.6h0m3.8-0.3h0m0-0.3h0m0.4 0.5h0m1-0.2h0m8.5 0h0m1.6 0.1h0m14.2-0.4h0m6.1 0.6h0m7.3-0.6h0m3.9 0.2h0m6.8-0.3h0m0.4 0.3h0m6.9-0.1h0m7.7 0.2h0m4 0.4h0m5.4-0.9h0m1.1 0.4h0m4-0.2h0m-165.2 1.1h0m1.5 0.3h0m1.3-0.1h0m0.3-0.2h0m1.4 0.5h0m0.2-0.7h0m4.2 0.1h0m2.1 0.4h0m2.8-0.2h0m1.3 0.2h0m0.5 0h0m4.5 0h0m4-0.6h0m9.6 0.1h0m0.7 0.2h0m4.1-0.1h0m1.5 0.2h0m0.2 0h0m3.5-0.2h0m2.9 0.2h0m5.6 0.4h0m2.9-0.7h0m5.3 0.3h0m10.2-0.1h0m0.8-0.1h0m0.9 0.2h0m1.1 0.1h0m0.8 0.3h0m4.9-0.8h0m1.4 0.5h0m3-0.4h0m2 0.1h0m1-0.2h0m5-0.1h0m4.2 0.9h0m3.8-0.1h0m2.3-0.3h0m4 0h0m1.3-0.2h0m1.5 0.4h0m1-0.6h0m4 0.1h0m0.3-0.1h0m6 0.6h0m5.4-0.1h0m1.7-0.1h0m2.7 0.3h0m3.8-0.5h0m1.4 0.5h0m9.2-0.1h0m1.4-0.6h0m5 0h0m2.3 0.7h0m0.8-0.3h0m2.5-0.1h0m6 0.3h0m0.3-0.6h0m-156.6 1.8h0m2-0.5h0m8-0.1h0m0.2-0.1h0m0.8 0.1h0m0.1-0.1h0m0.5 0.1h0m3.1 0.4h0m0.7-0.4h0m3.5 0h0m15 0.1h0m1.2 0.4h0m0.3-0.3h0m0.1 0.2h0m2.1-0.2h0m3.3 0.4h0m2.5-0.6h0m7.6 0.7h0m1.1-0.3h0m0.1 0.2h0m0.7-0.3h0m0.2-0.6h0m0.4 0.5h0m4.9-0.4h0m1.9 0.7h0m5.2-0.5h0m1.3-0.3h0m2 0h0m0.3 0.2h0m1.2-0.1h0m7.3 0.2h0m2.3-0.2h0m0.4 0.3h0m2.5 0.1h0m1-0.4h0m1.1 0.3h0m4.3-0.3h0m0 0.5h0m1.6 0h0m1.4-0.1h0m0.5-0.5h0m10.5 0.7h0m0.1-0.7h0m7 0.8h0m0.2 0h0m0.2 0.1h0m24.7 0h0m0.6-0.4h0m8.7-0.2h0m3.6 0.2h0m-150.5 1h0m1 0.3h0m2.4-0.6h0m1.4 0.1h0m0 0.5h0m0.8-0.6h0m1.3 0.3h0m0-0.4h0m5.2 0.3h0m0.2-0.2h0m2.4 0.2h0m0.4 0.3h0m4.2-0.2h0m0.7-0.3h0m8.1 0.5h0m1.7-0.1h0m1.6 0.2h0m4.8-0.1h0m1.5-0.1h0m1.5 0.2h0m2.4-0.4h0m2.6 0.3h0m4-0.4h0m4.7 0h0m0.6 0h0m4.7 0.4h0m1.7 0h0m0.1 0.2h0m2-0.4h0m1.5 0.1h0m0.7-0.2h0m8-0.2h0m0.6 0.3h0m0.3-0.3h0m0.6 0.1h0m1.7 0h0m3.8 0.6h0m1.5-0.2h0m10.1-0.4h0m3.5 0.4h0m3.4-0.5h0m5.6 0.8h0m0.5-0.8h0m1 0.4h0m2.2 0.1h0m0.7 0.2h0m0.3 0.1h0m2.4 0h0m0.5-0.9h0m1.4 0.4h0m2.6-0.2h0m4.5 0.6h0m8.3-0.5h0m0.1 0.4h0m4.6-0.4h0m2.6-0.3h0m4.3 0.1h0m7.2 0.6h0m0 0h0m-148 0.5h0m7.3 0.3h0m7.4-0.5h0m5.4 0.6h0m1.3-0.4h0m0 0.3h0m0.2-0.2h0m1.5 0.5h0m7-0.5h0m2.2-0.1h0m2.6 0.2h0m3.3 0.3h0m5.3-0.1h0m2.7 0h0m4.7-0.3h0m0.6 0.4h0m2.3-0.5h0m4.6 0h0m0.7 0.1h0m6-0.4h0m2.7 0.4h0m5.8 0.4h0m2.7-0.1h0m0.2 0.3h0m25.3-0.3h0m9.3-0.5h0m6.9 0.7h0m7.3-0.1h0m1.9-0.7h0m15.8 0.5h0m7.4 0h0m1.2 0.4h0m4.9-0.9h0m-157.8 1.1h0m1.7-0.1h0m9.5 0.9h0m1.2-0.4h0m3.9 0.2h0m0.9 0h0m4.4-0.1h0m3.8-0.2h0m4 0.1h0m3.2 0.1h0m2.8-0.5h0m1.3 0.1h0m4.1 0.1h0m3.4 0.5h0m1.3-0.2h0m2.6 0.1h0m10.5-0.3h0m3.7-0.2h0m2 0.6h0m1.2-0.3h0m2.4 0.1h0m2.6-0.1h0m1.4 0.1h0m0.6-0.3h0m1.3-0.3h0m0.8 0.1h0m5.2 0h0m1.8 0.6h0m1.9 0.1h0m1.6 0.1h0m0.8-0.4h0m0.5 0h0m2.1-0.2h0m4-0.3h0m2.4 0.6h0m3.4 0.2h0m0.3-0.1h0m1.6-0.4h0m6.4 0.2h0m2.7 0.3h0m10.7-0.8h0m0.9 0.8h0m0.1-0.2h0m2.8-0.2h0m1.6 0.4h0m4.8-0.7h0m2.2 0.2h0m0.2-0.2h0m0.1 0.1h0m1.4 0.3h0m2.4-0.3h0m4.7 0.1h0m0.4-0.4h0m7 0.8h0m4.1-0.6h0m1.5 0.4h0m-153.2 0.8h0m8.9 0.2h0m4.9 0.3h0m0-0.1h0m3-0.8h0m7.2 0.1h0m5.7 0.3h0m1.6 0.4h0m5-0.6h0m5.5-0.1h0m1.4 0.3h0m0.8-0.3h0m0.1-0.1h0m0.4 0.9h0m2.1-0.8h0m3.5 0.2h0m1.3-0.2h0m0.4 0.3h0m0.4 0.4h0m0.6 0h0m6-0.6h0m4 0.7h0m1.6-0.2h0m1.7 0.1h0m0.4-0.3h0m3.7-0.1h0m2.9-0.3h0m0.8 0.7h0m0.7-0.6h0m0.6 0h0m3.8-0.1h0m0.7 0.1h0m0.5 0.5h0m1.2-0.3h0m1.1 0.2h0m1.2-0.6h0m5.9 0.1h0m14.4 0.3h0m4.1 0.3h0m13.9-0.5h0m1.5 0h0m1.5 0.2h0m0.1 0.3h0m12.6-0.2h0m5.2 0h0m0.1 0.2h0m-141.6 1.1h0m0.5 0h0m2.7-0.2h0m5 0.3h0m4.6-0.6h0m0.8 0.6h0m8.5-0.9h0m1.6 0.3h0m0.4 0.6h0m2.7-0.8h0m0.5 0.7h0m0.7-0.8h0m1.4 0.8h0m1.4-0.3h0m0.3 0.1h0m6.6 0.2h0m3.2-0.5h0m9 0.7h0m10.7-0.8h0m8.7 0.6h0m6.3 0.2h0m0.3-0.8h0m2.5 0.5h0m1.1 0.1h0m1.5-0.7h0m0 0.6h0m5.7-0.4h0m8.1 0.1h0m1.3-0.2h0m2.4 0.5h0m2.2 0h0m0.6 0.2h0m2.3-0.2h0m3.6-0.4h0m5.1-0.2h0m0.4 0h0m1 0.4h0m0.8-0.2h0m1.1-0.2h0m2.7-0.1h0m0.2 0.4h0m0.5 0.3h0m0.5-0.6h0m9.2 0.5h0m16.8 0.2h0m-145.9 1h0m3-0.7h0m4.4 0.2h0m2.1-0.1h0m3.9 0.1h0m2.4 0h0m0.3 0.1h0m0.1-0.1h0m1.6-0.1h0m0.1 0.2h0m7.3 0.2h0m6.6-0.3h0m4.5-0.2h0m0.1 0.6h0m0.7-0.3h0m3.1-0.1h0m4 0.1h0m0.7 0.4h0m2.5-0.6h0m1.3 0.6h0m2.1-0.7h0m0.3 0.4h0m8.5-0.3h0m1.3-0.1h0m3.8 0.3h0m3.4 0.2h0m4.7 0.3h0m7.2-0.3h0m2.9-0.1h0m1.3-0.3h0m0.3 0.4h0m1.5 0.2h0m3.8-0.6h0m2.3 0.7h0m3.6-0.6h0m0.3 0.4h0m5.1-0.6h0m5.8 0.2h0m8 0h0m14.1 0.1h0m3.6 0.5h0m2.4 0h0m1.9-0.5h0m6.9-0.3h0m-143.5 1.8h0m3.8-0.5h0m2.2 0.1h0m0.4 0.2h0m0.5-0.1h0m6.7-0.4h0m8.3 0.4h0m1.6 0h0m4-0.1h0m0.8 0h0m2.4-0.1h0m4.2 0.2h0m0.3-0.1h0m7.5 0.3h0m0.1 0.1h0m0.1-0.6h0m1.5 0.2h0m2.7-0.3h0m2.4 0.7h0m12.1-0.6h0m1.6 0.5h0m2-0.2h0m0.6-0.2h0m7.9 0.4h0m0.8-0.5h0m5.8 0.1h0m3 0.5h0m1.4 0.1h0m0.9-0.5h0m2.1 0.3h0m0.6-0.8h0m1 0h0m1.5 0.4h0m2.9 0.1h0m6.2-0.3h0m0.1 0.3h0m2.6-0.4h0m4.6 0.8h0m2-0.7h0m0.3 0.4h0m7.7 0.3h0m4.8-0.7h0m5.8 0.2h0m0.3 0.3h0m5-0.5h0m0-0.2h0m0.9 0.7h0m0 0.2h0m-131.7 0.5h0m7.5 0.1h0m0-0.3h0m5.7 0.3h0m4.5 0.1h0m1 0.2h0m0.1 0.1h0m4.6-0.8h0m7.5 0.1h0m0.2 0.6h0m5.9-0.7h0m1.6 0.8h0m5.1 0.1h0m0.3-0.8h0m0.2 0.1h0m1.8 0.5h0m0.1-0.8h0m0.9 0.8h0m4.2-0.6h0m1.4 0h0m6.1 0.1h0m0.2-0.2h0m5.1 0h0m0.6 0.1h0m0.5 0.3h0m1.5 0.4h0m5-0.8h0m0.5 0.8h0m4.8-0.4h0m2 0h0m1.9-0.3h0m2.3 0.3h0m2.6 0h0m2.7-0.1h0m0.5 0.5h0m4.7-0.1h0m14.2 0.1h0m10.9-0.1h0m5.2-0.6h0m2.5-0.2h0m9.2 0.3h0m10.7 0.4h0m-140.7 0.4h0m1.6 0.4h0m2.1 0.4h0m0.3-0.7h0m2.4 0.1h0m1.3 0.3h0m2.9 0.1h0m2.5-0.1h0m2.2 0.3h0m0.8 0.1h0m2.2-0.4h0m0.8-0.4h0m2 0.4h0m0.4 0.4h0m2.5-0.7h0m0.2 0h0m4 0h0m0.1-0.2h0m7.3 0.1h0m1.3 0.7h0m1.4 0h0m5.7-0.2h0m0.3 0.1h0m6.2-0.4h0m2.4 0.1h0m2.8-0.4h0m1.9 0.2h0m10.9-0.1h0m10.5 0.4h0m0.7 0.3h0m11.8-0.5h0m0 0.4h0m5.9-0.5h0m1.2 0.2h0m0.6-0.1h0m6.8 0.2h0m0.4-0.4h0m3.4 0.2h0m0 0.4h0m3.9 0.2h0m-117.6 0.2h0m0.7 0h0m1.4 0.7h0m1.5-0.9h0m1.8 0.6h0m6.8-0.5h0m2.7 0.3h0m0.3-0.4h0m15 0.5h0m0.5 0.1h0m0.1-0.4h0m2.8 0h0m2.2 0.5h0m6-0.5h0m0.8-0.1h0m1 0.8h0m5.2-0.5h0m0.1 0.3h0m3.4-0.5h0m3.1 0.4h0m0.9-0.5h0m0 0.5h0m1.5 0.1h0m0.3-0.6h0m8.6 0.7h0m5 0.1h0m7.4-0.6h0m4.1 0.7h0m0.9-0.6h0m5 0.5h0m2-0.5h0m3.7 0.4h0m0.9-0.8h0m0.2 0.5h0m0.9 0.2h0m1.1-0.1h0m6.2-0.5h0m6.2 0.1h0m2.7 0.3h0m5.8-0.4h0m1.3 0.5h0m6.2 0h0m9.3-0.3h0m0-0.2h0m1.3 0.7h0m0.6-0.1h0m2.2-0.2h0m6.8 0.5h0m11.4-0.3h0m-135.5 1.1h0m0.2-0.2h0m0.3 0h0m5.7 0.2h0m3.2-0.2h0m3.1-0.5h0m2.2 0.1h0m7 0.3h0m0.9 0.3h0m0.6-0.4h0m0.2 0.1h0m0.8 0.4h0m1.2-0.7h0m2.6 0h0m1.8 0.7h0m1.7-0.3h0m2.9 0.1h0m0.9-0.6h0m3 0.8h0m3.6-0.7h0m5.4 0.3h0m4.3-0.3h0m4.6 0h0m2.1 0.2h0m0.6 0.1h0m1.3 0.5h0m1-0.4h0m4.3-0.3h0m13 0.2h0m1.2-0.2h0m0.6 0.6h0m0.8-0.7h0m7.2 0h0m1.7 0.7h0m0.2-0.2h0m2.6-0.4h0m1.2 0.2h0m21.3-0.1h0m1.6 0.3h0m16 0.3h0m-153 0.6h0m22.1 0.4h0m8.1-0.3h0m2.9-0.3h0m2.1 0.5h0m6.9-0.9h0m16.4 0h0m8.3 0.1h0m3.5 0.2h0m1.8 0.4h0m5.6-0.1h0m1 0.2h0m0.6-0.1h0m1.6 0.1h0m1.9 0.1h0m1.3-0.7h0m10.3-0.1h0m0.2 0.7h0m1.7-0.5h0m0.8 0.3h0m10.2-0.3h0m1.6-0.1h0m4.4 0.8h0m8.8-0.6h0m2.4-0.1h0m7.6 0.5h0m2.5-0.2h0m10.4 0.4h0m1.8-0.4h0m-138.3 0.4h0m2.8 0.3h0m2.5 0.1h0m1.1-0.2h0m1 0h0m0.2 0.7h0m1.3-0.8h0m0 0.1h0m9.8-0.2h0m3.8 0.5h0m1-0.1h0m7.3 0h0m2.2-0.1h0m1.5 0.5h0m3-0.5h0m8.8 0.1h0m4.7 0.3h0m1.3-0.5h0m1.4 0.6h0m0.9-0.7h0m3.4 0.4h0m1.5-0.4h0m7.1 0.8h0m5.5-0.6h0m30.8 0.1h0m8.7 0.1h0m17.4 0.5h0m20.5-0.8h0m2.1 0.8h0m-160.1 0.5h0m4.7 0.3h0m10.1-0.5h0m1.9 0.1h0m6 0h0m2.8 0.2h0m0.1 0.1h0m3.6-0.2h0m2.4 0.4h0m1.3-0.8h0m0.2 0.8h0m6.9-0.2h0m6.6-0.3h0m0.5-0.3h0m0.3 0.7h0m1.5-0.6h0m1.4 0.3h0m1.8 0.1h0m1.1 0.3h0m2.3-0.7h0m4.2 0.4h0m0.2 0h0m9.9 0.1h0m6.4-0.2h0m5.4 0.3h0m1.2 0.2h0m0.7-0.9h0m3.4 0h0m0.4 0.1h0m3.1 0.4h0m0.2 0.2h0m1 0.2h0m4.3-0.4h0m2-0.4h0m1.4 0.2h0m0.2-0.3h0m1.4 0.1h0m7.4 0.1h0m13.1 0.3h0m16 0.4h0m1.3-0.8h0m1.8 0.4h0m0.6 0.3h0m0.1 0h0m2.7-0.3h0m1.9 0.1h0m8-0.2h0m7.9-0.5h0m-160.3 1.9h0m12.1 0.1h0m9.7-0.2h0m9.3 0h0m0.2-0.2h0m0.1 0.3h0m2-0.8h0m4.2 0.2h0m0.2 0.5h0m1.7-0.2h0m7.6 0.3h0m1.2-0.9h0m1.8 0.3h0m0.7-0.1h0m0.5 0h0m0.6 0.5h0m0.1-0.6h0m1.1 0.1h0m16.7-0.1h0m1.6 0.5h0m0.5 0.4h0m12.7-0.7h0m4.6 0h0m6.4 0h0m0.8 0.4h0m10.5-0.1h0m1.1-0.5h0m15.3 0.4h0m0.3 0.4h0m6.5-0.3h0m32.5-0.2h0m1.8 0.5h0m-160.2 1h0m6.6-0.3h0m13.4 0h0m3.1-0.1h0m0-0.1h0m3.8-0.1h0m5.8 0.4h0m0.4 0.2h0m0-0.6h0m4.4-0.2h0m0.3 0.3h0m1.8 0h0m4.1-0.3h0m16.9 0h0m1.3 0.2h0m3.9 0.6h0m1.1-0.3h0m0.6-0.4h0m4.5 0.4h0m6.7 0.4h0m2.9-0.9h0m2.4 0.3h0m4.7 0.4h0m21.2-0.1h0m0.7-0.5h0m4.8 0.1h0m14.9-0.2h0m1.3 0.7h0m4.2-0.1h0m2.4 0.2h0m6.6-0.8h0m7.6 0.7h0m5.1-0.5h0m-155.9 1h0m18.7 0.1h0m2.6 0.5h0m5.1-0.4h0m1.6 0.1h0m3.3-0.2h0m0.4-0.2h0m1.3 0h0m2.7 0.8h0m4-0.5h0m2.4 0.3h0m2.1-0.1h0m4.6-0.6h0m3.1 0.8h0m4.5-0.3h0m0.4-0.4h0m12.9 0.4h0m2 0.1h0m4.8-0.4h0m20.1 0.4h0m10.2-0.4h0m0.1 0.1h0m1.8-0.3h0m0.2 0.1h0m3 0.3h0m2.1 0.2h0m4.4 0.2h0m1.6 0.1h0m10.3-0.1h0m5.2 0h0m0.3-0.7h0m7.2 0.4h0m-145.3 1.1h0m4.7 0.1h0m1.3 0h0m3.7 0h0m2.4-0.6h0m6.6-0.1h0m1.6 0.5h0m2.9-0.3h0m0.5-0.1h0m12.6 0.6h0m4.3-0.8h0m1.3 0.5h0m8.2-0.3h0m1.3 0.7h0m1.1-0.7h0m1.4-0.2h0m1.1 0h0m7.1 0.8h0m0.1 0.2h0m5-0.5h0m2.1 0.1h0m2-0.1h0m7.1-0.1h0m2.3-0.2h0m1.9 0.2h0m5.5-0.3h0m5.1 0.2h0m6.7 0.3h0m6.6-0.4h0m0.8 0h0m5.2 0.3h0m3.2 0h0m27.8 0.2h0m0.4-0.5h0m8.9 0.7h0m8.8-0.4h0m1.1 0.4h0m0.1-0.3h0m-160.9 0.9h0m0.9 0.3h0m25.7 0.2h0m0.1-0.7h0m0.7-0.2h0m5 0.1h0m0.9 0.5h0m1.9-0.6h0m5.4 0.4h0m3.9 0.1h0m3.5-0.1h0m1.5-0.3h0m0.4-0.2h0m0.6 0.2h0m5.9 0.6h0m0.7-0.3h0m0.3-0.3h0m2.2 0.4h0m7.2 0h0m1.3 0.3h0m1.5-0.1h0m1.5-0.1h0m2.5-0.4h0m3 0.2h0m2.5 0.1h0m0.7 0h0m7.8 0.1h0m0.5-0.3h0m23.3 0.1h0m15.6 0h0m12.4-0.1h0m2.4 0.2h0m5.1-0.2h0m9.8-0.4h0m1.9 0.5h0m2.3 0.1h0m2.2 0.3h0m-156.9 0.8h0m8 0.1h0m2.6-0.2h0m2.3 0.2h0m0.2-0.1h0m0-0.2h0m5.8-0.1h0m1.2-0.2h0m2-0.1h0m2.2 0.2h0m0.9 0h0m7.9 0.4h0m4.1 0.1h0m9.6-0.7h0m1.2 0.2h0m2 0h0m2.9 0.6h0m3.1 0.1h0m0.8-0.5h0m0.2 0.3h0m2.6 0.1h0m0.3-0.5h0m4 0.3h0m0.2-0.2h0m0.1 0.1h0m1.9-0.3h0m1.7 0.4h0m1.7 0.1h0m9-0.6h0m5.1 0.7h0m0.7-0.4h0m0.8 0.3h0m2.8-0.6h0m0.3 0.6h0m1-0.7h0m1.5 0.7h0m1.9 0h0m20.5-0.3h0m5.4 0.3h0m0.8 0.2h0m15.2-0.2h0m3.4 0h0m3.4-0.5h0m0.4 0.1h0m0.4-0.3h0m3.1 0.5h0m0.7-0.1h0m0.2-0.2h0m8-0.2h0m2.7 0.3h0m-154.1 1.4h0m2.4 0h0m1.1-0.6h0m0.6 0.4h0m7.6-0.5h0m0.3 0h0m0.4 0.7h0m0.5-0.5h0m0.3 0.6h0m7.7 0h0m1.2-0.5h0m1.8-0.2h0m4.2 0.2h0m1.1 0h0m0.2 0.2h0m0.3-0.1h0m1.4 0.2h0m4.9-0.1h0m3.2 0.2h0m3.6-0.1h0m6-0.3h0m2.6 0.4h0m2.2-0.2h0m1.4 0.1h0m5.3 0.1h0m0.3-0.5h0m0.3-0.1h0m4-0.1h0m1.2 0.4h0m0.8-0.1h0m5.7 0.2h0m11.2-0.2h0m2.4-0.1h0m1.4 0.4h0m3.3-0.4h0m26.9-0.1h0m1.1 0.3h0m3.9 0h0m5.2 0.3h0m2.5 0.2h0m1.8-0.6h0m6.3 0.3h0m1.3-0.6h0m8.2 0.8h0m4-0.4h0m-154.9 0.6h0m1.7 0.2h0m0.5 0h0m8.3 0h0m3.1 0.4h0m5.4-0.5h0m0.3 0.7h0m11.4 0h0m3-0.4h0m1.8-0.3h0m0.5 0.6h0m5.1-0.3h0m6.1 0h0m4.6-0.3h0m1.5 0.5h0m4.2 0.2h0m4.5-0.4h0m5.6 0.5h0m1.1-0.3h0m0.1-0.1h0m1-0.5h0m11.2 0h0m0.2 0.5h0m0.8-0.2h0m1.2 0.1h0m6.3 0.5h0m5.1-0.7h0m1.7 0.4h0m7.9-0.2h0m0 0h0m0.7-0.1h0m8.2-0.1h0m2.7-0.3h0m28.4 0.5h0m5.9 0.4h0m5.4-0.8h0m-148.9 0.9h0m0.2 0.1h0m9.8 0.3h0m5 0.4h0m4.6-0.2h0m1.8 0.2h0m1.6 0h0m2.6-0.2h0m1.2-0.2h0m2.9-0.4h0m0.2 0.5h0m3-0.2h0m14.6-0.2h0m0.4 0.1h0m1.7 0h0m7.6 0.1h0m2 0.5h0m1.8 0.1h0m0.1-0.1h0m7.6-0.1h0m2 0.2h0m0.3-0.4h0m6.9-0.5h0m0.7 0.7h0m2.5-0.1h0m0.3 0.3h0m0.2-0.4h0m3.1 0.4h0m1.6-0.1h0m1.6-0.6h0m3.9-0.1h0m3.7 0.4h0m12.6-0.2h0m22.1 0.2h0m2.6 0.4h0m5.9-0.7h0m4.2 0.4h0m6.3-0.2h0m0.7 0h0m-139.4 1.1h0m0.3-0.4h0m0.6 0.4h0m0.9 0.2h0m0.1-0.1h0m0.8 0.4h0m3.8-0.7h0m17.3 0.1h0m3.8 0.4h0m1-0.7h0m10.9 0h0m4.1 0.1h0m3.5 0.5h0m10.3-0.5h0m3.3 0.4h0m5.1 0.4h0m6.6-0.1h0m1.1-0.3h0m5-0.1h0m7.3 0.1h0m6.1 0.3h0m1.3-0.7h0m1.1 0.4h0m2.5-0.1h0m6.1-0.4h0m27.5-0.1h0m1.6 0.5h0m1.7 0.3h0m1.7-0.6h0m0.9 0.8h0m0.3-0.1h0m-137.6 0.3h0m5.3 0.1h0m1.1 0h0m6 0.3h0m3.4-0.4h0m0.7 0.7h0m1.9-0.9h0m4.1 0.8h0m1 0h0m2.2-0.7h0m0.9 0.5h0m1-0.6h0m7.3 0.6h0m4.8-0.3h0m0.5 0.7h0m5.8-0.1h0m1.7-0.4h0m0.3 0h0m1 0.2h0m1-0.6h0m0.8 0.4h0m1.8 0h0m2.7-0.2h0m5.1 0.1h0m7 0.3h0m11.4 0.1h0m3.5-0.1h0m4.9-0.4h0m1.6 0h0m9.2 0.6h0m7-0.4h0m8.3-0.2h0m5.2 0.4h0m14.2-0.1h0m-141 1.4h0m0.6-0.1h0m0.2-0.2h0m5.5-0.5h0m6.8 0.7h0m2.6-0.8h0m0.7 0.6h0m18.7-0.5h0m0.1 0.2h0m2.3-0.2h0m5.4 0.4h0m3.1-0.1h0m1.7 0h0m5-0.1h0m0.9 0.1h0m7 0.1h0m1.9 0.4h0m6.3-0.6h0m3.6 0.2h0m0.4-0.2h0m8.7-0.3h0m7.4 0.6h0m0.7-0.5h0m0.7 0.6h0m3.5-0.6h0m4.2 0.8h0m13.1-0.9h0m14.2 0.3h0m9.8 0.2h0m0.5 0.2h0m4.2-0.5h0m-138.9 1.4h0m1.5 0h0m1.6-0.2h0m2.8 0.4h0m0.2-0.5h0m2.9 0.2h0m4.1-0.5h0m2.7 0.5h0m2.3 0.3h0m7.1-0.1h0m0.1-0.5h0m3 0.1h0m0.2 0.5h0m0.4-0.2h0m8.3-0.5h0m0.5 0.2h0m2 0.5h0m0.2-0.5h0m2.9-0.1h0m7.5 0.7h0m6.1-0.2h0m9.3 0.1h0m2.4-0.5h0m14.8 0.3h0m2.1 0.2h0m1.1-0.3h0m14.1-0.1h0m13.4-0.1h0m10-0.1h0m3.6-0.3h0m1.1 0.2h0m1.5 0.2h0m2.9 0.1h0m1.1-0.4h0m10.9 0h0m-138 1.4h0m4.9 0.3h0m0.6-0.2h0m4.8 0.3h0m0.1-0.7h0m1.8-0.2h0m4.1 0h0m5.6 0.7h0m2.3-0.6h0m5.4 0.5h0m4.2-0.5h0m1.9 0.2h0m5.1 0h0m0.6 0.3h0m3.7-0.2h0m3.5 0.2h0m1.5 0.2h0m4-0.3h0m0.2 0h0m9.8 0.2h0m19.8 0h0m3.9-0.1h0m5.6-0.6h0m19 0h0m1.7 0.5h0m14.2-0.3h0m0.2 0.8h0m0.5-0.4h0m3.1-0.1h0m4.2 0.4h0m-138.3 0.7h0m2.6-0.1h0m5.7 0h0m1.6-0.2h0m4.4 0.2h0m0.3-0.1h0m2.1-0.4h0m2 0.7h0m0.8-0.1h0m1 0.1h0m1.5 0h0m0.6-0.6h0m1.4 0.2h0m6.3-0.1h0m0 0.6h0m1 0h0m0.4-0.5h0m7.9-0.1h0m1.9 0.4h0m2.7 0.3h0m19.3-0.1h0m5-0.5h0m4.6-0.2h0m12.1 0.5h0m9.1 0.3h0m24.8-0.2h0m12.1 0.1h0m-124 0.6h0m2.3 0.5h0m2.9-0.4h0m0.5 0.1h0m0.2 0h0m0.1-0.5h0m0.2 0h0m4.7 0.4h0m13.7 0.2h0m3.4 0.1h0m5.5-0.3h0m2.2 0h0m4.8 0.4h0m2.9-0.3h0m3.8-0.1h0m14.4 0.1h0m6.7-0.3h0m0-0.1h0m1.2 0.6h0m6.2-0.2h0m0.1-0.1h0m0.6 0.2h0m8-0.4h0m0.9 0.3h0m9.5 0.2h0m1.5 0.1h0m11.8-0.6h0m5.2 0.3h0m2.7 0h0m1-0.5h0m0.2 0.4h0m2.4 0h0m1.2 0.4h0m5.3-0.3h0m2.5-0.2h0m-128.5 0.9h0m2.5 0.7h0m5.8-0.4h0m1.4-0.2h0m0.8-0.2h0m1.7 0.1h0m1.3 0.2h0m0.2 0.3h0m7.2-0.7h0m3.2 0.2h0m1.6 0.6h0m1.9-0.6h0m1.3 0.3h0m9.3-0.5h0m1.7 0h0m7.8 0.5h0m8.7 0.1h0m5.3-0.3h0m3 0.4h0m5.1-0.4h0m2.1 0.1h0m1.5 0.3h0m1-0.5h0m6.4 0h0m28.6 0.2h0m9.1 0.3h0m5-0.2h0m2.8 0.4h0m-123.6 0.1h0m4.7 0.2h0m1.3 0.4h0m0.9-0.4h0m6.2 0.4h0m0-0.3h0m1.3-0.2h0m0.8 0.7h0m2.5-0.1h0m1 0h0m2.8-0.8h0m2.4 0.4h0m9.8 0.1h0m7.8-0.1h0m0.9 0.6h0m17.8-0.4h0m0.9-0.5h0m3.1 0.7h0m4.4-0.1h0m5.8 0h0m0.1 0.1h0m2.4-0.2h0m1-0.1h0m0.4 0.1h0m1.4-0.4h0m6.2 0.7h0m0.9 0h0m25 0h0m9.1-0.8h0m1.5 0.8h0m-104.3 0.9h0m1.2-0.4h0m1.7 0.2h0m8.8-0.5h0m6.5 0h0m0.9 0.4h0m5.1 0.4h0m5.6-0.2h0m1.3 0h0m1.6-0.7h0m1.1 0.9h0m2.2-0.8h0m7.8 0.6h0m4.5 0.1h0m6.1-0.6h0m2.5 0h0m0.8 0h0m2.5 0.5h0m1.1 0.1h0m3.6-0.3h0m11.5 0.1h0m6.7-0.2h0m0.4 0.6h0m1.2-1h0m4.1 0.5h0m1.5 0.2h0m10.9-0.5h0m1.8 0.1h0m-99.6 1.1h0m1-0.2h0m4.8 0.5h0m1.6-0.1h0m3.5 0.3h0m5.7-0.1h0m5.1-0.4h0m14.9-0.1h0m1.5 0h0m0.4-0.2h0m8.1 0.4h0m1.1 0h0m1.9-0.4h0m0.3-0.1h0m0.2 0.8h0m0.9-0.7h0m13.6 0.8h0m3-0.2h0m17.3 0h0m5-0.2h0m7.8-0.5h0m1.8 0.7h0m2.5-0.1h0m-102.7 1.2h0m1.1-0.7h0m1.9 0.2h0m2.5 0.5h0m1.9-0.5h0m1.6-0.2h0m14.2 0.8h0m2.5-0.1h0m11.9-0.6h0m0 0.6h0m6.3-0.6h0m5.4 0.1h0m0.3 0h0m1 0h0m10.4 0.7h0m3.1-0.3h0m1.3-0.3h0m1.3 0.3h0m10.2 0h0m15.4-0.3h0m7.2-0.2h0m2.7 0h0m-100.5 1.2h0m5-0.4h0m1.3 0.2h0m17.3 0.6h0m0 0h0m5.8-0.6h0m0.6 0.1h0m2 0.6h0m1.8 0h0m3.3 0.1h0m9.4-0.1h0m7.5 0h0m7.7-0.6h0m5.8 0.2h0m5.1-0.4h0m17.2 0.8h0m2.8-0.6h0m2.4-0.1h0m1.3-0.1h0m3.2 0.3h0m-69.4 0.6h0m4.3 0.1h0m3.1 0.7h0m6.1-0.6h0m1.8 0.3h0m2.4-0.3h0m0.4 0.8h0m9.5-1h0m24.9 0.6h0m8.3 0.3h0m6-0.9h0m-54.7 1h0m0.5 0.7h0m1.2 0.3h0m4.5-0.8h0m33.9 0.1h0m11.5 0.5h0m-59.2 0.2h0m6 1h0m1.6-0.9h0m4.5 0.1h0m15.9-0.1h0m2 0.1h0m3 0.7h0m20.1 0.1h0m3.3-0.9h0m-39.1 1.3h0m0.4-0.2h0m12.8-0.1h0m10.2 0.6h0m11-0.2h0m-43.9 0.6h0m5.4 0.8h0m1.1 0h0m0.8-0.5h0m1.8 0.4h0m0.9-0.6h0m1.9 0h0m6.1-0.2h0m4 0.5h0m-17.5 0.6h0m13.5 0h0m6.2 0.3h0" stroke="#c6c6c8" stroke-width="1.95" stroke-linecap="round" fill="none"/>
<path d="M550.6 772.4h0m1.3 0h0m0.3-0.4h0m0.9 0.4h0m-3.9 0.9h0m0.2 0h0m0.4-0.5h0m1.6 0.4h0m1-0.3h0m0.9 0h0m0.1 0.6h0m-7.9 0.7h0m0.8-0.1h0m4.8 0.2h0m1.3-0.2h0m0.1-0.3h0m2-0.3h0m-12.7 1.7h0m2.5 0.2h0m0.2-0.5h0m2-0.4h0m0.5 0.1h0m0.4-0.1h0m6 0.3h0m2.7 0.2h0m-17.3 1.3h0m0.3-0.6h0m1.5 0.4h0m0-0.2h0m0.5-0.4h0m2 0.9h0m2.5-0.2h0m0.1 0.3h0m0-0.3h0m0.4-0.4h0m3.2-0.1h0m1 0.2h0m4.3 0h0m1.6 0.2h0m-20.8 0.8h0m0.5-0.1h0m0.3-0.1h0m5.4-0.1h0m0.3 0h0m0.6 0.6h0m1.3-0.3h0m0.1-0.1h0m0.4 0.7h0m2.3-0.1h0m2.2-0.4h0m0.2-0.4h0m1.3 0.8h0m2.2-0.5h0m0.3 0.3h0m4-0.7h0m-24.6 1.5h0m1.5-0.1h0m2.9 0.5h0m0.6-0.6h0m2.4 0.2h0m2.3-0.5h0m3.6 0.3h0m1.7-0.2h0m1.8 0.3h0m5.1 0.3h0m1.6-0.4h0m2.9 0.5h0m-30 0.9h0m0.4-0.1h0m3.3-0.6h0m0.9 0.1h0m3.3-0.1h0m1.8 0.6h0m1.5-0.3h0m0.3 0.2h0m2.7 0.2h0m0.8-0.5h0m4.7 0.7h0m5.5-0.4h0m0.8-0.2h0m4.1 0.6h0m1.4-0.5h0m0.2 0.4h0m-30.4 0.4h0m3.2 0.6h0m4.3 0.1h0m3.2-0.9h0m4.8 0.7h0m2.3-0.2h0m2.5-0.3h0m0.2-0.1h0m0.7 0h0m1.2 0.8h0m2.6-0.1h0m0.5-0.7h0m1 0.7h0m4-0.6h0m0.3 0.1h0m0.9 0.2h0m0.7 0.5h0m-38 0.9h0m1-0.8h0m4.9 0.7h0m0.4-0.2h0m2.2-0.4h0m0.5 0.2h0m3.2 0.6h0m1.3-0.4h0m1.9 0.2h0m2.2-0.6h0m1.7 0.4h0m0.1 0.2h0m1-0.1h0m3.7-0.6h0m2.5 0.1h0m0.3 0.5h0m1.2-0.3h0m0.9-0.3h0m1.8 0.6h0m2.1 0h0m0-0.5h0m1 0.1h0m1 0.5h0m3.6 0.1h0m3.4-0.4h0m0.8 0.4h0m-44.7 0.3h0m1.5 0.2h0m4.3 0.1h0m4 0.1h0m2.6-0.3h0m0.2-0.3h0m4.8 0.3h0m3.5 0h0m0.5 0.6h0m0.2 0h0m0.9-0.4h0m1 0h0m2.4 0.4h0m1.3-0.8h0m1.7 0h0m0.2 0.8h0m1.5-0.2h0m0.4 0h0m4.3-0.4h0m2.1-0.3h0m0.4 0.2h0m4.5 0.6h0m0.3-0.5h0m0.3 0.2h0m0.9-0.2h0m0.5-0.1h0m1-0.1h0m0.4 0h0m3.4 0.8h0m-47.3 0.5h0m0.5 0.2h0m2.1-0.6h0m4 0.2h0m2.5 0.7h0m0.1-0.1h0m6.3-0.4h0m2.2 0.5h0m3.8-0.7h0m5.3 0.1h0m0.3 0.6h0m0.5-0.2h0m4.4-0.4h0m1 0h0m0.2 0h0m1.1 0.2h0m0.3 0.1h0m0.1-0.5h0m1 0.1h0m0.1 0.3h0m2 0h0m0.6 0.1h0m0.6-0.1h0m0.3 0.4h0m0.1-0.4h0m0.6 0.5h0m0.1-0.6h0m1-0.3h0m3.5 0.5h0m1.3-0.2h0m1.2 0.2h0m0.7 0h0m0 0h0m0.1-0.5h0m-51.3 1.1h0m0.7 0.2h0m0.6-0.3h0m0.2 0.6h0m0.2 0h0m1 0.2h0m0.4-0.1h0m0.5-0.4h0m0.2 0.2h0m3.9-0.3h0m0.8-0.2h0m0.5 0.5h0m2-0.6h0m6.8 0.4h0m5.1-0.2h0m1.3 0.2h0m3.2 0.3h0m3.7 0h0m0.3 0.3h0m0.8-0.3h0m2.6 0.2h0m2.2-0.3h0m1.4-0.2h0m0.6 0.3h0m1.9 0.1h0m0.6-0.6h0m3.3 0.4h0m3-0.4h0m2 0.2h0m-53.6 1.5h0m0.2-0.8h0m0.2 0.1h0m0 0.3h0m0.8 0h0m0.5-0.1h0m0.3 0.3h0m2.7-0.6h0m1.4 0.7h0m2.3-0.6h0m2.4 0.3h0m0.3-0.2h0m4.7 0.6h0m1.3 0.1h0m1.3-0.6h0m5-0.3h0m0 0h0m2.7 0.2h0m0.2 0.1h0m0.1-0.3h0m0.4 0.1h0m2 0.8h0m0.6-0.4h0m1.6 0.3h0m0.6-0.9h0m0.5 0.3h0m1.2 0.5h0m3.3 0.1h0m2.3 0.1h0m0-0.5h0m0.2 0.5h0m9.1 0h0m1.2-0.4h0m0.5-0.2h0m1.3 0.5h0m2-0.9h0m1 0.8h0m1.8-0.3h0m1.3 0.4h0m-57.1 0.7h0m1.1-0.3h0m0 0.2h0m0.4-0.2h0m0.4 0.4h0m2.7-0.3h0m0.2 0.4h0m5.8-0.4h0m3.1 0.2h0m2.2-0.2h0m3.2 0.3h0m3.7-0.6h0m0.8 0.2h0m3.9 0.5h0m0.4-0.7h0m0.2 0.7h0m0.2-0.7h0m0.2 0h0m0.7 0.7h0m2.5-0.7h0m0.3 0.8h0m1-0.6h0m0.3-0.3h0m2.3 0.6h0m3.5 0.3h0m1.5-0.1h0m2.9 0.1h0m4.1-0.8h0m0.6-0.1h0m0.5 0.1h0m2.1 0.1h0m0 0h0m0.6-0.2h0m0.2 0.8h0m0.3-0.2h0m0.1 0.2h0m2.1-0.4h0m1.6 0.3h0m-58.5 1.3h0m2.7-0.7h0m0.4 0h0m0.5 0.6h0m10.1-0.6h0m0.8-0.1h0m2.1 0.8h0m1.2-0.1h0m0.8-0.2h0m15.4 0.2h0m5.1-0.9h0m2.5 0.6h0m2.3 0.4h0m1.4-0.8h0m0.5 0.1h0m0.2 0.4h0m1-0.4h0m1.5-0.1h0m3.4 0.4h0m0.4-0.2h0m0.6 0.3h0m8.3 0.2h0m0.3 0h0m-63.5 0.8h0m0.9-0.3h0m0.4 0.2h0m0.7 0.2h0m0.4 0h0m0.1-0.2h0m0.6-0.3h0m0.7-0.3h0m2.4 0.9h0m1.1-0.6h0m2.1 0h0m1.3 0h0m2.5 0.5h0m0.8-0.7h0m0.8-0.1h0m0.6 0.8h0m2.4-0.3h0m0.4 0.3h0m2 0.2h0m0.5-0.9h0m3.4 0.5h0m0.2-0.5h0m0 0.2h0m0.5 0.3h0m5-0.1h0m0.6 0h0m3.2 0h0m0.4 0.1h0m11.3-0.1h0m5.8 0.3h0m4.9-0.4h0m1.3 0.4h0m0.8-0.2h0m0.8-0.1h0m0.1-0.5h0m3.3 0.9h0m0.7-0.5h0m-59.3 1.3h0m1 0h0m0.2-0.6h0m0 0.2h0m0.5 0.6h0m1.4-0.2h0m2.9 0h0m0.2-0.1h0m2.6-0.3h0m2.2 0h0m2.7 0h0m1.1-0.2h0m2.1 0.6h0m0.8-0.5h0m1.3 0.5h0m3.5-0.1h0m1.8 0.1h0m0.1-0.7h0m2.6 0.7h0m1.2-0.1h0m0.3-0.5h0m0.5 0.8h0m0.4-0.4h0m2.3 0.1h0m3.5 0h0m0.3-0.5h0m2.6 0.4h0m0.8 0.2h0m6.9-0.7h0m2.2 0.8h0m0.9-0.1h0m3.7 0.1h0m0.4 0.1h0m0.6-0.3h0m5.2 0h0m0.7-0.5h0m-64.4 1.4h0m0.3 0.5h0m2-0.8h0m9.5 0.5h0m0.9-0.1h0m0.3-0.1h0m3.2-0.3h0m4.6 0.5h0m4-0.1h0m1.2 0.2h0m1.8-0.7h0m4.6-0.1h0m2.1 0.7h0m1.6-0.3h0m0.9 0h0m3.4 0.2h0m0.3-0.2h0m2.1-0.1h0m2.3-0.2h0m1.4 0.9h0m7.8-0.1h0m1-0.5h0m0.1-0.3h0m0.5 0h0m4.9 0h0m-60.9 1.3h0m2.7 0.5h0m0.6 0.1h0m2.5-0.8h0m1.3 0.8h0m3.4-0.3h0m1.1 0h0m0-0.7h0m2.8 1h0m0.1-0.5h0m1.8 0h0m0.7-0.3h0m0.1 0.4h0m3.3 0.1h0m1.4 0.2h0m2.4-0.5h0m0.5-0.4h0m1.4 0.8h0m5.4-0.1h0m4.4-0.1h0m2.2-0.4h0m3.9 0.7h0m0.2-0.6h0m0.5-0.2h0m0.1 0.9h0m0.1-0.9h0m0.7 0.2h0m1.6 0.4h0m1.5-0.1h0m4.6-0.4h0m0.5 0.1h0m0 0.3h0m3.4-0.4h0m1.8 0.5h0m0.4 0.2h0m0.3-0.3h0m4.9-0.5h0m2.5 0.2h0m0.1 0.4h0m1.5-0.6h0m0.2 0.3h0m-67.8 1.1h0m0.9 0h0m2.3-0.4h0m5.8 0.6h0m0.9-0.1h0m1.6-0.2h0m0.4 0.2h0m0.4 0.3h0m7.6-0.3h0m0.8-0.3h0m2.3 0h0m0.3 0h0m0.8 0.4h0m0-0.4h0m0.6-0.1h0m0.3 0.3h0m1.9-0.3h0m0.7 0h0m0.1 0.1h0m2.2 0.1h0m3.8-0.2h0m1-0.1h0m7.5 0.3h0m4.9-0.4h0m1.4 0.2h0m0.1 0.4h0m0.3 0.1h0m1.3-0.3h0m1.8-0.1h0m2.4 0.6h0m0.7-0.7h0m3.2 0.2h0m1.1-0.4h0m1.1 0.7h0m0.7 0.1h0m0.9-0.8h0m0.3 0.1h0m1 0.5h0m0.5-0.1h0m-66.4 1.2h0m1.8 0.2h0m0.1 0h0m7.3-0.7h0m0.9 0.8h0m0.3-0.5h0m0.1-0.1h0m1.2 0.2h0m3.1-0.4h0m4.3 0h0m0.6-0.2h0m0.6 0.9h0m1.2 0.1h0m0.2-0.9h0m0.4 0h0m0.1 0.2h0m5.8 0.2h0m2.6-0.2h0m4.4 0.2h0m0.2 0.2h0m2.8 0.2h0m2 0h0m2.1-0.2h0m0.9 0.1h0m0 0h0m1.1-0.7h0m2.3 0.2h0m12.4 0.6h0m1.5-0.5h0m0.9-0.1h0m1.1 0.1h0m2.9 0.2h0m2 0.3h0m1.3-0.7h0m-66.5 1.4h0m1.2-0.1h0m1.8 0.5h0m0.3-0.7h0m0.7 0.3h0m4.1-0.3h0m2.4 0.7h0m2.7-0.5h0m5.3 0.4h0m1.7-0.3h0m2.9-0.1h0m0.5 0.1h0m1.7-0.6h0m1.8 0.1h0m1.6 0.1h0m8.3 0.2h0m3.3 0.1h0m0.7-0.2h0m0.4 0h0m2.8 0.7h0m2-0.4h0m1.1-0.5h0m1 0.2h0m1.2 0h0m0.8 0.6h0m2.3 0.1h0m1.5-0.5h0m0.9-0.3h0m1.2 0.5h0m2.3-0.2h0m4.8 0h0m1.4 0h0m0.5 0.3h0m0.4-0.6h0m1.7 0.6h0m2.1-0.2h0m-72.1 0.8h0m0.7 0.3h0m1-0.1h0m3.4-0.2h0m1.9 0.2h0m0.6-0.1h0m0.5-0.4h0m6.6 0.6h0m9.4-0.2h0m3.1-0.2h0m1.7 0.5h0m1.4-0.5h0m6.1 0.2h0m1.6 0.1h0m1.9 0h0m3.8-0.6h0m7.5 0.5h0m0.7 0.2h0m1.4-0.5h0m2.8 0.6h0m1.8 0h0m0.4-0.1h0m6.6-0.4h0m1.9 0.5h0m0.2-0.2h0m0.1-0.2h0m2.5-0.2h0m0.3 0.3h0m-74.1 1.3h0m0.2-0.2h0m0.7 0.1h0m0.5 0.3h0m1.6-0.2h0m3.7-0.3h0m1.5 0h0m1.2 0.1h0m7.8 0h0m1.7 0.2h0m3.2-0.6h0m0.2 0.5h0m0.5-0.4h0m0.7 0h0m1.9 0.4h0m0.3-0.3h0m2.5-0.3h0m1.5 0.2h0m0.7 0.4h0m5.1-0.4h0m1 0.2h0m0.3-0.2h0m1.3-0.3h0m0.1 0.3h0m2.7 0.6h0m3.1-0.7h0m0.3 0.4h0m0.6-0.5h0m5.9 0.2h0m0.4 0.4h0m1.5-0.6h0m1.9 0.3h0m1.8 0.6h0m5.4-0.9h0m1.9 0h0m0.5 0.9h0m0.4-0.9h0m0.8 0.5h0m0.1 0h0m0.6-0.2h0m1 0.5h0m0.8-0.2h0m1-0.6h0m0.1-0.1h0m3.9 0.4h0m3.9-0.1h0m-77.5 1.1h0m1.2 0.4h0m2.1-0.1h0m1.3 0.2h0m1.2-0.2h0m0.3-0.2h0m1 0.4h0m1.1-0.1h0m4.2 0.1h0m1.6-0.4h0m4.2 0.2h0m1.2-0.2h0m0.2 0.1h0m7.1-0.1h0m3.4 0.3h0m0.1 0.1h0m3.3-0.2h0m2.2-0.5h0m6.3 0.6h0m0.3-0.1h0m2.4-0.4h0m0.9 0h0m3 0.6h0m0.4-0.6h0m1.6-0.1h0m2.1 0.3h0m0.1 0.1h0m0.7-0.4h0m0.3 0h0m0.3 0.5h0m2.5-0.6h0m0.4 0.3h0m1.7 0.1h0m0.3-0.4h0m3.7 0.2h0m1-0.3h0m0.1 0.9h0m0.3 0.1h0m0-0.3h0m0.8-0.3h0m0.2 0.1h0m0.3 0h0m0.2 0.1h0m0 0h0m0.4 0h0m1.8 0.4h0m0.1 0h0m0.2-0.8h0m0.6 0.2h0m0.5 0.4h0m1.9-0.5h0m3.2 0.6h0m0.2-0.1h0m0.1-0.4h0m0.6-0.1h0m-76.7 0.9h0m0.3 0.7h0m2-0.7h0m3.7 0.6h0m0.1-0.3h0m0.2 0.3h0m1.1-0.7h0m2.1 0h0m3.8 0.2h0m0.7 0h0m4.8-0.2h0m0.3 0.9h0m0.2-0.3h0m2.7-0.7h0m6 0.7h0m0.2-0.2h0m0-0.5h0m1.1 0.2h0m1.5 0.2h0m2.1 0.1h0m3.5-0.4h0m1 0.3h0m1.8 0.2h0m0.5-0.3h0m1.7-0.2h0m4.1 0.2h0m4.2 0h0m3.1-0.2h0m2.3 0.2h0m0.6 0.6h0m0.9-0.3h0m2.8 0h0m1-0.1h0m0.2 0.4h0m1-0.6h0m1.7 0.4h0m1-0.5h0m1.9 0.3h0m0.2 0.2h0m0.3-0.7h0m0.1 0.2h0m0.3 0.5h0m2.3-0.6h0m2 0h0m0.1 0h0m4.7 0.3h0m0.2 0.1h0m2 0.2h0m-79.7 0.5h0m0 0.7h0m0.9-0.6h0m0.4-0.2h0m0.4 0.3h0m2.4 0h0m0.7-0.2h0m3.3 0.4h0m5.5 0h0m1 0.3h0m2.5 0h0m4.1-0.2h0m0.8-0.3h0m2.9 0h0m1.1 0.5h0m3.8-0.8h0m0.8 0.6h0m0.8-0.2h0m0.4 0.1h0m1.8 0.1h0m2.3-0.2h0m4.6-0.5h0m0.2 0.5h0m1.4 0.4h0m1.3-0.7h0m1.8 0.3h0m0.3-0.2h0m1 0.5h0m2-0.4h0m1.5-0.1h0m0.2-0.1h0m10 0.5h0m0.1-0.2h0m2-0.1h0m6.7-0.4h0m0.1 0.1h0m3.8 0.7h0m0.7 0.2h0m1.9-0.5h0m2.7-0.4h0m0.7 0.2h0m1.5 0.4h0m0.1-0.1h0m0.8 0.1h0m-80.8 0.8h0m0.2 0.4h0m3.3-0.3h0m1 0.3h0m9.3-0.1h0m1.6-0.3h0m1.4-0.5h0m7.3 0.5h0m2.4 0h0m2.6-0.2h0m1.3 0h0m0.9 0.2h0m2.5 0.3h0m2.9 0.1h0m5.7-0.6h0m1.5 0.1h0m4.3 0h0m1.2 0.1h0m0.9-0.4h0m3.3 0.9h0m0.1-1h0m2.2 0.9h0m3.8-0.1h0m0 0.1h0m0.2-0.7h0m0.3 0.4h0m2-0.1h0m3 0.5h0m1.4-0.4h0m0.3-0.5h0m4.3 0.2h0m1.6 0.2h0m2.1 0.5h0m1.5-0.1h0m0.2 0.1h0m0-0.4h0m0.2-0.3h0m1.1 0.3h0m5.5-0.3h0m0.3 0.6h0m-100.8 1h0m2.1 0.1h0m0.5-0.4h0m12-0.5h0m3 0.7h0m0.7-0.1h0m2.2-0.4h0m3.2 0.3h0m6.5 0.2h0m3-0.6h0m1.9 0.2h0m0.7 0.2h0m0.3-0.2h0m1.6 0h0m3.7 0.4h0m3.6-0.2h0m1.3 0.2h0m12.1-0.5h0m9.4 0h0m3.6 0.1h0m1-0.4h0m2.6 0.2h0m1.7 0.6h0m2.5-0.1h0m2.3-0.2h0m3.3 0.1h0m3.3-0.1h0m0.7-0.5h0m5.3 0.4h0m1.1-0.4h0m0.9 0.6h0m0.7 0h0m1.9 0.2h0m0-0.3h0m-104.6 1.2h0m2.7 0h0m0.6-0.3h0m0.6 0.1h0m5 0.4h0m2.6-0.4h0m5 0.4h0m0.7-0.7h0m0.7 0.3h0m1.1 0.3h0m2-0.7h0m2.7 0.6h0m1.2-0.5h0m0.8 0.3h0m0.5 0.3h0m3-0.6h0m1.9 0h0m0 0h0m0.7 0.4h0m0.5 0.3h0m0.7-0.1h0m0.1 0h0m0.7-0.7h0m0.2 0.9h0m0.1-0.4h0m0.7-0.2h0m2.2 0.2h0m1-0.6h0m0.2 0.2h0m0.2 0.7h0m1-0.3h0m0.9 0.3h0m0.3-0.2h0m0.1-0.1h0m9.9-0.4h0m1.2 0.3h0m2.2 0.5h0m1.3-0.5h0m3.1-0.3h0m2.1 0.2h0m2.4 0.5h0m1.9-0.2h0m2.8 0.2h0m7.1-0.8h0m1 0h0m1.8 0.2h0m0.6 0h0m7.2-0.2h0m0.1 0.5h0m0.4-0.3h0m1.7 0h0m0.8 0.6h0m3.2-0.6h0m1.6 0.5h0m0.6-0.8h0m0.2 0.2h0m1.7 0h0m0.1 0.5h0m0.7-0.3h0m0.3 0h0m1.2-0.1h0m1 0.7h0m3.4-0.9h0m6.1 0.2h0m-110.7 1.2h0m1.7-0.2h0m9.6 0.4h0m3 0.3h0m3.1-0.5h0m0.7 0.1h0m3.3 0h0m0.3-0.3h0m1.2 0.7h0m2.5 0h0m1.5-0.7h0m4.6 0.1h0m0.7 0h0m0.8 0.2h0m1.5 0h0m0.4-0.4h0m0.3 0.1h0m0.5 0h0m9.4 0.7h0m3.6-0.6h0m1.3 0.5h0m1.4-0.5h0m0.1-0.3h0m1.2 0.4h0m0.2 0.4h0m1.8-0.3h0m4.9-0.3h0m0.7 0.6h0m6.1-0.2h0m2.7 0.1h0m5.1-0.3h0m0.6 0h0m1 0.4h0m2 0.1h0m3.5-0.1h0m0.5-0.3h0m1.9 0h0m4 0.1h0m0.7-0.6h0m1.2 0.5h0m0.2-0.1h0m2.5-0.1h0m0.4 0.1h0m1.5-0.4h0m2.4 0h0m0.4 0.5h0m0.1 0.2h0m1.6-0.7h0m0.6 0.2h0m1.2-0.1h0m2.6 0.6h0m0.9-0.7h0m0.4 0h0m6.7 0.9h0m0.9-0.8h0m-112.3 1.7h0m0.7-0.3h0m0.6-0.5h0m0.7 0.4h0m3.6 0h0m0.6-0.2h0m2.5 0.1h0m0.3 0.3h0m1.7-0.2h0m7.6-0.4h0m1 0.2h0m0 0.6h0m3.8-0.5h0m7.1 0.3h0m0.5 0.1h0m1.3 0.1h0m4.1 0h0m0.4 0h0m1.1-0.9h0m0.1 0.1h0m0.5 0.7h0m1.2-0.6h0m2.5-0.1h0m7.2 0.5h0m5.4-0.1h0m1.3 0.3h0m0.5 0.1h0m1.7-0.5h0m5.4 0.2h0m14.2 0.3h0m0.5-0.4h0m2.2 0.3h0m3.8-0.4h0m0.8 0.1h0m2.6 0.3h0m2.4 0.1h0m2.4-0.2h0m1.3-0.1h0m4-0.1h0m0.2-0.4h0m1.3 0.4h0m2.3 0.3h0m0.5-0.3h0m0 0.2h0m0.7-0.2h0m0.6 0h0m0.3 0.4h0m0.3-0.2h0m1.9-0.2h0m3.6 0h0m1.3-0.1h0m0.2 0.4h0m0.8 0.1h0m0.5-0.4h0m-113.2 1.4h0m3-0.2h0m4.7-0.4h0m1.4 0.3h0m1.3-0.6h0m1.5 0.3h0m2.6 0.4h0m0.1 0.2h0m1.5-0.1h0m0.5-0.4h0m1.5 0.2h0m1.5-0.3h0m2.7 0.3h0m1.1-0.4h0m0.7 0.5h0m1.3-0.2h0m0.2 0.3h0m0.2 0.1h0m0 0h0m0.9-0.4h0m0.6-0.1h0m2.3-0.3h0m1.8 0.1h0m1.6 0.2h0m3.3-0.1h0m0.1 0.7h0m2.3-0.1h0m1.6-0.5h0m1.2 0.5h0m1.6-0.5h0m2.6-0.3h0m5.6 0.2h0m4.9 0.6h0m1-0.2h0m2 0h0m0.9-0.7h0m3.4 0.7h0m0.4 0.2h0m0.3-0.4h0m4.4-0.5h0m3 0.6h0m3.6-0.6h0m0.8 0.5h0m3.6 0.3h0m0.9-0.4h0m3.4 0.2h0m1.4-0.1h0m0.4-0.1h0m0.9-0.3h0m3.5 0.6h0m0.2 0.2h0m5-0.2h0m0.2 0h0m1.3-0.5h0m1.7 0.2h0m3.2-0.4h0m0.6 0.7h0m3.4-0.2h0m0.1 0.5h0m1.4-0.7h0m0.3 0.3h0m0.9 0.1h0m0.3 0.2h0m2.6-0.7h0m1.9 0.3h0m2.8-0.2h0m0.4 0.3h0m-119.7 1h0m1.3-0.5h0m0.4 0.8h0m0.7-0.3h0m0.9 0h0m3.1 0.2h0m0.1-0.5h0m0.3 0.2h0m5.3 0.5h0m0.3-1h0m0.5 0.9h0m0.1-0.7h0m0.5-0.1h0m0.6 0.5h0m0.7-0.6h0m0.4 0h0m0.6 0.8h0m0-0.1h0m2.4-0.2h0m2.7-0.3h0m0.5 0h0m0.9-0.1h0m1.2 0.8h0m0.3-0.7h0m1.1 0.5h0m1.9-0.1h0m1.8-0.2h0m1.5 0.1h0m1.3-0.1h0m0.7-0.2h0m2.6 0.3h0m4-0.1h0m2.1 0.5h0m4.4-0.5h0m5.1-0.4h0m1.8 0.1h0m0.8 0.3h0m0.3 0h0m3.1 0.2h0m8.5 0.1h0m5 0.2h0m10.8-0.5h0m4 0.3h0m4.2-0.5h0m0.6 0.7h0m0.3 0h0m0.8-0.4h0m1.5-0.1h0m1.6 0.3h0m0.1 0.2h0m3.2-0.7h0m0.5 0.5h0m0.2-0.2h0m1 0.4h0m1.3-0.6h0m1.5 0.4h0m2.5 0.2h0m0-0.8h0m0.4 0.8h0m0.7-0.7h0m1.7-0.2h0m0.1 0.6h0m0.1-0.1h0m0.8 0.1h0m0.6-0.2h0m3.1 0.4h0m0.8 0h0m1.4-0.3h0m0.7 0.4h0m1.6-0.2h0m1.2-0.5h0m1.8-0.1h0m0.7 0.4h0m0.3-0.5h0m1.5 0.9h0m-122.6 0.6h0m3 0h0m1.4-0.4h0m0.1 0.4h0m0.7 0.5h0m0.2-0.1h0m5.5-0.2h0m0.1-0.3h0m1.1 0.3h0m5.1-0.3h0m5.1 0.3h0m1.4 0h0m0.3 0h0m0.2-0.2h0m0.9-0.4h0m2.8 0.1h0m0.7 0.7h0m1.8 0h0m1.3-0.9h0m0.5 0.3h0m0.4 0.3h0m0.6 0.1h0m3.5-0.3h0m0.4 0.1h0m5.7-0.5h0m1.3 0.5h0m0.5 0.1h0m0.8-0.6h0m1.2 0.7h0m1.3-0.5h0m6.8 0.4h0m7.2-0.1h0m0.3 0.4h0m5-0.9h0m2 0.7h0m6.7-0.2h0m2.2-0.1h0m2.6 0.1h0m1.5-0.2h0m6.4 0.4h0m5.3-0.6h0m0.4 0.8h0m0.3-0.3h0m1.7-0.4h0m0.5 0.2h0m0.3-0.1h0m3.5-0.3h0m0.5 0.1h0m0.5 0.7h0m0.7-0.7h0m0.5 0.8h0m0.3-0.2h0m0.3-0.6h0m0.9 0.3h0m0.6 0.1h0m3.5 0.4h0m1.5-0.3h0m2.7-0.5h0m0.1 0.7h0m0.7-0.4h0m2.4 0.2h0m3.4-0.4h0m1.2 0.7h0m0.5-0.6h0m0.8 0.3h0m0.2 0.4h0m1.3-0.8h0m0.8 0.5h0m-119.6 0.6h0m4.7 0.3h0m0.9-0.2h0m1.4-0.3h0m9.1 0.5h0m0.4 0.4h0m0.5-0.1h0m3.2-0.5h0m0.8 0.5h0m0.1-0.3h0m0.1-0.1h0m1.9-0.2h0m0.4 0.4h0m5.6-0.4h0m2.5 0.5h0m5.9-0.4h0m1.6-0.3h0m4.6 0.7h0m1.1-0.5h0m4.3 0.2h0m3-0.1h0m0.3-0.1h0m0.7 0.1h0m3.7 0.5h0m0.8-0.2h0m0.5-0.7h0m2.4 0.2h0m8.3 0.4h0m4.3 0.3h0m4.1 0.1h0m0.1-0.4h0m3.5-0.5h0m12 0.2h0m2.8 0.5h0m0.4-0.7h0m2.8 0.9h0m1.2-0.9h0m1.2 0.1h0m0.9-0.1h0m0.7 0.5h0m0.8-0.1h0m1.1-0.1h0m1-0.4h0m1.1 0.1h0m1.4 0.7h0m1.6-0.5h0m0.8-0.1h0m0.7 0.1h0m1.7 0.7h0m0.1-0.3h0m0.2-0.4h0m0.6-0.2h0m2.1 0.6h0m1.4 0.1h0m0.2-0.6h0m1 0h0m1.3 0.8h0m1.7-0.3h0m-126.3 0.7h0m1.8 0.5h0m0.5-0.4h0m4.6-0.1h0m0.4-0.3h0m1.6 0.8h0m0.5-0.5h0m0.4 0h0m0.6 0.5h0m1.4-0.4h0m5.9 0.5h0m2.5-0.2h0m0.7-0.1h0m2-0.1h0m0.2-0.6h0m1.4 0.6h0m0-0.1h0m0.6-0.5h0m8.5 0.2h0m3.2 0.4h0m0.3-0.6h0m4 0.1h0m7.6 0.1h0m4.8 0.6h0m1-0.1h0m1.6-0.5h0m1.1 0h0m1.2 0h0m15.2 0.4h0m8.3 0.2h0m0.3-0.4h0m1.8 0.5h0m0.7-0.7h0m1.8-0.1h0m5.5 0.5h0m3.3-0.3h0m1.5 0.1h0m1.3 0h0m0.6 0.1h0m0.5 0h0m1.1 0.5h0m0.7-0.3h0m0.4-0.3h0m2.3-0.2h0m0.8 0.4h0m0.7-0.1h0m0.6-0.1h0m0.1 0.2h0m1.5-0.6h0m0.2 0.4h0m2.3-0.2h0m1.2 0.2h0m0.1 0.3h0m0.2-0.1h0m0.2 0.3h0m2.3-0.4h0m2.5-0.4h0m3.1-0.1h0m1 0.7h0m3-0.6h0m0.1 0.1h0m0.3 0h0m0.6 0h0m2.2-0.1h0m-126.3 0.9h0m0.8 0.2h0m0.4 0.6h0m1-0.7h0m2.4 0.3h0m2 0.6h0m0.6-0.5h0m2.8-0.3h0m1.9 0.1h0m2.1-0.1h0m0.6 0.1h0m1.2-0.1h0m2.4 0.2h0m0.2 0.2h0m2 0.3h0m0.1 0h0m4.6 0.1h0m2.4-1h0m0.4 0.9h0m6 0h0m0.2-0.5h0m0.4 0.4h0m2.5-0.1h0m1-0.1h0m2.3-0.3h0m0.2 0.6h0m1.7-0.2h0m0.5-0.1h0m3.6 0.3h0m4.7-0.5h0m5.6 0.3h0m4.7-0.7h0m1.5 0.5h0m15.8-0.2h0m5.5 0.4h0m0.8-0.3h0m0.1-0.4h0m2.7 0.8h0m7.3 0.1h0m0.3-0.2h0m2.3-0.6h0m1.5 0.1h0m4.6 0.7h0m0.2-0.8h0m1.4 0.8h0m0.2-0.9h0m0.8 0.9h0m1-0.2h0m0.1 0.3h0m1.1-0.6h0m4.8 0.5h0m1.4-0.6h0m2.3 0.5h0m2.3-0.2h0m0.3 0.4h0m2.9-0.4h0m4.8 0.3h0m-127.8 0.7h0m1.7-0.4h0m4 0.1h0m1.1-0.3h0m0.4 0.5h0m1.8 0h0m2.8-0.4h0m0.2 0.3h0m1 0.3h0m0.4-0.4h0m3.6 0.5h0m1.8-0.1h0m5.3 0.1h0m1.1-0.6h0m0.4 0.6h0m1.8-0.8h0m0.5 0.7h0m0.8-0.6h0m8.5 0.2h0m1.9 0h0m3.2 0.7h0m2.7-0.4h0m1.6-0.3h0m12.5-0.1h0m4.6 0.1h0m10.3 0h0m5.7 0.6h0m5.4-0.8h0m0 0.3h0m1.6 0.2h0m0.9-0.5h0m0.4 0.1h0m0.3 0.7h0m0.9-0.4h0m2.6-0.1h0m3.7-0.2h0m0.2-0.1h0m7.6 0.8h0m0-0.5h0m0.3-0.1h0m0.9 0.2h0m0.1 0.4h0m0.1 0h0m0.7-0.9h0m0.3 0.7h0m0.1-0.3h0m0.6 0.1h0m1.3 0.1h0m1.9 0.4h0m3.2-0.6h0m0.3 0.1h0m1.2-0.2h0m2.5 0.3h0m1.9 0.3h0m5.5-0.3h0m3.2-0.2h0m1.2 0.3h0m0.5-0.6h0m0.7 0.2h0m0.4 0.3h0m-129.5 0.5h0m0.5 0.8h0m1.2-0.3h0m3.5-0.5h0m1.7 0.3h0m0.8 0.6h0m4.3-0.3h0m2.5 0.3h0m4.5-0.4h0m2.6 0.2h0m3 0.2h0m2.7-0.2h0m2.7-0.4h0m0 0.2h0m1.2 0.3h0m4.7 0h0m0-0.1h0m0.6-0.3h0m4.9 0.3h0m0.1 0.1h0m0.8-0.6h0m2.3 0.4h0m3 0.1h0m0.3 0.1h0m0.2-0.8h0m0.6-0.1h0m1.2 0.6h0m0.8-0.3h0m12.8 0.5h0m1.2-0.1h0m0.4-0.6h0m13.4 0.1h0m1 0h0m1.5 0.1h0m1.5 0.2h0m6 0h0m2.2-0.1h0m1.4 0h0m1-0.2h0m4.1 0.7h0m0.3 0.1h0m0.5 0h0m0.9-0.1h0m1.7-0.6h0m1.4 0.5h0m1-0.7h0m2.5-0.1h0m0.3 0.8h0m3.4-0.2h0m0.7-0.2h0m0.5 0.4h0m1.4-0.3h0m4.3 0.3h0m3.5-0.7h0m0.8 0.1h0m2.4 0.6h0m-116.8 0.5h0m0.2 0.4h0m1.1-0.4h0m0.6 0.6h0m3.1 0h0m2.1-0.6h0m3.8 0.2h0m1.6 0.1h0m2.2-0.3h0m0.3-0.3h0m1.2 0.7h0m5.6 0.3h0m1.4-0.6h0m2.3-0.2h0m0.5 0.1h0m0.2 0h0m0.2 0.4h0m2.5 0h0m1-0.4h0m2.1 0.2h0m0.4 0.4h0m0.2-0.8h0m4.7 0.5h0m2.5 0.1h0m7 0.2h0m27.5-0.1h0m1.4-0.5h0m1.5 0.3h0m1-0.5h0m4 0.1h0m3.2 0.2h0m0.1 0.5h0m2.1 0h0m0.2-0.4h0m1.4-0.3h0m0.5-0.1h0m2 0.8h0m0.9-0.2h0m2 0.2h0m2.9-0.1h0m1.5 0.2h0m5.1-0.3h0m1.9 0.3h0m1.9-0.5h0m1.1 0.3h0m0.2 0.1h0m0.8 0h0m0.3-0.7h0m0.5 0.1h0m1.2 0h0m0.1-0.1h0m1.4 0.2h0m2.8 0h0m1-0.1h0m0.9 0.4h0m0.4-0.3h0m0.5 0.5h0m1.3 0.1h0m0.2 0h0m0.6-0.1h0m0.6-0.5h0m0 0.3h0m1.2-0.2h0m2.1-0.5h0m-130.2 1.4h0m0.9-0.1h0m2.6-0.2h0m0.9 0.5h0m1-0.2h0m3.3-0.4h0m0.1 0.8h0m0-0.7h0m0.7 0.6h0m0.4 0h0m5.8-0.3h0m1.9 0.3h0m0.9 0.2h0m0.5-0.1h0m0.2-0.1h0m3.8-0.1h0m1.4 0.3h0m0.9-0.6h0m0.1 0.3h0m0.7-0.3h0m3.4 0.5h0m1-0.3h0m0.3-0.4h0m1.6 0h0m0 0.1h0m2.8 0.7h0m1.4-0.8h0m1.1 0h0m5.9 0.9h0m3.9-0.9h0m4.7 0.8h0m0.4-0.7h0m0.3 0.6h0m2-0.2h0m1.4 0.1h0m5.6-0.1h0m0.7-0.2h0m11.2-0.3h0m5.4 0.7h0m7-0.5h0m1.3 0.6h0m2.4-0.4h0m4.5 0.2h0m0.1 0.2h0m9.6-0.4h0m1.5 0.4h0m1.9-0.4h0m0.6-0.5h0m5.1 0.4h0m1.4 0.2h0m1 0.3h0m0.4-0.2h0m2.5-0.1h0m0.5 0.2h0m0.6 0h0m2.5 0.2h0m1.8-0.3h0m1.1 0.3h0m3.8-1h0m1.9 0.1h0m-128.2 1.1h0m2.6 0.7h0m2.8-0.4h0m0.2 0h0m0.3-0.4h0m1.9-0.1h0m0.2 0.2h0m1 0.8h0m1.2-0.8h0m1.7 0.3h0m1.1 0.2h0m0.4-0.6h0m0.4 0.7h0m2.6-0.5h0m1.4 0.7h0m0.2-0.8h0m2.7 0.5h0m0.2-0.5h0m0.2 0.5h0m0.3-0.1h0m0.3-0.5h0m0.1 0.1h0m2.7-0.1h0m1.1 0.6h0m0.6 0.2h0m0.7-0.5h0m1.8 0.2h0m0.6-0.4h0m0.8 0.3h0m0-0.1h0m0.7-0.3h0m0.1 0.5h0m1.3-0.3h0m1.4 0.2h0m0.6-0.1h0m3.4-0.1h0m6.1 0.4h0m5.7-0.3h0m1.1 0.5h0m0.3-0.4h0m13.3-0.3h0m5.6 0.1h0m6.7 0.1h0m0.1-0.3h0m5.3 0.1h0m0.2 0.2h0m5.6 0.5h0m3.9-0.1h0m0.3-0.4h0m1.3 0.4h0m6.4-0.4h0m0.3-0.3h0m0.3 0.8h0m0.3 0h0m0.1-0.2h0m0.7-0.7h0m0.2 0.6h0m0.9-0.2h0m4 0.1h0m1 0.4h0m1.3-0.2h0m0.2 0h0m1.5-0.2h0m0.9 0.2h0m1.2 0.2h0m0.3-0.3h0m0.6 0h0m0.4 0.3h0m0.2-0.6h0m1.8 0.3h0m1.7-0.3h0m0.7-0.2h0m0 0.1h0m0.5 0.8h0m0.4-0.9h0m2.4 0.6h0m0.3-0.4h0m0.5-0.1h0m2.2-0.1h0m0.5 0.2h0m0 0.6h0m-129.1 0.1h0m4.1 0.7h0m0.3-0.6h0m1.2 0.4h0m1.3 0.3h0m0-0.6h0m2 0.6h0m2.9-0.5h0m0.9-0.1h0m1.9 0.3h0m1.1 0.3h0m0.9 0.1h0m0.3-0.1h0m0.6-0.5h0m2.1 0.6h0m1-0.6h0m0.8 0.2h0m3.4 0.4h0m0.3-0.6h0m0.1 0.2h0m0.8 0.5h0m2.4-0.9h0m0.4 0h0m1.8-0.1h0m0.9 0.4h0m1.5-0.3h0m2.3 0.3h0m1.9 0h0m2.6 0h0m2.5-0.2h0m7.6 0.3h0m0.8 0.5h0m4.2-0.1h0m0.4-0.6h0m18.7-0.1h0m0.8 0.3h0m5.5 0.4h0m0.1-0.8h0m1.3 0.8h0m7.2-0.5h0m1.1 0.4h0m0.4-0.1h0m0-0.2h0m2.5 0.2h0m0.6 0.2h0m0-0.8h0m0.2 0.7h0m0.7-0.4h0m1.2-0.1h0m0 0.1h0m0.7-0.2h0m1.4 0.4h0m1.4 0.3h0m0.3-0.1h0m0.2-0.3h0m2.9 0.1h0m0.2-0.1h0m1.9-0.4h0m2 0.3h0m0.8 0.4h0m0-0.4h0m0.3 0h0m1.1-0.1h0m0.2 0.4h0m0.2-0.5h0m0.7 0.1h0m0.6 0.5h0m0.1 0.1h0m2-0.5h0m0-0.1h0m6.1 0.1h0m1.1 0.2h0m0.4-0.1h0m5.9-0.1h0m1.9 0.1h0m1.6-0.1h0m0.1 0.5h0m1.3-0.9h0m0.3 0.6h0m0.4 0.4h0m0.3-1h0m0.2 0.5h0m2.2 0h0m0 0.1h0m-133.8 0.8h0m0-0.1h0m0.1 0.2h0m1.4-0.3h0m0.5 0.7h0m0.8 0.1h0m1.9-0.1h0m10.2-0.6h0m1.7 0.7h0m1.9-0.8h0m0.5 0.5h0m0.9-0.6h0m1.8 0.6h0m0.4-0.7h0m2.2 0.5h0m1.5-0.1h0m0.5-0.3h0m2 0.3h0m0 0.2h0m3.2 0.2h0m2.1 0h0m1.3 0h0m1.7-0.2h0m2.1-0.6h0m1.7 0.3h0m2.1 0.1h0m6.3 0.4h0m0.1 0.1h0m1.8-0.7h0m3.6-0.2h0m13.3 0.3h0m5 0h0m0.4 0.4h0m3.3-0.3h0m1.8 0.6h0m5-1h0m0.1 0.6h0m2.8 0.3h0m0.7-0.3h0m0.6 0h0m0.2 0h0m0.3-0.4h0m3.8 0.4h0m1.5-0.2h0m2.2-0.2h0m2.4 0h0m0.8 0.4h0m6.6-0.3h0m2.7 0.4h0m2.4-0.5h0m0.1 0.4h0m0.8-0.4h0m1.3 0.1h0m0.1-0.1h0m0.6 0.7h0m3-0.4h0m2.1-0.2h0m1.3 0.5h0m0.7-0.6h0m0.1 0.2h0m2.8 0h0m2.4 0.1h0m2.2-0.5h0m0.5 0.5h0m1.5 0.2h0m2.7-0.4h0m1.6 0.6h0m-134.1 0.7h0m2.8 0.4h0m2.5-0.4h0m8.8-0.2h0m0.7 0.4h0m2.8-0.7h0m1 0.6h0m0.1 0.2h0m0-0.3h0m0.3 0.3h0m0.9-0.3h0m1-0.1h0m1.9-0.5h0m3.2 0.4h0m3 0.4h0m1.3-0.4h0m0.3 0.1h0m2.5 0.4h0m2.5 0.1h0m0.1-0.2h0m0.6-0.8h0m3.5 0.8h0m1.7-0.4h0m3.4 0.3h0m0.9-0.2h0m2.9-0.1h0m6.1 0.3h0m6.3 0h0m11.1-0.2h0m0.1 0.4h0m6.7-0.9h0m3.3 0.6h0m1.5 0.3h0m0.9 0h0m0-0.5h0m0.8 0.5h0m2.2-0.1h0m1.1-0.1h0m2.8 0.1h0m1.7-0.4h0m1.5 0.4h0m1 0h0m0.2 0.2h0m1-0.7h0m0.4 0.1h0m0.5 0.4h0m2.1-0.6h0m0.5 0.5h0m3.2-0.2h0m1.3-0.1h0m1.7 0.1h0m3.7-0.3h0m0.7-0.1h0m2 0.2h0m2.5 0.5h0m0.6-0.1h0m0.5-0.7h0m1.6 0h0m1.6 0.1h0m2.4 0.9h0m1.5-0.1h0m0.1-0.1h0m2.3-0.1h0m0.1 0.1h0m6.1 0.1h0m0.5-0.6h0m-132.5 1.4h0m0.5-0.2h0m9.4 0.2h0m0.1 0h0m2.3 0.1h0m0.8-0.1h0m1.3 0.1h0m0.6-0.7h0m2.5 0.3h0m2.2 0.2h0m1.2-0.6h0m0.1 0.3h0m0 0h0m2.8-0.2h0m1.5 0.1h0m0.2 0.5h0m1.2 0h0m2.7-0.6h0m2.6 0.3h0m1.4 0.5h0m1.7-0.4h0m5.8 0.5h0m4.1-0.4h0m0.9-0.5h0m1.2 0.6h0m0.2-0.5h0m1 0.4h0m0.4-0.6h0m0.3 0.7h0m18.2-0.2h0m5.8 0h0m5 0h0m1 0.4h0m10.2 0h0m2-0.4h0m1-0.4h0m0.1 0.5h0m2.4 0.3h0m0.4 0h0m0.1-0.8h0m3.9 0h0m0.5 0.5h0m0.4 0.1h0m1.9 0.3h0m0.8-0.1h0m3.5-0.9h0m0.2 0.5h0m1 0.2h0m0.7-0.3h0m0.4 0.5h0m0.1 0h0m0.8-0.7h0m0.5 0.2h0m1.8 0.1h0m0.3-0.4h0m1.3 0.3h0m3.2 0.5h0m1-0.8h0m0.3 0.3h0m2.9-0.3h0m1.6 0.6h0m1.2-0.6h0m1.2 0.2h0m1 0.6h0m0.4-0.8h0m1.8 0.2h0m0.1-0.2h0m0.2 0.2h0m0 0.6h0m1.2-0.8h0m1.6 0.3h0m0.2-0.1h0m0.8 0.7h0m0.5-0.3h0m1.1-0.1h0m-131.9 0.8h0m1.7 0.6h0m1.9-0.8h0m2.6-0.2h0m0.4 0.6h0m1.4 0.1h0m4.2 0.1h0m5.8-0.7h0m8.2 0.9h0m2.5-0.8h0m0.2 0.2h0m0.4 0.3h0m0.4-0.2h0m0.6-0.2h0m0.9-0.1h0m1.1 0.5h0m1.2 0h0m0.1-0.5h0m7.1 0.5h0m0.2-0.6h0m0.3 0.8h0m0.9-0.8h0m6.2 0.8h0m1-0.5h0m8.5 0.1h0m2.3 0.2h0m5.8-0.6h0m6.2 0.1h0m3.8 0h0m4.3 0.4h0m2-0.2h0m1-0.4h0m1.6 0.6h0m1.3 0.2h0m2.4 0.1h0m0.6-0.9h0m1.7 0.2h0m0.5 0.6h0m0-0.5h0m1.4-0.2h0m2.3 0.7h0m1-0.4h0m1.5 0.5h0m1.3-0.9h0m1.1 0.8h0m2.2-0.5h0m0.1 0.7h0m0.2-0.6h0m0.7 0.6h0m0.5-0.6h0m0-0.4h0m0.1 0.5h0m0.1 0.4h0m1.5-0.2h0m0.3 0.2h0m0.4-0.2h0m0.2-0.4h0m5.5 0.2h0m1.5-0.2h0m2 0.3h0m0.8 0.4h0m0.2-0.5h0m1.4 0.2h0m0.3-0.5h0m0.1 0.5h0m0.1-0.3h0m3.6 0.5h0m5.2-0.4h0m1.2 0.5h0m0.2-0.1h0m0-0.7h0m0.6 0.3h0m1.2 0.3h0m0.9-0.4h0m1.7-0.3h0m-132.6 1.7h0m1.6-0.1h0m0.2-0.3h0m0.7-0.1h0m1 0.6h0m1.8-0.1h0m0.9-0.2h0m3.9 0.1h0m3-0.5h0m3 0.6h0m1.9-0.4h0m0.2 0.2h0m1.7 0.1h0m0.7 0.2h0m0.2-0.2h0m4.3-0.3h0m1.6 0.3h0m3.9 0h0m0.2-0.4h0m10.2 0.1h0m1.1-0.4h0m0.9 0.9h0m4.9-0.4h0m8 0.4h0m10.3-0.6h0m6.7 0.3h0m3.2-0.5h0m1.4 0.8h0m0.2-0.3h0m5.4-0.3h0m0.3-0.2h0m0.9 0.7h0m1.9-0.7h0m0.8 0.9h0m1.1-1h0m0 0.6h0m0.5-0.1h0m5.7 0h0m0.2 0h0m0.9 0.2h0m2.5-0.6h0m1.1 0.7h0m1.2-0.2h0m0.1-0.5h0m1.7 0h0m0.6-0.1h0m0.4 0.6h0m0.5 0.3h0m0.1-0.7h0m0.8 0.5h0m0.9 0.2h0m0.9 0h0m0.2-0.3h0m0.8 0.4h0m0.1-0.1h0m2.3-0.1h0m0.4 0h0m1-0.7h0m1.6 0.9h0m0.5-0.4h0m0.2-0.3h0m1.4 0.5h0m1.8-0.8h0m0.5 0.4h0m0.2 0.6h0m0.5-0.2h0m4.5-0.7h0m1.6 0.7h0m0.1-0.1h0m0.9-0.4h0m0.1-0.2h0m2.4 0.8h0m0.6-0.4h0m3.1-0.1h0m2 0h0m1.1 0.4h0m-135.8 0.2h0m0.5 0.4h0m0.5 0.2h0m0.3 0.4h0m2.5-0.3h0m0.1-0.6h0m0.1 0.6h0m2-0.1h0m2.4 0.3h0m0.3-0.3h0m5.7 0h0m0.1 0h0m1.7-0.6h0m7.2 0.8h0m4.3 0.2h0m11.1-0.8h0m0.4-0.2h0m2.6 0.4h0m6 0h0m6.4 0.6h0m1-0.2h0m0.2-0.4h0m9.5-0.1h0m0.9 0.1h0m9.6-0.3h0m3.1 0.6h0m1.7-0.1h0m1.1-0.4h0m0.4-0.2h0m0.4 0.3h0m0.7 0.5h0m0.3 0h0m3.9-0.4h0m0.1 0.4h0m0-0.6h0m1.8 0.3h0m0.3 0.2h0m1 0h0m0.8-0.2h0m0.7-0.4h0m0.5 0.5h0m1.5 0.2h0m0.1-0.8h0m1.2 0.8h0m2.2 0h0m3.7-0.7h0m0.6 0.9h0m4.5-0.5h0m0.7-0.3h0m0.9 0.3h0m0.8 0.1h0m1.1 0.1h0m1.6-0.3h0m2.7 0.2h0m1.5-0.3h0m2.6 0.6h0m1.6-0.2h0m4.5-0.2h0m0.8 0.4h0m0.8 0h0m0-0.2h0m3.9 0.2h0m2.5-0.4h0m0.4 0.1h0m2 0.2h0m-134.1 1.1h0m0-0.1h0m0.7-0.2h0m0.5-0.4h0m0.8-0.1h0m0.1 0.7h0m0.1-0.7h0m3.8 0.5h0m1.1 0h0m3.3 0.3h0m0.7 0h0m6.4-0.2h0m1.1 0.2h0m0.8-0.3h0m3.8-0.1h0m1.8-0.3h0m0.7 0.6h0m1-0.2h0m0.3 0h0m0.5 0.3h0m5.5-0.5h0m1.5-0.2h0m2.6 0.5h0m0.9-0.3h0m6.9-0.4h0m4.9 0.4h0m0.4 0.3h0m0.6-0.6h0m1.2 0.4h0m4.1-0.2h0m3.7 0.2h0m19.3 0.3h0m0.4 0.2h0m2-0.8h0m4.7 0h0m0 0.5h0m0.1 0.2h0m4.3-0.5h0m0.1 0.2h0m0.9 0.4h0m1.6-0.5h0m0-0.2h0m0.7 0.5h0m0.9-0.3h0m1.8 0.3h0m0.4-0.8h0m1.8 0.5h0m6.4 0.5h0m0.3-0.2h0m2.4-0.4h0m1.7-0.4h0m0.6 0.2h0m0.8 0.5h0m0.2 0.3h0m2.7 0h0m0.1-0.7h0m4.8 0.7h0m2.2-0.4h0m1.3 0.3h0m2.8-0.2h0m0.4-0.2h0m3.2 0.3h0m2-0.6h0m0.3 0.1h0m2.3 0.6h0m0.8-0.5h0m-133.3 1.4h0m0.7-0.3h0m1.2-0.3h0m0.4 0.3h0m0.1 0.3h0m2.6-0.2h0m1.8-0.2h0m0.1-0.1h0m0.5 0.6h0m3.9 0h0m1.8-0.6h0m3.1 0.5h0m2.3-0.5h0m1.7-0.2h0m0.9 0.6h0m2.2-0.4h0m8.5 0.7h0m1.4-0.7h0m1.2 0.7h0m4.2-0.6h0m1.8 0.4h0m1.6 0.1h0m4-0.3h0m1.1-0.4h0m10.2 0.3h0m4.8-0.2h0m0.4 0.2h0m2.3 0.2h0m0.5 0.2h0m3.1 0h0m4.2-0.9h0m1.5 0.6h0m0.4-0.4h0m2 0.3h0m5.1-0.4h0m3.4 0.5h0m2.5 0.1h0m0.7-0.5h0m1.4 0.3h0m8.4-0.1h0m4.2-0.3h0m6.9 0.3h0m0.3-0.3h0m1 0.1h0m0.9 0.7h0m0.7-0.2h0m2.5 0h0m0.1-0.5h0m1.3 0.1h0m2.3-0.1h0m0.9 0.1h0m1.1-0.2h0m1.6 0.8h0m1.3 0h0m0.2-0.3h0m0.5-0.5h0m0.1 0.5h0m0.6 0.1h0m0.6-0.4h0m0.7 0.2h0m0.1-0.1h0m0.4 0.1h0m0-0.3h0m1.4 0.8h0m4.4-0.6h0m1.8 0.6h0m0.2 0h0m0.5-0.6h0m1.1 0.3h0m-136.3 0.8h0m1.4 0.3h0m0.6-0.4h0m3.3-0.1h0m1.1 0.6h0m4.3-0.6h0m1.2 0.6h0m2 0h0m2.5-0.2h0m1.5 0h0m1.2-0.2h0m3.4-0.2h0m2.3 0.1h0m1.1-0.2h0m1.6 0h0m0.3 0.7h0m0-0.4h0m2.5 0.4h0m1.7-0.8h0m0 0.3h0m2.3 0.3h0m2.2 0.1h0m2.3-0.7h0m1.7 0.4h0m3.1-0.2h0m2 0.5h0m1-0.6h0m2 0.7h0m5-0.2h0m1.4-0.3h0m1 0.4h0m0.9-0.6h0m1.9 0.6h0m3.6-0.1h0m2.7-0.4h0m3.5 0.6h0m0.9-0.7h0m1.1 0.1h0m1.3 0.2h0m3.7 0h0m2.3 0h0m0.8-0.1h0m0.6-0.3h0m2.4 0.4h0m0.7 0.2h0m0.9 0.3h0m1-0.5h0m0.2-0.5h0m0.7 0.7h0m3.4-0.2h0m1.6 0h0m0.2 0h0m1.3-0.4h0m3.8 0.2h0m0.9 0.6h0m2.3-0.7h0m0.5 0.4h0m2-0.6h0m1 0.8h0m3.4-0.6h0m4.9 0.7h0m0.2-0.4h0m1.1 0.4h0m0.6-0.6h0m2.4 0.7h0m1.5-0.7h0m3.8 0.7h0m1.1-0.1h0m0.8-0.8h0m0.6 0.6h0m0.1-0.4h0m0.6 0h0m0.3 0.4h0m2-0.6h0m0.6 0.3h0m1.2-0.3h0m0.4 0.6h0m0.8-0.6h0m1.7-0.1h0m0.2 0.8h0m0.2-0.8h0m3.8 1h0m-126.8 0h0m0.3 0.5h0m0.7-0.4h0m1.5 0.3h0m0.4 0.6h0m1.6-0.1h0m2.5-0.6h0m2.8 0.3h0m0.3-0.1h0m0.7-0.1h0m1.6 0.1h0m5.5 0.2h0m4.7 0.2h0m4.3-0.1h0m1.4-0.5h0m4.3 0.6h0m0-0.4h0m3.3-0.3h0m4.3 0.1h0m0.2 0.1h0m4.9 0.1h0m2.6-0.4h0m0.3 0.2h0m0.1 0.5h0m3.3-0.2h0m0.6 0.3h0m5.5-0.5h0m0.9 0.1h0m0.1-0.4h0m0.3 0.1h0m0.3 0.2h0m0.1 0.5h0m0.4-0.5h0m7.9 0.3h0m5.8-0.4h0m1.2-0.2h0m2.4 0.6h0m0.7 0.2h0m1.9-0.3h0m0.2-0.1h0m0.6 0.3h0m0.1-0.5h0m0.9 0.4h0m1.7-0.3h0m0.6-0.1h0m1.3 0.1h0m1.1 0.3h0m3.4-0.4h0m2 0.2h0m1.6 0h0m1.2 0.4h0m4.1-0.5h0m2.4 0.2h0m0.9-0.5h0m0.9 0.7h0m2.4 0.1h0m3.6-0.2h0m1.2-0.6h0m0-0.1h0m1.5 0.9h0m0.5-0.8h0m0.4 0.8h0m1-0.5h0m1-0.3h0m0.7 0.9h0m0.2-0.6h0m0.8 0.4h0m3-0.1h0m0.3-0.6h0m0.9 0.7h0m1.6-0.6h0m0.4 0h0m1.8 0.2h0m1.3 0h0m1.2-0.3h0m0.4 0.3h0m1.9 0.2h0m0.6-0.1h0m-133.9 1.4h0m2.7 0h0m0.6 0h0m1.3 0.1h0m0.1-0.5h0m2.7-0.1h0m1.9 0.4h0m1-0.1h0m0.5 0h0m0.3 0h0m3.3-0.4h0m2.9 0.3h0m0.9 0.4h0m1.1-0.3h0m3.8-0.3h0m1.2 0.5h0m5.2-0.5h0m0.9 0.2h0m2.4 0.1h0m2.2-0.7h0m3.7 0.8h0m0.9-0.7h0m0.1 0.6h0m0.3 0.2h0m1.5-0.7h0m2.2 0.3h0m8.2 0.1h0m1.2 0h0m5.3 0.3h0m1-0.9h0m0.1 0.7h0m1.9 0.1h0m0.1-0.6h0m2.8 0.4h0m0.7-0.1h0m1.6-0.3h0m2.8 0.2h0m0.2 0.4h0m2.6-0.4h0m0.4 0.4h0m2.7-0.7h0m0.6 0.1h0m2.8 0.1h0m1 0.5h0m0.7-0.4h0m2.2 0.2h0m2.3 0h0m1.3-0.3h0m0.1 0.7h0m1-0.3h0m0.3 0h0m0.6-0.1h0m2-0.6h0m0.4 0.9h0m1.5 0h0m0.1 0.1h0m1.1-0.6h0m0.1 0.2h0m1 0.2h0m0.4-0.8h0m1.2 0.9h0m0.8-0.5h0m1.7 0.3h0m0.5 0h0m1.1-0.7h0m1.4 0.5h0m0.3 0.4h0m6.4-0.7h0m2.7 0.7h0m0.5-0.7h0m3 0.4h0m1.9-0.5h0m3.9 0.6h0m0.5 0.1h0m5.2-0.7h0m1.3 0h0m0.2 0.1h0m0.2 0.5h0m0.6-0.2h0m0.3 0h0m1.9 0h0m0.5-0.5h0m1.4 0.9h0m-131.9 0.4h0m0.7 0.2h0m0-0.1h0m1.5-0.2h0m1.2-0.1h0m2.5 0.3h0m0.7-0.1h0m0.5-0.3h0m2 1h0m0.1-0.1h0m0.9-0.4h0m1.6 0.5h0m1-0.9h0m0.2 0.4h0m1.2-0.1h0m0.7-0.2h0m0.3 0.1h0m0.4 0.3h0m2 0h0m1.6-0.5h0m4.3 0.4h0m1.9 0.3h0m0.1 0.1h0m4.8-0.2h0m1.9-0.6h0m1 0h0m2.1 0.6h0m0.4-0.3h0m0.2 0.4h0m2-0.1h0m3.3 0.1h0m0.6 0.2h0m4.1-0.6h0m0.5-0.1h0m12.9-0.2h0m2.1 0h0m0.9 0.7h0m1.3-0.3h0m0 0h0m1-0.1h0m1.3 0.3h0m0.7-0.4h0m1.7 0.4h0m4.7-0.5h0m0 0.5h0m0.8 0.2h0m0.3-0.1h0m4.1-0.8h0m2.2 0h0m1.3 0.9h0m1.9 0h0m0.1-0.2h0m1.3-0.2h0m4-0.3h0m9.9 0.2h0m2.2-0.2h0m1.5 0.1h0m0.1 0.5h0m1.9-0.5h0m1.5 0.6h0m0.1-0.3h0m2 0.3h0m0.9-0.3h0m0.9-0.3h0m0.2 0.6h0m2.1 0h0m0.5-0.1h0m1.4-0.4h0m0.2 0.3h0m1.5 0.2h0m1.2-0.2h0m0.3-0.3h0m0.6 0.5h0m1.6-0.8h0m1.9 0.5h0m4.6-0.1h0m1.7 0.1h0m0 0.3h0m0.2-0.9h0m0.5 0.4h0m0.9 0.4h0m0.3-0.7h0m2 0.6h0m1.7-0.1h0m-135.4 1.1h0m5.4-0.6h0m0.1 0.1h0m0.7-0.2h0m1.8 0h0m0.3 0.9h0m1.9-0.6h0m0.5 0.2h0m4.1 0.2h0m1.3 0.1h0m0.2-0.1h0m0.4-0.4h0m1 0.4h0m0.5-0.4h0m0.4 0.3h0m0.4-0.1h0m1.4 0.5h0m0.1-0.5h0m0-0.2h0m2.8 0.3h0m0.5-0.2h0m0.7 0h0m2.8-0.3h0m0.7 0.8h0m0.3-0.6h0m8.6-0.3h0m1.9 0.1h0m1.9 0.2h0m2-0.1h0m0.8 0.5h0m0.7-0.2h0m8.7-0.1h0m2.6-0.1h0m1.9 0.7h0m3.8-0.6h0m0.6-0.2h0m0.3 0.7h0m0.4-0.1h0m1.6-0.7h0m0.8 0.2h0m3.3 0.6h0m0.8-0.5h0m2.1 0.5h0m1.8 0.1h0m1.2-0.4h0m2.1-0.4h0m2 0.1h0m0.7 0.6h0m1-0.3h0m1 0.3h0m1 0h0m0.4-0.7h0m0.7 0.3h0m0.2-0.5h0m3.7 0.1h0m2.7 0h0m0.6 0.5h0m8.2 0h0m0.9-0.6h0m0.2 0.2h0m2.2 0.5h0m1.6 0.2h0m0.3-0.6h0m1 0.1h0m1.2 0.1h0m4.8 0.3h0m0-0.6h0m1.6 0.4h0m0.7 0h0m0.5 0h0m0.4-0.2h0m0.6 0.4h0m4.2-0.6h0m0.1 0.2h0m1.3 0.4h0m1.7-0.1h0m0.4-0.1h0m0.6 0.2h0m0.4-0.6h0m1.9 0.6h0m0.7-0.4h0m0.8-0.3h0m0.1 0.2h0m0.5-0.2h0m0.1 0.1h0m1.7 0.7h0m3.5 0.1h0m0.6-0.4h0m2.6 0.1h0m-134.6 0.5h0m1.2 0.1h0m1.8-0.1h0m1.9 0.7h0m0.9-0.6h0m1.2 0.3h0m6.6-0.3h0m5.6 0.3h0m0.9-0.5h0m2.6 0.5h0m0.5 0.3h0m0.4-0.8h0m1.3 0h0m2 0.8h0m5.1-0.9h0m4.4 0.1h0m11.9 0.2h0m1.7-0.1h0m1.7 0h0m3.8 0.3h0m0.1-0.2h0m9.1 0.4h0m0.3-0.4h0m4.2 0.3h0m1.7-0.2h0m0.2 0h0m0.5 0.6h0m0.7-0.9h0m0.4 0.2h0m2.3 0.2h0m1.6 0.3h0m0.1-0.6h0m0.4 0.3h0m0.7 0.2h0m0.2-0.7h0m2.8 0.7h0m1-0.3h0m0.8 0.3h0m4.7 0h0m0.3-0.5h0m1.2 0.1h0m0.9-0.1h0m0.2-0.2h0m0.3 0.7h0m4.4-0.7h0m0.8 0.6h0m1 0.3h0m0.9-0.2h0m2.1 0.2h0m4.6-0.2h0m0.4-0.6h0m0.6 0.9h0m0.4-0.2h0m1.5 0h0m0.4 0h0m0.4-0.4h0m1.9-0.2h0m0.9 0.8h0m0.1-0.2h0m0.4-0.6h0m1.1 0.4h0m4.4-0.4h0m0.3-0.1h0m5.8 0h0m0.2 0h0m0.2 0.6h0m2.6 0.2h0m1-0.1h0m1.2-0.2h0m2.4 0h0m3.1-0.1h0m0.6 0.1h0m1.9 0.2h0m-131.8 0.9h0m4.5-0.5h0m2.8 0h0m3.5 0.5h0m0.1-0.6h0m1.6 0h0m11 0.7h0m1.6 0.1h0m0.4-0.1h0m4.6-0.3h0m6.3 0.4h0m1.7-0.3h0m3.2-0.3h0m3.1 0.5h0m0.9-0.5h0m0.1-0.1h0m4.6-0.2h0m1.5 0.9h0m0.7-0.6h0m0.4 0h0m2.8 0h0m1.2-0.1h0m0.1 0.4h0m1.8 0.4h0m0.3-0.6h0m1.5 0.1h0m0.9 0.3h0m4.4-0.3h0m0.2-0.4h0m1.8 0.5h0m0.2 0h0m0.3 0.1h0m0.2-0.1h0m1.2-0.1h0m2.2-0.4h0m0.1 0.4h0m2.9 0.3h0m2.3-0.1h0m2.2-0.5h0m2.3 0.1h0m2.6 0.2h0m2.1 0.1h0m0.4 0.1h0m0.4-0.7h0m1.8 0.5h0m0 0h0m0.5-0.4h0m2.4 0.8h0m0.5-0.7h0m0.4 0.6h0m0.4-0.5h0m1.5 0.3h0m1.3 0.1h0m2-0.5h0m0.4 0.2h0m2.1 0.3h0m2-0.1h0m0.7 0.3h0m0.1-0.5h0m0.3-0.1h0m3.4 0.7h0m5.3-0.8h0m4.8 0.6h0m2.8-0.1h0m0.5 0.2h0m0.3-0.1h0m1.7-0.2h0m0.5-0.5h0m0.1 0.8h0m0.1 0h0m0.7-0.1h0m0.5-0.7h0m5.2 0.2h0m1-0.2h0m-129.4 1.1h0m0.2-0.1h0m3 0.9h0m1.1-0.6h0m1.4 0.6h0m2.3-1h0m1.7 0.2h0m0.8 0h0m1.9 0.5h0m1.2-0.3h0m0.2-0.1h0m0.2 0.3h0m1.5-0.4h0m3.2 0h0m0.7 0.5h0m2.1 0.3h0m2.9-0.8h0m6.4 0h0m9 0.7h0m3.1 0h0m2.5-0.8h0m3.4 0.4h0m3.2 0h0m2.7 0.1h0m1.8-0.4h0m0.6 0.8h0m1.5-0.1h0m4.7-0.2h0m1.2-0.1h0m4.3 0h0m1.5 0.3h0m0.1 0.1h0m0-0.5h0m0.9-0.2h0m1.3 0h0m0.8 0.7h0m1.5-0.8h0m0.3 0.1h0m1.2 0h0m1.4-0.1h0m2-0.1h0m1.9 0.3h0m0 0.1h0m0.2-0.3h0m2.3-0.1h0m1.5 0.7h0m1.1-0.3h0m3.7-0.2h0m0.5-0.3h0m0.3 0.4h0m2 0.3h0m2.4 0.2h0m0.3 0h0m3.5 0.1h0m1.2-0.6h0m0.3-0.2h0m0.6-0.1h0m1.3 0.2h0m0.4 0.4h0m1.3 0.2h0m0.3-0.7h0m0.1 0.8h0m1.7-0.3h0m1.4-0.4h0m2 0.5h0m1.7 0.1h0m1.8-0.2h0m1.5-0.2h0m0 0h0m2.1 0.3h0m1.6-0.5h0m3.7 0.2h0m2.8 0h0m0.4 0.4h0m0.8-0.2h0m1-0.2h0m4.1 0.4h0m-137.2 0.6h0m1.8-0.2h0m1.4 0.1h0m2.4 0.5h0m0.5-0.6h0m1.4 0.3h0m1.9-0.1h0m7.7-0.5h0m1.2 1h0m2-0.8h0m10.4 0h0m4.4 0.4h0m1.2 0.4h0m4.7-0.4h0m0.8-0.5h0m0.7-0.1h0m0.5 0.7h0m0.3-0.4h0m0.8 0.5h0m2.7 0.1h0m1.2-0.5h0m1.4-0.2h0m1.5 0.5h0m1-0.6h0m0.1 0.8h0m3.3-0.8h0m1.7 0.5h0m1.7-0.1h0m2.6-0.1h0m0.4-0.4h0m0.4 0h0m0.3 0.3h0m0.3 0.1h0m2.8-0.1h0m0.5 0.1h0m2.5-0.3h0m1.5 0h0m0.6 0.9h0m0.8-0.9h0m3.4 0.1h0m2.4 0.6h0m1.1 0.1h0m0.2-0.8h0m5.7 0.5h0m0.6 0.2h0m3.3-0.5h0m0.1 0.1h0m8.4-0.1h0m1.6-0.2h0m0.5 0.8h0m0.9-0.8h0m2.8 0.7h0m0.1-0.1h0m1.5-0.4h0m0.2-0.3h0m2.1 0.5h0m1.8 0.1h0m2.4-0.5h0m2.1 0.2h0m0.3 0.4h0m3.5-0.4h0m0.6 0.6h0m0.8-0.1h0m0.1 0h0m0.4-0.1h0m0.2-0.2h0m0.1 0h0m2.5 0.4h0m4.7 0h0m2.4-0.2h0m0-0.7h0m0.1 0.3h0m0.7 0.2h0m0.5 0.4h0m0.4-0.2h0m5.9-0.5h0m0.1 0.5h0m0.2 0.2h0m0.9-0.6h0m-136.3 1.1h0m6.9 0.1h0m5.5-0.2h0m0.3 0.3h0m2.8 0.3h0m1.8-0.8h0m5.2 0.6h0m1.3 0h0m4.6 0.3h0m3.9-0.4h0m0.9 0h0m0.5-0.4h0m0.1-0.1h0m3 0.2h0m1.8 0h0m0.5 0.7h0m1.3-0.5h0m1.2-0.2h0m1.1-0.2h0m1.5 0h0m1.3 0.2h0m2.4 0h0m1 0.4h0m0.4-0.4h0m0.4 0h0m1.5 0.6h0m0.2-0.4h0m1.3-0.4h0m0.3 0.9h0m8.2-0.2h0m3.4-0.3h0m0.1 0.1h0m0.9-0.1h0m7-0.2h0m0.5-0.3h0m0 0.3h0m2-0.1h0m1.9 0.2h0m1.3 0.5h0m1.5 0.1h0m0.6-0.8h0m0.5 0.3h0m1.3 0.5h0m0.2-0.8h0m1.7 0.7h0m1.9-0.7h0m2.5 0.3h0m0.5 0.3h0m2.4-0.4h0m0.7 0.5h0m0.5-0.9h0m0.3 0.9h0m1.5-0.1h0m0.4 0.1h0m0.4-0.5h0m0.6-0.1h0m3.1-0.3h0m0.9 0h0m0.5 0.5h0m2 0.3h0m3.1-0.3h0m1.6-0.5h0m3.1 0.1h0m0.1 0.5h0m0.2-0.3h0m0.8 0h0m0.5-0.1h0m7.6 0.1h0m0.8 0.4h0m0.7-0.2h0m6 0.3h0m1.3-0.3h0m0.9-0.3h0m0.8 0.1h0m1.4 0.4h0m3.9-0.1h0m-133.3 1.2h0m4.1 0.2h0m2.9-0.3h0m0-0.6h0m1.4 0h0m7.2 0.5h0m2.8 0.3h0m3.3-0.7h0m4.2-0.1h0m0.1 0.4h0m4.4 0.5h0m2.7-0.9h0m4.3 0.6h0m3.7 0.1h0m0-0.5h0m4 0.2h0m3.6-0.3h0m1.1 0.5h0m1.9-0.1h0m0.5-0.1h0m3.4 0h0m2.6 0.4h0m1-0.8h0m2.4 0.2h0m3.4 0.4h0m1.1-0.3h0m3.7-0.1h0m0-0.3h0m1.5 0.3h0m3.1-0.1h0m0.8 0.4h0m2.8 0h0m0.7 0.1h0m2-0.3h0m2 0.4h0m0.5-0.6h0m2.2 0.6h0m2.1-0.6h0m5.2 0h0m0.9 0h0m1-0.1h0m1.1 0.5h0m0.8 0h0m0.5 0h0m0 0.2h0m0.8 0.2h0m2 0h0m1.3-0.4h0m0.5-0.2h0m5.1 0.2h0m3.2 0h0m1 0h0m0.6 0.1h0m2.7 0h0m4.4-0.3h0m1.1 0.2h0m0.4-0.2h0m1.8 0.5h0m1.1-0.3h0m3.4 0.2h0m4.4 0h0m0.7-0.3h0m2.8 0.5h0m-134.7 0.3h0m3.9 0.1h0m1.1-0.2h0m1.8 0.1h0m0.4 0.7h0m3.7-0.1h0m3.8-0.6h0m0 0.1h0m0.3-0.2h0m1.2 0h0m2.4 0.1h0m7.2 0.5h0m1.3-0.4h0m1.7 0.2h0m0.7 0.4h0m1.6-0.2h0m0.2-0.3h0m1 0.2h0m0.9 0.2h0m3.6-0.4h0m0.5 0.3h0m5.6-0.5h0m1.6-0.2h0m0.6 0.7h0m0.4-0.7h0m1.3 0.8h0m2.1-0.8h0m0.3 0.4h0m1.2-0.2h0m4-0.1h0m3.2-0.2h0m1.3 0.5h0m5.2-0.2h0m2.8 0.7h0m0.2-0.5h0m0.2 0h0m0.2-0.1h0m1.2 0.1h0m0.4 0.1h0m1.4 0.4h0m1.4-0.6h0m4.8 0.1h0m0.6 0.1h0m2.5 0.3h0m0.3-0.2h0m1.1 0h0m3-0.7h0m1.2 0.2h0m0.2-0.1h0m1.9 0.4h0m0.2-0.3h0m1.4 0.7h0m3.3-0.3h0m0 0.3h0m2.7-0.4h0m6.2 0.1h0m1.3 0.4h0m0.2-0.5h0m0.2-0.1h0m0.4 0.3h0m0.1-0.5h0m1.2 0.6h0m0.5-0.6h0m1.5 0.3h0m0.4-0.3h0m0.2 0.4h0m1.9 0h0m0.4-0.2h0m4-0.4h0m0.4 1h0m2.3-0.2h0m1.6-0.2h0m0.4-0.3h0m0.5-0.3h0m1.9 0.5h0m1.5 0.1h0m0.5-0.4h0m2.7 0h0m0.1 0.7h0m1.7-0.6h0m1.6 0.6h0m2 0.1h0m3.7-0.6h0m-129.6 0.9h0m0.9 0.3h0m0.8 0h0m3.6-0.3h0m1.2 0.4h0m4.3-0.1h0m1.7-0.2h0m0.1 0.6h0m2.1-0.5h0m1.2 0.5h0m4.7-0.4h0m0.2-0.5h0m4 0.9h0m7.1-0.3h0m1.5-0.2h0m0.6 0h0m0.5 0.4h0m5-0.6h0m0.1 0.4h0m2.5-0.2h0m3.4 0.1h0m0.6-0.1h0m0.2 0.1h0m0.1 0.1h0m0.4-0.4h0m2.3-0.3h0m3.3 0.1h0m3.7-0.1h0m1.4 0.9h0m2.9-0.1h0m0.5 0h0m2.3-0.4h0m0.5 0.3h0m2.1-0.2h0m3.6 0.5h0m0.2-0.1h0m0.2-0.3h0m1.6-0.5h0m5.6 0.8h0m0.3 0.1h0m1-0.7h0m0.6-0.1h0m0.1 0h0m0.3-0.1h0m0.9 0.1h0m1.8-0.2h0m2.1 0.4h0m0.6 0.5h0m0.3-0.8h0m0.7 0.1h0m0.2 0h0m2.1 0.6h0m1.5-0.1h0m1.1-0.6h0m1.4 0.3h0m0.1 0.3h0m5.4-0.4h0m1.6-0.3h0m0.4 0.8h0m3-0.4h0m0.4-0.1h0m2.8 0h0m1.8 0.3h0m2.9-0.6h0m1 0.3h0m0.3-0.2h0m0.3 0.7h0m1.6 0.2h0m4.2-1h0m5.2 0.9h0m0.3 0h0m1.9-0.3h0m2.6 0.1h0m0.2-0.1h0m2.3-0.2h0m-135.4 1.4h0m0.3-0.6h0m12.8-0.1h0m4.6 0.7h0m1-0.5h0m1.4-0.2h0m7.6 0.3h0m1.4 0h0m3.3 0.2h0m0.5-0.2h0m0.3-0.2h0m1.6 0.3h0m1.6-0.1h0m0.2-0.3h0m3.3 0.6h0m0.4-0.1h0m1.8-0.3h0m0.1 0.3h0m0-0.2h0m0.4 0.6h0m0.5-1h0m2.5 0.8h0m4.3-0.2h0m8.3 0.1h0m4.1-0.4h0m0.6-0.2h0m0-0.1h0m2.3 0.5h0m0.6 0.2h0m3.6-0.7h0m2.7 0h0m0.3 0.6h0m1.3-0.5h0m0.7 0h0m0.1 0.2h0m3.4 0.4h0m0.9 0.3h0m0.4-0.2h0m1.3-0.5h0m0.7 0.6h0m0.1-0.5h0m1.3-0.1h0m3.8 0h0m1.3 0.5h0m0.1-0.8h0m2.7 0h0m1 0.4h0m1.6 0h0m0.4 0.3h0m0.9 0.2h0m2.3-0.6h0m0 0h0m3.1 0.4h0m0.1-0.1h0m0.9-0.3h0m2.3 0h0m2.5 0.2h0m0.3 0.3h0m0.7-0.7h0m1.1 0.8h0m1-0.2h0m2.9-0.4h0m0.5 0.2h0m0.6-0.4h0m0.1 0h0m1.1 0.3h0m2 0.1h0m0.4 0.2h0m3-0.2h0m0.9-0.2h0m0.1 0h0m0.5 0.6h0m0.6-0.2h0m4.7 0h0m3.1-0.4h0m3.5-0.3h0m-129.1 1.5h0m0.9 0.4h0m1.9-0.3h0m0.1-0.1h0m3.4-0.3h0m4.4 0.3h0m2 0.4h0m1.8-0.9h0m2.2 0.3h0m0.3 0.4h0m5.5-0.5h0m0.3 0.1h0m2 0.3h0m2.8 0.2h0m1.5 0h0m1.7-0.1h0m0.1 0.1h0m2.7 0h0m0.1-0.2h0m0.1-0.1h0m1.1 0.1h0m0.1-0.4h0m2.2 0.2h0m0.8 0h0m0.5-0.1h0m2.7 0.1h0m1.4-0.1h0m1.5 0.6h0m1.4-0.7h0m1.7 0.4h0m0.5 0.3h0m1.2-0.6h0m0.9-0.3h0m1.1 0.3h0m3.8 0.5h0m1.3-0.8h0m1.4 0.2h0m0.6 0.7h0m0.5-0.9h0m0.7 0.4h0m0-0.4h0m0.5 1h0m0.5-0.4h0m0.7 0.1h0m3.5 0.2h0m4.2-0.5h0m1 0.5h0m0.9-0.7h0m1 0.1h0m2 0h0m0.1-0.1h0m1.2 0.4h0m1 0.3h0m5-0.8h0m2.9 0h0m0.2-0.1h0m1.5 0.5h0m1.7 0h0m1.7-0.1h0m1.7 0.4h0m1.7-0.6h0m1.3 0h0m0.5 0.5h0m0.4-0.4h0m0.8-0.3h0m0.7 0.3h0m2.4-0.3h0m2.8 0.6h0m5.6-0.3h0m1 0.5h0m0.5 0h0m0.5-0.7h0m1.1 0.3h0m0.1 0.5h0m0.8-0.1h0m3.7-0.3h0m1.7 0h0m0-0.4h0m3.1 0.7h0m0.8-0.2h0m0.6 0h0m2 0.4h0m3.2-0.2h0m3.7-0.4h0m-129.6 0.6h0m0 0.2h0m0.4 0h0m5.1 0.5h0m3.6 0.2h0m0.8-0.4h0m1-0.1h0m2.3-0.1h0m3.6 0.1h0m0.5-0.2h0m0.3 0.6h0m0.7-0.3h0m0.6 0.2h0m1.2-0.2h0m4.3-0.4h0m0 0.4h0m1.1-0.3h0m2.8 0.7h0m0.6-0.6h0m0 0.6h0m0.5-0.5h0m2.4 0.3h0m1.1 0.2h0m2.7-0.6h0m0.5 0h0m0.4 0.1h0m0.4-0.3h0m1.2 0.8h0m0.4-0.9h0m2.3 0.1h0m1.9 0.9h0m0.8-0.8h0m2 0h0m0.1 0.7h0m0.8-0.6h0m0.1-0.3h0m4.8 0.5h0m3.4-0.4h0m0.3 0h0m1.3 0.5h0m0.1 0.3h0m1-0.2h0m1 0.2h0m6.9-0.4h0m2-0.1h0m3.5 0h0m3.4 0.1h0m1.6 0.4h0m0.5-0.4h0m1.2-0.1h0m1 0.5h0m0.2-0.6h0m0.5 0.2h0m0.5 0.1h0m0.4-0.3h0m1.5 0.1h0m0.2 0.1h0m1.9 0.2h0m1.1-0.3h0m4.5-0.3h0m2.4 0.2h0m2.6-0.1h0m2.4 0.7h0m0.8-0.3h0m0.5-0.6h0m1 0.3h0m2.4 0.5h0m0.2-0.8h0m2.2 0.9h0m0.9-0.8h0m0.5 0.3h0m0 0.3h0m1.5 0.1h0m0.3-0.4h0m0.1 0h0m2.8-0.1h0m0.8-0.1h0m0.9 0.4h0m0.7 0.3h0m2.3-0.8h0m0.6 0h0m0.9 0.8h0m1.5-0.5h0m3.8 0.3h0m0.1 0.3h0m4.8-0.4h0m1.4-0.1h0m1.8 0.4h0m1.5-0.4h0m1.1-0.5h0m-135.2 1h0m4 1h0m0.5-0.8h0m1.1 0.2h0m2.9 0.1h0m3-0.2h0m2.1 0.6h0m0.2-0.4h0m2.5-0.3h0m4.1 0.4h0m1.5-0.4h0m0.4 0.2h0m7.6 0.3h0m1.6-0.1h0m0.4 0.2h0m1.3-0.3h0m0.7 0.3h0m0.2-0.1h0m1.4 0.1h0m6-0.4h0m0.1-0.1h0m0.5 0.4h0m6.4-0.6h0m3 0.3h0m0.7 0.2h0m7.9 0.4h0m0.1-0.6h0m2.3 0.5h0m0-0.3h0m0.2 0.1h0m1.8-0.4h0m3.8 0.3h0m0.1-0.1h0m0.1-0.2h0m4.8 0.1h0m0.1-0.2h0m0.9-0.1h0m0.9 0.6h0m1.4-0.2h0m1.7-0.4h0m0.1 0.9h0m0.5-0.5h0m2.6-0.3h0m0.3 0.4h0m0.7 0h0m1.5-0.5h0m0.5 0.5h0m2.6-0.3h0m0.4 0.7h0m0.7-0.3h0m1.8 0.2h0m1.1-0.8h0m0.5 0.6h0m1.3-0.3h0m0.5 0.1h0m0.9 0.4h0m0.9-0.8h0m1 0.1h0m1.8 0h0m2.5 0.7h0m1.8-0.7h0m0.4 0.4h0m2-0.2h0m1.9 0.4h0m0.5-0.2h0m0.3-0.2h0m1.3-0.4h0m0.6 0.2h0m0.3 0.6h0m1.6 0.1h0m1.9 0h0m2.4-0.5h0m0.7-0.1h0m0 0.1h0m4.1 0.6h0m0.2-0.7h0m1.1 0.5h0m0.2-0.2h0m4.8 0h0m0.1-0.4h0m0.2-0.1h0m2.2 0.7h0m2.6 0.2h0m0.5-0.7h0m1.2-0.3h0m-127.2 1.5h0m1.3-0.2h0m0.8 0.7h0m0.3-0.7h0m0.2 0.5h0m2.4-0.3h0m2-0.3h0m3.2 0.1h0m1.5 0.2h0m4.1-0.2h0m0.7 0.7h0m1.4-0.2h0m1 0.1h0m0.9-0.7h0m0.6 0.5h0m0.9 0.3h0m3.1 0h0m1.3-0.9h0m3.2 0.8h0m0.3-0.6h0m0.9-0.1h0m0.7-0.1h0m0.7 0.6h0m4.2-0.7h0m0.6 0.5h0m0.8-0.3h0m0.5 0.2h0m0.4-0.2h0m2.8 0h0m3.7-0.2h0m0.7 0.6h0m1.1 0h0m2.7-0.3h0m1 0.7h0m2 0h0m1.1-0.7h0m8 0.2h0m2.4-0.4h0m1.7 0.7h0m1.7-0.1h0m1.7-0.4h0m0.4-0.3h0m0.1 1h0m0-0.9h0m1.1 0h0m0.1 0.1h0m0.3 0.7h0m2.7-0.2h0m0-0.4h0m1.6 0.4h0m1.1-0.2h0m0.9 0h0m1.7 0.4h0m0.3-0.7h0m1.3 0h0m0.4 0.8h0m0.6-0.6h0m2.5 0.1h0m0.8-0.5h0m0.2 0.1h0m0.8 0h0m0.3 0.2h0m2.3 0h0m0.9-0.3h0m0.6 0.8h0m1.3-0.2h0m2.4-0.5h0m3.9 0.6h0m2-0.2h0m0.4 0.1h0m0.6-0.6h0m1.7 0.1h0m0.2 0h0m0.2 0.3h0m0.4 0.4h0m0.3-0.3h0m2.4-0.4h0m0.7 0.9h0m0.8 0h0m0.4-0.3h0m4.1-0.4h0m0.4 0.2h0m0.2 0h0m0.1 0.4h0m0.8-0.1h0m2.7-0.2h0m2.7-0.1h0m2.5 0.3h0m0.9-0.4h0m1 0.1h0m3.2 0h0m0.1 0.4h0m-125 0.6h0m3.1 0.1h0m2.8-0.2h0m0.3 0.4h0m3.2-0.6h0m2.3 0.4h0m0.1-0.4h0m1.8-0.2h0m1.6 0.2h0m0.1 0h0m2.2 0.3h0m0.9 0.5h0m0.8-0.4h0m0.3 0.3h0m0.8-0.7h0m0.7 0.6h0m1.8 0.2h0m1.5-0.8h0m9.7 0.3h0m6.9 0.2h0m0 0h0m3.6-0.7h0m1 0.9h0m3.9-0.2h0m4.1 0h0m2.2 0.1h0m0.8 0.1h0m2 0h0m0.9-0.2h0m1.4 0.2h0m0.5-0.6h0m6.4 0h0m3.3 0.7h0m2.6-0.9h0m0.1 0.1h0m2 0.1h0m9.5 0.2h0m3.8 0.4h0m2.1-0.8h0m1 0.2h0m0 0.2h0m0.5-0.5h0m0.6 0.9h0m0-0.5h0m1.9 0.3h0m2.6 0.2h0m0.1-0.5h0m1.9 0.2h0m0.9-0.6h0m2.2 0.1h0m1 0.9h0m0.2-0.1h0m0-0.2h0m0.6-0.6h0m3.1 0.2h0m1.6 0.6h0m0.4-0.3h0m2.8-0.4h0m0.8 0h0m1.6 0.6h0m0.4 0.1h0m3.6-0.2h0m2.6-0.4h0m3.2 0.5h0m-131.4 0.9h0m0.4-0.6h0m0.4 0.2h0m4.6 0.2h0m6.7-0.1h0m0.8 0.3h0m4.1-0.3h0m1.2 0.2h0m1.5-0.4h0m3.1 0.7h0m12.1 0h0m0.4-0.4h0m5.9 0.2h0m2.6-0.1h0m0.7-0.4h0m1.6 0h0m0.8 0.8h0m1.6-0.7h0m0.1-0.1h0m1.2-0.1h0m0.4 0.5h0m2.9 0.1h0m0.5 0h0m0.4-0.7h0m0.6 0.6h0m1.9 0.3h0m2.4-0.2h0m4.2 0.3h0m2.8-0.8h0m2 0.1h0m1.7-0.1h0m1.6 0h0m0.1 0.3h0m1.1-0.1h0m2.2-0.3h0m2.7 0.6h0m1.8 0.2h0m4.6-0.2h0m8.7-0.1h0m2.2-0.1h0m2.2 0.3h0m3.5-0.4h0m0.8 0.2h0m0 0.4h0m3.9-0.6h0m1.9-0.1h0m0.2 0.3h0m0 0.1h0m0.5-0.4h0m0.7 0.3h0m0-0.2h0m2.5 0.5h0m0.2 0h0m1.1-0.3h0m2.6-0.1h0m2.9-0.4h0m3.4 0.6h0m0.6-0.5h0m1.8 0h0m0.1 0.5h0m0 0h0m0.5 0h0m0.3-0.2h0m1-0.3h0m0.8 0.1h0m0.5 0.3h0m2.5 0.2h0m1.6-0.3h0m1.2-0.5h0m-128.1 1.2h0m4.9 0.7h0m0.2 0h0m5.3-0.5h0m1.8 0h0m1.3 0.1h0m0.6 0h0m2.3-0.2h0m1.5-0.2h0m0.6 0.1h0m0.2 0.8h0m0.1-1h0m2.2 0.2h0m1 0.3h0m0.7-0.2h0m0.1 0.3h0m6 0.3h0m0.5-0.3h0m1.2-0.4h0m7.9 0.7h0m0.6-0.5h0m2.1-0.3h0m0.1 0.5h0m0.9-0.5h0m3.6 0.1h0m2.4 0.7h0m1.3-0.2h0m0.1 0.3h0m1.6-0.7h0m0.3 0.1h0m1.6-0.3h0m9.5 0.6h0m0.4-0.3h0m0.1 0.2h0m2.2 0.3h0m4.2-0.8h0m5 0.2h0m2.2 0.2h0m1.1 0.3h0m2.1-0.6h0m1.9 0.4h0m0.7-0.3h0m2.6 0h0m2.4 0h0m2 0.3h0m0.7-0.2h0m1.3-0.3h0m0.1 0.6h0m0.6-0.6h0m0.6 0.2h0m0.4 0.3h0m2.7-0.5h0m0.3 0.1h0m3.3 0.4h0m1.2-0.4h0m0.2 0.1h0m2.4-0.1h0m2.1-0.1h0m1 0.2h0m0.7 0.4h0m1.4 0h0m0.4-0.5h0m1.2 0.1h0m1.4-0.1h0m0.9-0.1h0m1.2 0.1h0m0.3 0.4h0m3.1 0.4h0m0.8-0.1h0m0-0.4h0m0.8-0.1h0m0.1 0.6h0m1.3-0.8h0m1.1 0.7h0m5.4-0.3h0m-125.2 1h0m2-0.2h0m5.6-0.4h0m3.6 0.3h0m0-0.1h0m5.3 0.2h0m0.5 0.5h0m0.7-0.6h0m0.1-0.2h0m0.4 0.5h0m1.1-0.4h0m1.4 0.8h0m1.7-0.4h0m2.3 0.2h0m0.5-0.2h0m6.5-0.4h0m0.7-0.1h0m0.2-0.1h0m3.8 0.2h0m1.2 0h0m0.4 0.4h0m0.9 0.2h0m0.5-0.1h0m0.4 0.1h0m0.6-0.6h0m1.5 0.5h0m1.1 0.1h0m0.2 0h0m1.4-0.8h0m1 0.9h0m1-0.3h0m0.4 0.3h0m1.4-0.8h0m2.1 0.6h0m0.3 0h0m0.6 0.1h0m2.1 0.1h0m1.2-0.3h0m1 0.1h0m4.5-0.3h0m0.4 0.3h0m1.9-0.1h0m2.2-0.5h0m1.1 0.9h0m1.9-0.4h0m0.7-0.3h0m0.6 0.4h0m8.9-0.5h0m0.1 0h0m3.8 0.6h0m0.3-0.5h0m0.1-0.2h0m0.6 0.6h0m1.8 0h0m0.6-0.1h0m1.9-0.5h0m1.3 0.8h0m1.7-0.5h0m0.9-0.1h0m0.6 0.3h0m3.4-0.1h0m0 0.4h0m0.5-0.6h0m6.7 0.6h0m1.3-0.7h0m2.9 0.4h0m1.4-0.2h0m3.5 0.2h0m2.3-0.2h0m1.4 0.1h0m1.1 0.2h0m3.1 0h0m1.5-0.4h0m0.4 0.7h0m0.4-0.1h0m2.8-0.9h0m-123.2 1.6h0m1.9 0.2h0m5.9 0.1h0m3.7-0.3h0m3.6-0.2h0m2.2 0.3h0m0.5 0.1h0m0.3 0.2h0m0.8-0.5h0m7.1 0.3h0m0.8 0h0m1.6-0.6h0m1.2 0.2h0m0.6-0.3h0m7.2 0.1h0m0.2-0.1h0m0.8 0.5h0m0-0.1h0m0.6-0.3h0m0.3 0.7h0m0.1-0.3h0m1.2 0.2h0m2.8 0h0m7.2 0.2h0m0.9-0.7h0m2.5 0.1h0m2.4 0.4h0m0-0.5h0m2.9 0.6h0m1.2-0.8h0m1.5 0.7h0m3.2-0.4h0m0.7 0.4h0m0.2 0.1h0m1.2 0h0m0.6 0h0m3.7-0.5h0m0.8 0h0m1.2-0.3h0m1 0.2h0m2.3-0.1h0m0.8 0.1h0m2.2-0.2h0m0.3 0.5h0m5.6-0.1h0m1 0.3h0m0.7-0.5h0m0 0.5h0m0.2-0.6h0m0.9 0.5h0m0.7 0.2h0m0.1 0h0m2.3 0h0m3.7-0.9h0m1.6 0h0m1.2 0.9h0m1.8-0.8h0m1.6 0.6h0m0.7-0.3h0m0.5 0.5h0m0.3-0.6h0m0.4-0.1h0m0.7 0.4h0m0.2-0.2h0m1.1 0.6h0m4.2-0.4h0m2.8 0.3h0m0.2-0.8h0m1.3 0.7h0m1.2-0.2h0m3.3-0.2h0m1.4 0h0m0.2 0.3h0m2.1-0.2h0m1.1 0.5h0m0.3-0.2h0m-126.7 1h0m1 0.1h0m3.1-0.4h0m4.1-0.2h0m1.5-0.1h0m0.2-0.1h0m1.3 0h0m2.3 0.3h0m2.5-0.3h0m0.6-0.1h0m1.4 0.1h0m4.6 0.6h0m2.2-0.2h0m0.3 0.4h0m1.1-0.1h0m0.1-0.3h0m2.6 0.3h0m0.5-0.8h0m0.4 0.4h0m1.1 0.2h0m2.7-0.5h0m2.1 0.4h0m1.9 0.1h0m1 0.1h0m5-0.5h0m1.2 0h0m0.2 0.2h0m1-0.1h0m1.2 0.5h0m1.1 0h0m2.9-0.8h0m2.4 1h0m4.1-0.1h0m0.4-0.7h0m0 0.6h0m0.8-0.3h0m0.2 0.1h0m0.2 0.1h0m0 0.2h0m11.1 0h0m3.9-0.2h0m0-0.4h0m1.9 0h0m0.2 0.1h0m0.2 0h0m0.6-0.1h0m2.3 0.4h0m0.4-0.1h0m1.7-0.5h0m0.4 0.8h0m0.1-0.5h0m3.3 0.4h0m1-0.3h0m1.8 0.2h0m1.7 0h0m0.9-0.6h0m0.5-0.1h0m0 0.1h0m0 0.1h0m2.2 0.2h0m3.3 0.4h0m0.3-0.6h0m1 0.6h0m5.8-0.2h0m3.5-0.4h0m0.4 0.6h0m0.2-0.5h0m0.7-0.2h0m0.2 0.2h0m1.3 0.6h0m2.7 0h0m2.5-0.6h0m1.2-0.2h0m0.7 0.5h0m0.3-0.1h0m1.6-0.1h0m0.9 0.2h0m1.6-0.2h0m0.9 0.1h0m1.2 0.1h0m2.2-0.1h0m-128.8 1.4h0m9.9-0.3h0m0.5-0.5h0m2 0.7h0m0.1-0.2h0m2-0.1h0m1.1 0.4h0m1.5-0.4h0m2.3 0.4h0m2.6-0.9h0m0.4 0.2h0m3 0.1h0m0.3 0.4h0m0.2-0.2h0m0.1 0.1h0m3.1 0.1h0m3.6-0.1h0m0 0.2h0m2.5 0.1h0m0.9-0.2h0m5.7 0h0m0.8 0.1h0m1.3-0.2h0m0.2 0h0m3.5-0.4h0m2.1 0.5h0m0.4-0.5h0m5.3 0.5h0m3.2 0.1h0m0.8 0.2h0m0.5-0.4h0m4.1 0.1h0m1.4-0.4h0m1.2 0.5h0m4.8-0.5h0m2.4 0.3h0m6.4-0.3h0m1.9 0.7h0m0.4-0.1h0m0.6-0.4h0m0.5-0.1h0m0.9-0.1h0m0.3 0h0m1.4-0.1h0m0.3-0.1h0m0.3 0.5h0m3.3-0.3h0m0.2-0.2h0m0.3 0.6h0m3.1-0.6h0m5.7 0.2h0m0.3 0.7h0m0.8-0.3h0m2.7 0h0m3.1 0.1h0m1.5-0.7h0m1.8 0.4h0m0.7-0.5h0m0.8 1h0m0.5-1h0m0.1 0.6h0m0.6-0.4h0m0 0.1h0m0.2 0.4h0m1.2-0.3h0m4.6 0.3h0m2.6-0.3h0m0.6 0.4h0m1.5-0.1h0m0.3-0.4h0m0.4 0.7h0m1.6-0.1h0m2.5-0.7h0m0 0.4h0m-125.4 1h0m5.4 0h0m5.5 0.3h0m4.2-0.8h0m2-0.1h0m1.6 0.6h0m0.6 0.2h0m2.4-0.2h0m2.1-0.1h0m0.2 0.1h0m0.6-0.3h0m0.3 0.6h0m0.4-0.5h0m2.1 0.3h0m1.4 0.1h0m4.2-0.7h0m0.7 0.7h0m0-0.6h0m0.4 0.5h0m3.1-0.1h0m1.3 0h0m0.5 0.1h0m3.6-0.4h0m0.6 0.2h0m2.6-0.5h0m4 0.3h0m1.6 0.6h0m0.4-0.4h0m4.2 0.4h0m1.2-0.8h0m3.4 0.7h0m1.9-0.1h0m1.3-0.2h0m1 0.5h0m6.2-0.1h0m0 0.1h0m7.8-0.3h0m0.4 0h0m5.4-0.1h0m2.4 0.1h0m0.3-0.3h0m1.1 0.4h0m1.4 0.1h0m1.7-0.6h0m3.3 0h0m2-0.2h0m0.4 0.1h0m0.3 0.7h0m0.7-0.3h0m0.1-0.4h0m0.1 0h0m1.6 0.8h0m1.2-0.4h0m1.1-0.1h0m1.9-0.5h0m1.6 0h0m0.4 0.2h0m2.4 0.4h0m5.6 0.1h0m1.5-0.3h0m1.7 0.2h0m0.1-0.1h0m1.3 0.3h0m2.7 0.1h0m1.4 0h0m0.1-0.4h0m1.1-0.3h0m-127.1 1.1h0m0.3-0.1h0m0.5-0.2h0m2.7 0.7h0m4.1-0.6h0m7.9 0.5h0m0.2-0.4h0m2.5 0.7h0m0.9-0.7h0m2.3-0.1h0m0.9 0h0m1.6 0.7h0m0.5 0.2h0m0.9-0.1h0m0.1-0.8h0m1.1 0.3h0m1.2 0.3h0m1.5-0.2h0m0.8 0h0m8.2 0.4h0m4.8-0.3h0m2.4-0.2h0m1.5 0.1h0m0.3 0.4h0m1.5-0.7h0m1.2 0.2h0m1.9 0h0m0.4 0h0m1.8 0h0m0.1 0.1h0m0.6-0.4h0m0.9 0.1h0m1.4-0.1h0m2.1-0.1h0m1.3 1h0m4.8-0.5h0m2.1 0.4h0m4.8-0.3h0m1-0.2h0m3.7-0.3h0m0.5 0.3h0m4.7-0.3h0m0.3 0.1h0m0.8 0.3h0m1 0.2h0m0.3 0.3h0m0.2-0.4h0m1.9 0.2h0m0.2-0.3h0m2.2-0.3h0m1.7 0.1h0m2.7 0.2h0m1.4-0.4h0m0.2 0.2h0m0.2-0.2h0m0.1 0.7h0m1.9-0.5h0m2.4 0.3h0m4.7 0.1h0m2.9 0h0m0.3-0.2h0m3.3 0.1h0m0.5-0.2h0m0.9 0h0m1.6-0.1h0m2.2 0h0m1.4 0.4h0m0-0.7h0m2.7 0.3h0m0.2-0.1h0m0.4 0.3h0m0.7-0.2h0m0 0.6h0m2.9-0.3h0m1-0.4h0m1.7 0h0m0.1-0.2h0m-122.2 1.7h0m3.3-0.4h0m3 0.6h0m1 0.1h0m0.7-0.9h0m0.2 0h0m1.1 0.4h0m6.4 0.5h0m1.7-0.5h0m2.9 0.1h0m6.1 0.2h0m0.8-0.8h0m1.4 0.4h0m2 0.3h0m3.4-0.5h0m0.8 0.6h0m1.5-0.4h0m3.4 0.4h0m3.4 0h0m0.6-0.5h0m0.6 0.5h0m2.5-0.2h0m1.5-0.3h0m7.3-0.1h0m3.3 0.7h0m7.5-0.1h0m2.8 0.1h0m0.9-0.4h0m0.2-0.1h0m0.4-0.4h0m1.2 0h0m0.7 0.7h0m4.2 0.2h0m1-0.7h0m1.1 0.4h0m0 0.2h0m0.2-0.5h0m4.9 0.1h0m0.7-0.2h0m0.2 0.3h0m2.3-0.4h0m2.6 0.8h0m0.3-0.6h0m1.3 0.4h0m1.4 0.3h0m0.5-0.7h0m2 0h0m1.3-0.1h0m0.7 0.1h0m0.8 0.4h0m0.2-0.1h0m1 0h0m2.7 0h0m0.5 0.2h0m0.3-0.8h0m1.1 0.8h0m0.4-0.6h0m0.3 0.7h0m1.8-0.7h0m0.6 0h0m1.3 0.1h0m0.7-0.3h0m5.4 0.8h0m0.7 0.1h0m1.1-0.3h0m0.2 0.2h0m1.5 0h0m1.6-0.2h0m1.3-0.1h0m0.8-0.2h0m1.1 0.1h0m1.3-0.1h0m-116.3 0.8h0m1.5 0.2h0m0 0h0m1.7 0.5h0m0.5-0.7h0m1.5 0.2h0m5.6 0h0m1.1 0.5h0m0.9 0.1h0m5.3-0.8h0m1.6 0.9h0m0.6-0.9h0m2-0.1h0m0.6 0.6h0m3.2-0.5h0m0.5 0.3h0m1 0.1h0m0.1 0.4h0m0.2-0.3h0m7 0.1h0m2.3-0.2h0m0.6 0.2h0m1.8 0.1h0m5.4 0.2h0m3.2-0.8h0m0.8 0.4h0m4.9-0.3h0m0.1 0.7h0m0.6-0.8h0m1.9 0.1h0m2.3 0.5h0m0.2-0.1h0m0.4-0.3h0m2-0.2h0m2.4 0.6h0m0.8-0.4h0m0.7 0.5h0m0.5-0.3h0m0.4 0h0m3.1-0.2h0m3.6 0h0m1.7 0.6h0m0.3-0.1h0m2.9-0.8h0m0.2 0.5h0m0.6 0.2h0m0.6-0.4h0m0.3 0.4h0m0.2 0.2h0m0.5-0.5h0m0.1 0.2h0m0.8-0.2h0m0.6 0h0m2.2-0.5h0m0.1 0.2h0m0-0.2h0m0.6 0.4h0m0.9-0.1h0m0.2 0.6h0m0.8-0.6h0m1 0.2h0m0.8-0.4h0m1.2 0.2h0m0.9-0.2h0m4.2 0h0m0.6-0.1h0m3.7 1h0m0.4-0.7h0m3.4 0.5h0m2-0.1h0m0.5 0.3h0m1.2-0.9h0m1.1-0.1h0m0.8 0.7h0m2.1-0.2h0m0.2 0.1h0m0.7-0.4h0m0.3 0.6h0m-116.5 0.4h0m0.7 0.2h0m0.7 0.4h0m0.1-0.1h0m2.8 0.3h0m2.6-0.9h0m4.4 0.7h0m0.3 0.2h0m1.3-0.3h0m0.8-0.7h0m2 0.3h0m4.1 0.4h0m6.6-0.6h0m0.5 0.3h0m2.4 0.2h0m0-0.6h0m4.9 0.3h0m8.4 0.1h0m2.8 0.4h0m0.3-0.4h0m8.6 0h0m0.3 0.3h0m0.3-0.3h0m1 0.5h0m0.5-0.2h0m0.4-0.1h0m3.1-0.3h0m0.2-0.2h0m4.6 0.8h0m2.9-0.7h0m2.1 0.7h0m0.7-0.4h0m0.7 0h0m0.3 0.4h0m0.3-0.8h0m1.6 0.3h0m0.1 0.4h0m0.6-0.3h0m3.4 0.2h0m3.8-0.1h0m1 0.1h0m4.3-0.3h0m4.8-0.3h0m2.3 0.8h0m4.8-0.8h0m1.1 0.9h0m0-0.1h0m1.3-0.4h0m0.3-0.3h0m0.1 0.1h0m1.1 0.4h0m2.4-0.6h0m1.5 0.3h0m3.8 0.1h0m0.1 0.2h0m0.5-0.2h0m1-0.2h0m0.4-0.2h0m0.6 0.8h0m0.2 0h0m6.4-0.6h0m0.8-0.3h0m-123.7 1.5h0m1.6-0.1h0m1.6 0.2h0m1.6-0.5h0m6 0h0m4.5 0.2h0m2.6 0.3h0m0.2-0.6h0m0.1 1h0m3.7-0.2h0m0-0.1h0m2.1 0.2h0m0-0.6h0m0.9-0.2h0m0.2 0.7h0m1.3-0.2h0m0.8-0.1h0m1.1-0.1h0m2.6 0.4h0m1.7-0.5h0m3.3 0.3h0m1.3 0.1h0m2.8-0.1h0m0 0.1h0m4.4-0.1h0m0.8-0.6h0m4.4 0.1h0m1 0.6h0m0.5-0.7h0m2.5 0.8h0m3.3-0.5h0m0.3 0h0m1.7-0.1h0m2.2 0.3h0m2.5 0.4h0m6.3-0.5h0m0.3 0.1h0m1.9 0.5h0m3.2-0.5h0m0.8 0.5h0m2.1-0.9h0m1.5 0.2h0m0.9 0.2h0m0.7 0.5h0m0.1-0.6h0m0.2 0.5h0m0 0.1h0m2.5-0.9h0m0.8 0.6h0m0.9-0.6h0m0.2 0.5h0m0.4-0.5h0m1.3 0.3h0m0.6 0.5h0m0.1-0.7h0m0.4 0.1h0m0.4 0.3h0m1.1-0.4h0m0.1 0.5h0m0.6 0.2h0m2.4-0.8h0m0.3 0.5h0m5 0.4h0m2.8-0.6h0m3.3 0.1h0m0.6-0.4h0m0 0.5h0m0.6 0.3h0m2.6-0.4h0m1.5 0.2h0m5-0.1h0m0.3-0.6h0m0.2 0.2h0m1.3 0.4h0m1.2-0.1h0m1.1 0.3h0m1.6-0.7h0m0.9 0.3h0m0.2-0.1h0m0.3-0.2h0m-122.2 0.9h0m2.6 0h0m3.4 0.7h0m1.2-0.2h0m0.9 0.4h0m0.4-0.6h0m5.4 0.6h0m6.7-0.5h0m0.4 0.4h0m0-0.7h0m2.5 0.1h0m1.3 0.6h0m4.5-0.5h0m5.8 0.6h0m3.5-0.2h0m3 0h0m0-0.7h0m0.1 0.6h0m1.9 0.2h0m5.2-0.2h0m0.1 0h0m0.1-0.6h0m4.3 1h0m1-0.6h0m0.6 0.4h0m0 0h0m3.3-0.4h0m1.2 0.4h0m1.8-0.2h0m3.2-0.6h0m5.6 0.8h0m2.8-0.1h0m3.2-0.1h0m1-0.5h0m1.3 0.7h0m1-0.6h0m1.6 0.7h0m0.5-0.3h0m0.6-0.5h0m3 0h0m0.1 0.5h0m0.3 0.1h0m1.3 0.3h0m0-0.1h0m1.3-0.6h0m0.4 0.1h0m1-0.1h0m0 0.4h0m0.1-0.1h0m0.8-0.5h0m3.1 0.8h0m0.1 0h0m0.2-0.6h0m2.1-0.1h0m3.9 0.2h0m0 0.1h0m0.3 0.2h0m3.2-0.6h0m2.3 0.9h0m0.3-0.1h0m0.3-0.1h0m1.7-0.1h0m0.7-0.4h0m2.5 0.4h0m0.4-0.7h0m0.3 0.3h0m1.7 0h0m0.3 0.2h0m0.6 0.2h0m1.2 0h0m0.4-0.5h0m0.2 0.3h0m2.1 0.1h0m2.1 0.2h0m0.5-0.1h0m-109.9 0.9h0m0.4 0.3h0m3.3-0.6h0m0.2-0.1h0m1.2 0.4h0m0.6-0.4h0m1.7 0.1h0m6.2 0.1h0m1.3 0h0m0.5 0.5h0m1.3 0h0m1.3-0.2h0m2.5-0.3h0m0.3 0.1h0m2.3 0.2h0m0.4-0.6h0m2.3 0.8h0m0.7 0h0m3-0.1h0m0.1-0.8h0m6 0.6h0m3.1 0.2h0m1.7-0.3h0m5.8 0.4h0m2.8 0.1h0m2.6-0.7h0m0.7 0.1h0m3-0.2h0m3 0.4h0m2.2-0.3h0m0.2 0.3h0m0.2-0.1h0m1.7-0.4h0m2 0.1h0m0.4 0h0m1 0.8h0m0.9-0.7h0m1.7 0.1h0m3.8-0.2h0m2.8 0.5h0m0.3-0.5h0m2.1-0.1h0m0.9 0.2h0m1.6 0.1h0m0.6-0.1h0m1.4 0.1h0m0.1 0.3h0m0-0.5h0m0.8-0.1h0m3.4 0.1h0m1 0.5h0m5.1 0.2h0m0.1-0.7h0m0.2-0.1h0m4.7 0.1h0m1.5 0.3h0m1.2 0.1h0m2.4 0.2h0m1.7-0.5h0m0.4 0.1h0m0.1-0.2h0m3.8 0.2h0m0.7 0.1h0m0.4 0.3h0m-111.6 1h0m1.6-0.7h0m6.4 0.3h0m0.1-0.3h0m3.8 0.2h0m1.3 0.3h0m2.9-0.1h0m1.3 0.2h0m0.1-0.5h0m0.1 0.6h0m0.5 0h0m0.1-0.7h0m4.1 0.9h0m2.5-0.9h0m1.8 0.8h0m4.3-0.7h0m0.7-0.1h0m5 0.6h0m2.2 0.2h0m0.7-0.1h0m1.7 0.2h0m7.1-0.8h0m2.4 0.6h0m0.7-0.2h0m0.2-0.4h0m6.4 0.3h0m0.9-0.5h0m0.8 0.3h0m0.6 0.2h0m3.5-0.1h0m0.3 0.4h0m2.4-0.1h0m1-0.2h0m1.6 0.4h0m1.5-0.6h0m0.2 0.1h0m0.1-0.3h0m0.3 0h0m1.8 0.5h0m0.8-0.3h0m0.8 0.3h0m0.1 0.1h0m1.2 0.2h0m1.8-0.3h0m0.1-0.2h0m1.8-0.2h0m5.9 0.7h0m4.9-0.6h0m2.1-0.2h0m0.1 0.6h0m0.1-0.5h0m1.5 0.3h0m2.4-0.4h0m4.4 0.8h0m4.8-0.7h0m2.4 0.5h0m3.4-0.6h0m0.5 0.6h0m-110.4 0.4h0m0.1 0.2h0m0.3 0.2h0m3.2-0.4h0m3.6 0.7h0m3.1-0.6h0m0.3 0.7h0m3.2-0.7h0m0 0.6h0m1-0.2h0m0.9 0h0m0.9 0.2h0m5-0.2h0m3.1 0.2h0m1.6-0.5h0m0.3 0.2h0m4.3 0.4h0m0.6-0.6h0m7.7 0.6h0m0.6-0.6h0m1.2 0.5h0m5.6-0.1h0m1-0.7h0m0.8 0.9h0m1.4-0.6h0m4.9-0.3h0m2.5 0.5h0m5.7-0.1h0m1.2 0.5h0m3.7 0h0m0.1-0.2h0m0.8-0.6h0m2.2 0.4h0m2.4 0.2h0m0.5-0.3h0m9.1-0.3h0m3.6 0.8h0m0.6-0.5h0m3.5-0.1h0m0.2-0.3h0m0.8 0.3h0m0.4 0.1h0m0.2-0.1h0m0.6 0.5h0m1.3-0.2h0m0.7-0.4h0m0.5 0.8h0m2.1-0.3h0m0.6-0.4h0m4.7-0.2h0m0.7 0.4h0m0.4-0.4h0m0.8 0.5h0m-100.3 1h0m1.4-0.5h0m1.4 0.7h0m7.5-0.5h0m0.4-0.2h0m2.7 0.9h0m3.7-0.7h0m0.2 0h0m0.3 0.5h0m0.9-0.1h0m2.6-0.6h0m0.9 0h0m1.9 0.6h0m1.4-0.5h0m6.6-0.2h0m2.3 0.9h0m1 0h0m7.9 0.1h0m1.7-0.2h0m2 0.1h0m3.5-0.6h0m0.1-0.1h0m0.2 0.5h0m1.2-0.6h0m4 0.4h0m1.6 0.5h0m0.7-0.1h0m1.9-0.5h0m0 0h0m1 0.3h0m0.4-0.1h0m1.8-0.1h0m3.2 0.2h0m1.8 0h0m0.3 0h0m2.5 0.1h0m1.5-0.3h0m1.5-0.3h0m0.3 0.7h0m0.2-0.5h0m1.5 0.3h0m0.3-0.2h0m1.2-0.4h0m1.6 0.1h0m1 0.6h0m0.8-0.5h0m4.2 0.5h0m1.8-0.2h0m2.5 0.1h0m0.2 0.2h0m0.2 0h0m2-0.8h0m0 0.5h0m0.1 0.4h0m0.4-0.3h0m0.2 0h0m0.6 0.3h0m1.5-0.4h0m3.2-0.4h0m0.5 0.1h0m0 0.4h0m1.6 0.1h0m3.7-0.3h0m1.4 0h0m-99.6 0.6h0m0.6 0.7h0m0.9-0.6h0m1.1 0.2h0m2 0.3h0m3.2-0.6h0m0.5 0.5h0m7.9-0.5h0m5.9 0.6h0m1.6-0.7h0m1.4 0.8h0m2.5 0.1h0m1.2-0.6h0m3.3 0.4h0m1.8-0.7h0m4.4 0.9h0m1.9-0.8h0m1.1 0.7h0m1.8-0.1h0m1.5-0.6h0m5.2 0.1h0m0.1 0.5h0m6.2-0.5h0m1 0.2h0m0.7 0.4h0m1.5-0.5h0m1.9 0.5h0m0.3-0.3h0m1.2-0.1h0m1.1 0.3h0m0.3 0.1h0m0.7-0.3h0m1-0.4h0m0.3 0.6h0m4.7-0.2h0m0.1 0.3h0m0.8-0.1h0m0.5-0.3h0m0.3-0.4h0m3.3 0.8h0m1.4-0.3h0m0.1-0.2h0m3.9 0.1h0m2.2-0.2h0m0.9-0.1h0m2.7 0.6h0m3.7-0.7h0m7.8 0.1h0m-99.7 1.8h0m1.8 0.1h0m6.6-0.7h0m2.1 0.3h0m4.2 0h0m3.5 0h0m8.3 0h0m0.8 0.2h0m4.2-0.2h0m0 0.2h0m4-0.7h0m1.7 0.1h0m1.5 0.3h0m2.5-0.2h0m1.8 0.2h0m0.4 0.3h0m0.7-0.2h0m0.4-0.3h0m1.6-0.1h0m1.1-0.1h0m2.3 0.4h0m1 0h0m2.4-0.2h0m3.6 0.6h0m1.2-0.9h0m0.3 0.9h0m1-0.5h0m4.1 0h0m0 0.6h0m0.1 0h0m4.3-0.2h0m0.9-0.4h0m0.6 0h0m1-0.2h0m5.1 0.3h0m3.9 0.5h0m0.9-0.6h0m0.1 0.2h0m0.1-0.2h0m0.8 0.3h0m1.5 0.2h0m0.3-0.8h0m1.9 0.8h0m0.1-0.3h0m6.4-0.3h0m0 0.2h0m-89.3 0.9h0m4.1 0h0m12.6 0.5h0m1.1-0.8h0m1.3 0.4h0m1.3-0.3h0m1.4-0.1h0m0.2 0.1h0m0.3 0.4h0m1-0.1h0m1.1 0.4h0m0.2-0.4h0m0.3-0.5h0m1.2 0.9h0m0.3-0.3h0m1.9-0.6h0m1 0.6h0m5.4-0.4h0m3.1 0.6h0m0.5 0h0m1.4 0h0m1-0.7h0m0.2 0.1h0m2.7 0.6h0m10.6-0.7h0m1.6 0.4h0m1.8 0.4h0m2.1-0.2h0m4-0.6h0m3.4 0.1h0m3-0.1h0m0.4 0.6h0m0.4 0.2h0m0.7-0.9h0m0.1 0.5h0m0.5-0.1h0m1.5-0.1h0m1.1-0.1h0m5.9 0.4h0m0.2 0h0m0.5-0.3h0m0.5 0.4h0m0 0h0m1.2-0.1h0m2.9 0.1h0m1.3 0.2h0m0.6-0.7h0m0.4-0.2h0m-82.2 1.1h0m0.9 0.6h0m0.6-0.3h0m1.5-0.2h0m0.2 0.6h0m0.9-0.5h0m0.8 0.3h0m3.3 0.1h0m6.7-0.5h0m10.2-0.1h0m2.9 0.2h0m3.6-0.1h0m0.5-0.1h0m3.2 0.1h0m1 0.5h0m0.2-0.1h0m0.7-0.2h0m1.1 0.3h0m4-0.6h0m2.1 0.9h0m0.1-0.9h0m0.2 0.6h0m1.6 0.1h0m2.1-0.7h0m3.2 0.9h0m0.5-0.3h0m0.7-0.1h0m3.3 0h0m0.4 0.2h0m0.5-0.1h0m2.6-0.2h0m0.9-0.1h0m2.7 0.2h0m2.6-0.1h0m2.1 0.4h0m1.3-0.4h0m2.9 0h0m2.8-0.4h0m0.3 0.8h0m0.2-0.8h0m0 0.6h0m1.4 0.3h0m1.4-0.2h0m0.4-0.5h0m0.1 0.2h0m0-0.3h0m0.4 0.4h0m0.2 0.4h0m0.2-0.9h0m1 0.4h0m0.9-0.3h0m-82.1 1.7h0m0.7-0.3h0m0.7-0.3h0m2.1 0.3h0m0.6 0h0m0.4-0.4h0m0.1 0.3h0m0.2 0.2h0m4.6 0.2h0m0.4-0.1h0m2-0.1h0m0.6-0.1h0m0.4-0.4h0m4.2-0.2h0m0.1 0.9h0m4.5-0.2h0m1.5-0.2h0m0.3-0.1h0m0.7-0.2h0m1.2 0h0m1.5-0.2h0m5.6 0.9h0m0.1-0.7h0m0.4 0.1h0m1.2 0.7h0m0.2-1h0m0.8 0.9h0m1.5-0.3h0m1.5 0.1h0m1-0.4h0m0.6-0.2h0m2.2 0h0m0.7-0.1h0m7.4 0.1h0m6 0.8h0m1.9-0.7h0m1.4 0.4h0m0.2 0h0m3.4 0.1h0m1.5-0.1h0m1.6 0h0m8.8-0.1h0m3.5 0h0m0.6 0h0m0.1 0.1h0m0.2-0.5h0m-75.4 1.4h0m0.8-0.1h0m1.5 0.5h0m0.9-0.8h0m5.8 0.7h0m0.2-0.6h0m0.3-0.2h0m0.4 0.4h0m3-0.2h0m6 0.2h0m0.9 0h0m3.3 0.6h0m0.1-0.6h0m1 0.3h0m0.1-0.1h0m0.2-0.1h0m1.4 0.1h0m0.7 0.3h0m1.7-0.2h0m2.3-0.4h0m0 0.4h0m1.9-0.3h0m1.8-0.3h0m1.6 0.2h0m0.8 0.4h0m1.1-0.1h0m0.1 0h0m0.1-0.1h0m0.5 0.1h0m1.5 0.1h0m0.4-0.1h0m0.2 0h0m8-0.1h0m0.7 0.1h0m4.4-0.3h0m2.1 0.5h0m0.2 0.2h0m0.9-0.4h0m4.6 0.1h0m0.8 0.2h0m0.9-0.6h0m2 0.5h0m0.1 0.2h0m2.3-0.3h0m1-0.1h0m1.2 0.4h0m1.2-0.7h0m-70.1 1h0m6.3-0.1h0m0.2 0h0m0.6 0.5h0m0.2-0.1h0m0.7-0.1h0m1.5 0.1h0m0-0.2h0m0.5-0.4h0m9.3 0.2h0m2.6 0.2h0m4.1 0.2h0m2.9 0.2h0m0.4-0.7h0m0.7 0h0m3.8 0.7h0m0.2-0.8h0m0.5 0.1h0m0.5 0.5h0m1.7-0.2h0m0.9-0.2h0m0 0.1h0m0.7 0.6h0m5-0.3h0m1.8 0.4h0m6.2-0.2h0m0.9-0.3h0m2.4-0.3h0m1.4-0.1h0m2.1 0.5h0m0.2-0.2h0m1.1 0.4h0m3.6 0h0m4.2-0.4h0m2.8-0.2h0m-70 1h0m0.6 0.4h0m2-0.4h0m0.9 0.8h0m1.2-0.1h0m3.3-0.8h0m0 0.2h0m0.1-0.1h0m2.9 0.7h0m3.3-0.8h0m0.3 0.7h0m0.3-0.8h0m2.2 0.6h0m4.5-0.4h0m0.5 0h0m3.1-0.1h0m1.2 0.6h0m0.8-0.6h0m3.4 0.1h0m0.3-0.2h0m2.7 0.1h0m7.6 0.2h0m2.5 0.2h0m0.4 0.5h0m1.9-0.5h0m2.9 0h0m0.3 0.2h0m2.5-0.2h0m1.4 0.2h0m1.8-0.2h0m2.1-0.4h0m0.5 0h0m2.4 0.2h0m0.3 0.1h0m0.1 0h0m-59.7 1.3h0m0-0.4h0m0.2 0.6h0m8.5-0.9h0m0.2 0h0m0.4 0.5h0m0.9 0.2h0m0.2-0.2h0m1.8-0.4h0m1.7 0.8h0m9.6-0.3h0m1.8 0h0m0.5-0.5h0m0.4 0h0m0.9 0.2h0m0.4 0.1h0m0.6 0.3h0m0.4 0.3h0m0.3 0h0m4.6-1h0m0.1 0.8h0m2.2-0.3h0m3.2 0.5h0m3.1-0.9h0m4.5 0.8h0m1.6-0.7h0m0.3 0.6h0m3.1-0.4h0m-48.1 1.2h0m0.6-0.3h0m1-0.3h0m3.8 0.8h0m1.2-0.8h0m0.5 0.6h0m0.2 0h0m0.6 0h0m1.8 0h0m0.8 0.2h0m1.2 0.1h0m0.2-0.4h0m5 0.2h0m2.5 0.1h0m4.6 0.2h0m3.3-0.4h0m1.1-0.1h0m2.7-0.4h0m0.1 0h0m0.3 0.4h0m4.9 0h0m7.1 0.1h0m-45.1 0.6h0m2.4 0.8h0m1.8-0.2h0m1.1-0.1h0m0.3-0.2h0m9.3-0.1h0m1.4 0.5h0m1.2-0.8h0m2.6 0.8h0m0-0.3h0m1.4-0.2h0m0.1 0.3h0m3.3-0.3h0m2.2-0.2h0m4 0.7h0m4.5-0.6h0m3.8 0.2h0m0.2-0.4h0m1-0.1h0m0.6 0.1h0m0.6 0.1h0m3.1-0.2h0m-42.6 1.2h0m2.7 0.3h0m4.2 0.3h0m1.2-0.2h0m1.2 0.1h0m4.1-0.7h0m3.7 0.6h0m2.2-0.6h0m0.8 0.8h0m0.9 0.1h0m3.3-0.8h0m3.3 0.1h0m0.6 0.5h0m1.1-0.2h0m4.6 0.4h0m0.5-0.4h0m1.5 0.2h0m1-0.2h0m-31.5 0.7h0m2.9 0.4h0m0.4-0.5h0m2.9-0.1h0m3.2 1h0m0.3-0.4h0m1.1-0.2h0m0.1-0.3h0m2.3 0h0m0.3 0.3h0m8.4 0.6h0m1.5-0.1h0m3-0.2h0m0.5-0.3h0m0.7 0.5h0m1.9-0.1h0m-34.2 0.5h0m7.4-0.3h0m0.5 0.7h0m7.7 0.1h0m2.2-0.1h0m0.1-0.3h0m0.6 0h0m0.8-0.2h0m0.4 0.5h0m0.8-0.2h0m2.3-0.2h0m1.9 0.1h0m0.8-0.2h0m1.4 0.1h0m0.4 0.4h0m2.5 0.2h0m0.1-0.6h0m0.3 0.6h0m-29.1 0.8h0m0.9 0.1h0m4.9-0.3h0m0.5-0.2h0m1.5-0.3h0m1.3 1h0m2-0.6h0m3.5-0.3h0m0.2 0.2h0m1.8 0.1h0m0.9 0.2h0m3.2-0.3h0m3.3 0.2h0m0.4-0.3h0m1.4 0.2h0m-24 1.2h0m4 0.2h0m2.2-0.8h0m0 0.8h0m2.2 0.1h0m1.7 0h0m0.5 0h0m9.4-0.9h0m-8.8 1.3h0m0.1-0.1h0" stroke="#c6c6c8" stroke-width="1.95" stroke-linecap="round" fill="none"/>
<path d="M316.2 795.4h0m-1.6 0.3h0m1.3 0.7h0m1.4-0.4h0m1.7 0.1h0m0.8 0.1h0m-18.9 1.2h0m5.3 0h0m8.7-0.8h0m2.1 0h0m0.7 0.3h0m0.2 0.2h0m2.1-0.2h0m0.1-0.4h0m-23.7 1.7h0m0.5 0.2h0m1.4-0.1h0m3.2-0.7h0m1.4 0.3h0m-7.4 1h0m1-0.2h0m69.3 36.5h0m-1 1.1h0m1-0.4h0m0.7-0.2h0m-1.3 1.1h0m1.6 0.6h0m1.5-0.8h0m-1.3 0.9h0m5.5 1.7h0m0.7-0.4h0m1.1 0.6h0m0.1 0h0m-1.8 0.8h0m0.7-0.4h0m0.2-0.2h0m2.5 0.1h0" stroke="#b4b4b6" stroke-width="1.6" stroke-linecap="round" fill="none"/>
<path d="M184.5 780.3h0m-46.3 4.2h0m25.6 5.3h0m-26.2 3h0m55.7 0h0m-11.6 1.8h0m7.2 0.5h0m19.1-0.4h0m-62.2 2h0m-16 1h0m4.1 0.6h0m43.9-0.2h0m-23.4 0.6h0m6.4 0.7h0m-8.1 0.4h0m13.3 0h0m-16.7 1.6h0m-30.1 2.5h0m95 0.1h0m3.8 1.1h0m-47.2 1h0m37 0.3h0m-67.8 0.7h0m7.4-0.3h0m52.2 1h0m24-0.2h0m-69.7 1.7h0m5.5-0.3h0m-6.1 1.2h0m55.6 0.1h0m41.1-0.4h0m-113.3 0.7h0m48.7 0.8h0m3.4-0.4h0m-67.3 1.1h0m27.3 0.1h0m34.9 1.7h0m-28.5 1.3h0m4.7-0.5h0m15.5 0.6h0m-10.7 0.6h0m-18.8 0.9h0m-21.4 1.5h0m56.5 1h0m-16.9 0.5h0m28.9 1.6h0m-56.3 1.1h0m84.6-0.7h0m-31.5 2.5h0m-29 0.9h0m-29 4.8h0m52.6 0.3h0m30.3 1h0m-60.8 0.6h0m18.2-0.1h0m9.5 0.3h0m16.2 3.9h0m-7.5 0.5h0m22.9 0.7h0m-46.8 6.4h0m16.8 1.9h0m-29.6 1.7h0m65.8 0.9h0m-71.6 0.7h0m14.3 3.8h0m31.5 2.4h0m-109.4 2.4h0m141.4-0.3h0m-51.5 2.2h0m-14.6 1.8h0m-18.6 1.1h0m-14 2.2h0m25.6-0.1h0m6 2.8h0m12.5 2.3h0m2.3-0.9h0m-4.9 1.9h0m-63.2 1.8h0m1.2 0.7h0m52.3 0.1h0m-31.1 3.3h0m25.5-0.5h0m22.3-0.1h0m19.7 2.7h0m13.3-0.5h0m-41.2 3.5h0m32.6-0.6h0m-61.4 3.4h0m-17.2 0.9h0m73.1 0h0m34.5 6.9h0m-80.8 1h0m3.6 4h0m10 0.3h0m-2.8 1.5h0" stroke="#c0375f" stroke-width="1.75" stroke-linecap="round" fill="none"/>
<path d="M147.1 781.4h0m38.6-0.7h0m-23.4 4.5h0m47.1 1.2h0m-10 1h0m2.8 0h0m13 3.1h0m-29.1 1.1h0m48.2 2h0m-39.6 1.8h0m23.7 0h0m17.7 1.6h0m-71.9 0.7h0m4.4 0.5h0m33 2.2h0m-51.4 1.6h0m22.1 0.4h0m3.2-0.4h0m-39.3 1.1h0m25.2 0.4h0m50.3-0.3h0m-76.9 1.7h0m2.9 0.5h0m64.4 1.4h0m-41 2.5h0m-31.5 0.5h0m50.6-0.1h0m19 0.8h0m-53.7 0.1h0m14.9 0.7h0m1.9-0.7h0m8.1 0.1h0m49 0.7h0m-53.4 1.6h0m14.2 0h0m-56.6 0.6h0m11.8 0.7h0m7.7 0h0m37.6 0.1h0m38.8-0.9h0m-50.6 1.4h0m57.9 1.9h0m5.2-0.3h0m8.3 0.2h0m-86.2 2.3h0m6.3 0.4h0m9.9 1.1h0m21.1-0.5h0m-70 1.2h0m27.7 2.1h0m11.6-0.8h0m62.6 0.3h0m-59.1 1.6h0m5.8-0.8h0m30.4 0.8h0m25.5-0.5h0m-84.3 0.7h0m21.9 0.6h0m31.3 2h0m-56.1 2h0m29.5 0.2h0m11.7-0.6h0m39.5 0.6h0m-77.9 0.7h0m-8.1 3.1h0m28.9 0.1h0m54.2-0.4h0m12.9 0.3h0m-107.3 4h0m50.5-0.6h0m33.8 0.9h0m-19.7 1.6h0m-27.9 4.1h0m52.6-0.1h0m0.8 0.6h0m8.4 0h0m-116.7 4.5h0m51.9 3.1h0m20.1-0.1h0m-27.3 1.3h0m10.9 2.1h0m12.3 0.1h0m-28.3 1.2h0m-26.8 1.2h0m101.9-0.1h0m-12.4 0.9h0m-39.5 1.2h0m2.5 0.3h0m14.4 2.9h0m-83.1 0.6h0m116.1 1.3h0m15.6 0.2h0m-90.5 0.5h0m24.5 0.2h0m-19.5 2h0m13.8 0.8h0m-27.3 2.4h0m66 4.1h0m6.2-0.6h0m-42.4 5.4h0m-4.2 1.6h0m16.7 0.5h0m12.2-0.5h0m-88.3 0.9h0m77.7 2.5h0m9.7 1.9h0m-11 0.6h0m67.3 0.6h0m-52.9 1h0m6.4-0.6h0m-15.9 2.6h0m6.2 2.1h0m36.7 0.9h0m-75.6 5.3h0m96.6 0.8h0" stroke="#1d2f5c" stroke-width="1.75" stroke-linecap="round" fill="none"/>
<path d="M532.9 877.4h0m-24.3 3.4h0m30.4 0.6h0m2.3-0.3h0m3.3 1h0m-32.3 1.2h0m19-0.2h0m5.2 0h0m3.6 0h0m-29.8 0.9h0m24.8 0.5h0m4 0.3h0m0.8-0.2h0m-26.9 1.8h0m22.8-0.7h0m23.9 0.4h0m-51.8 0.5h0m3.1 0.6h0m4-0.4h0m24.3-0.3h0m-25.1 1.4h0m26.8-0.4h0m12.5 0.5h0m-35.7 1.5h0m13.9-0.4h0m3.5 0.3h0m0.4-0.3h0m-18.2 1.4h0m20.4-0.7h0m6.5 0.1h0m-13.3 0.8h0m2.1 0.4h0m-18.1 0.6h0m3.5 0.1h0m20.3 0.1h0m1.8 0.5h0m-18.8 0.4h0m6.3 0.3h0m1.1 0.1h0m-7.4 1.1h0m19.7-0.7h0m5.6 0h0m-30.6 1.2h0m7 0.5h0m8.1-0.6h0m10.1 0h0m9.1 1.7h0m-28.3 0.8h0m2.2-0.3h0m1.9-0.1h0m20.3 0.2h0m-24.7 0.9h0m2.8 0.3h0m6 0.2h0m-7.7 0.5h0m1.1 0.1h0m3.6 0.2h0m1.1-0.4h0m13.6 0.2h0m1.6 0.5h0m6.1-0.9h0m-32.2 1.7h0m1.8-0.3h0m2.8-0.2h0m1.3 0.6h0m1-0.6h0m0.2 0.2h0m4.5-0.1h0m13.3 0.4h0m0.9-0.6h0m8.8 0.5h0m-34 0.6h0m2.2 0.4h0m2.6-0.6h0m16.3 0.6h0m5.3-0.5h0m2-0.1h0m5.4 0.7h0m1.4 0.2h0m-32 0.4h0m1 0.1h0m5.4 0h0m14.5 0.2h0m0.8-0.3h0m2.6 0.1h0m0.7-0.3h0m-26.1 1.7h0m4.7-0.3h0m9.6 0.3h0m1-0.4h0m8-0.4h0m4.2 0.6h0m1.7-0.3h0m0.2 0.2h0m2.2 0.3h0m2.3-0.7h0m-33.6 1.2h0m1.9-0.3h0m2.6 0.3h0m0.9-0.1h0m0.5-0.3h0m1.9 0.8h0m0.7 0.1h0m1-0.3h0m10 0.1h0m9.1 0.1h0m-29.7 1.1h0m2.7-0.8h0m6.9 0h0m5 0.7h0m2.5-0.7h0m1.4 0.1h0m2.8-0.2h0m1.8 0.6h0m0.4 0h0m4.1 0.3h0m6.4 0h0m-15.4 0.2h0m4.6 0.6h0m1.4-0.5h0m3.1 0h0m2.5 0.5h0m0.5 0.1h0m-32.1 0.7h0m6.6 0h0m3.4 0h0m0.6 0.4h0m2.6-0.4h0m9.5-0.2h0m3.8 0.6h0m4.4-0.8h0m3.3 0.8h0m1.8-0.2h0m-35.8 0.9h0m24.7 0.1h0m1.1-0.6h0m2.7 0.2h0m3.5 0.7h0m-33 0.3h0m5.1-0.3h0m2.4 0.5h0m19-0.1h0m9.4-0.3h0m2.1 0.7h0m-7.1 1h0m0-0.6h0m-6.3 1.2h0m7.5 0h0m0.8 0.4h0m-8.3 1h0" stroke="#1d2f5c" stroke-width="2.0" stroke-linecap="round" fill="none"/>
<path d="M468.9 822.5h0m63.1 13.7h0m-52 18.3h0m19.5 17h0m69.2 4h0m-44.3 5.6h0m9.5-0.2h0m0.7 0.4h0m3.3-0.3h0m-29.6 1.1h0m3.2 0.3h0m19.6 0.1h0m-22.8 0.9h0m1.7-0.3h0m0.5 0.2h0m21.1 0h0m5.4-0.7h0m3.6 0.6h0m14.3 0h0m-45.3 0.7h0m25-0.4h0m9.4 0.4h0m2-0.3h0m-6.4 1.8h0m-31.4 0.5h0m0.7 0.4h0m24.5 0.2h0m0.9-0.1h0m3.4-0.3h0m-1.5 1.2h0m-23.4 0.3h0m22.6 0.3h0m3.1-0.4h0m-25.3 1h0m21.6 0.8h0m7.4-0.2h0m-29.2 1.2h0m27.3-0.3h0m-21.1 0.6h0m4 1.3h0m-6.7 0.8h0m3.1 0.2h0m8.4-0.4h0m15.3 0.7h0m-25.3 1h0m21.1-0.5h0m-7.1 1.4h0m8.9-0.1h0m-29.5 0.8h0m5-0.2h0m11.9 0.3h0m8.7-0.1h0m10 0.1h0m8.8 0.5h0m-15.1 0.3h0m-17.1 1.1h0m2-0.1h0m17.3 0.5h0m1.7-0.4h0m8.4 0.4h0m-3.6 0.5h0m3.7 0.8h0m-25.4 0h0m0.2 0.6h0m5.6 0.2h0m7.2-0.3h0m8.5 0.3h0m6.6-0.8h0m-39.4 1h0m6.3 0.5h0m0.2 0.1h0m0.6-0.2h0m3.4 0h0m18.5 0.1h0m5.9-0.3h0m0.2 0h0m-25.7 2.5h0m1.8-0.1h0m7.2 0h0m7.4-0.4h0m1.2-0.1h0m2.3 0.3h0m-26.1 1.2h0m6.7-0.2h0m15.2-0.3h0m1.7 0.4h0m0.9 0.3h0m0.6-0.3h0m1.7-0.3h0m7.2 0.1h0m-27.8 1.2h0m10.9-0.3h0m4.2 0.5h0m4.6-0.6h0m0.4 0.2h0m0 0.7h0m6.8-0.2h0m0.2-0.6h0m0.9-0.2h0m0.1 0.9h0m-31.3 0.3h0m15.5-0.2h0m3 1h0m0.9-0.3h0m4.8-0.4h0m5.8 0.1h0m2-0.3h0m-33.1 1.7h0m2.3 0.1h0m19.7-0.7h0m3.6 0.4h0m0.2 0.1h0m1-0.1h0m4.3-0.3h0m-32.5 1.5h0m10.4-0.3h0m4.3-0.3h0m5.6 0.2h0m7.6 0.9h0m0.2 1.2h0m2.5-0.2h0m1.1 0h0m-24.5 0.8h0m22 0.7h0m-11.2 0.2h0" stroke="#c0375f" stroke-width="2.0" stroke-linecap="round" fill="none"/>
<path d="M546.3 797.5h0m1.2 8.2h0m-78.8 15.5h0m60.8 15h0m-53.3 16.8h0m5.8 2.5h0m17.2 13.7h0m70.8 3.8h0m-70.8 0.7h0m37.6 3.3h0m-3.3 2.4h0m-25.2 0.6h0m28.7 0.3h0m3.7 0.1h0m8.6-0.4h0m-35 1.1h0m14.5-0.1h0m-22.2 1.2h0m3-0.2h0m30.8-0.1h0m-32.4 1.2h0m30.1 0.2h0m0-0.1h0m0.5 0.6h0m1.8 0.7h0m-32.6 0.8h0m33.7-0.6h0m-28.8 1.6h0m22.7-0.6h0m2.3 0h0m0.4 0h0m-24.5 1.1h0m2.7 0.6h0m26-0.5h0m0 0.1h0m-28.2 1.1h0m0.8-0.1h0m18.8-0.1h0m2.9 1.4h0m4.2-0.7h0m-29.2 1.4h0m8.5-0.5h0m17.2 1.2h0m6.7 0.7h0m-28.4 1h0m35.5-0.4h0m-14.9 1.2h0m4.7-0.3h0m6.2 0.4h0m-28.6 1.7h0m17.9 0.4h0m8.9-0.5h0m1.8 0.4h0m1.6-0.3h0m10.6 0.6h0m-39.1 1h0m4.6 0.2h0m1.7 0.3h0m0.3 0.4h0m5-0.8h0m22.8-0.2h0m-41.4 1.6h0m3.2 0.2h0m6.4-0.1h0m0.4-0.3h0m1.3 0.4h0m31.9 0h0m-30.7 0.4h0m2.3 0.7h0m2-0.4h0m15.1-0.4h0m3.3 0.6h0m-27.5 0.4h0m0.5 0.7h0m0.5-0.1h0m2.4 0.1h0m3.3-0.1h0m9-0.7h0m2.8 0.4h0m0.2 0.2h0m6-0.3h0m3.3 0.3h0m1.9 0.1h0m1.3-0.5h0m-26.7 0.8h0m20 0.9h0m0.8-0.3h0m0.8-0.3h0m5.1 0.7h0m1.2-0.5h0m-36.8 0.7h0m9.7 0.3h0m2-0.1h0m7 0.5h0m7.8 0.1h0m1.7-0.2h0m0.2 0h0m0.1-0.1h0m3.2-0.2h0m-28.9 0.6h0m0 0.2h0m6.2-0.1h0m0.3 0.4h0m0.1-0.4h0m17.7 0.2h0m5.6 0.5h0m1.5-0.5h0m0.1 0.1h0m2 0.2h0m0.6-0.6h0m0.2-0.1h0m0.1 1h0m-28.7 0.3h0m1.5 0.4h0m11.5 0h0m3.9-0.3h0m0.3 0.2h0m5.4 0.1h0m3.2-0.3h0m3.4 0h0m-35.7 1.4h0m2.7-0.4h0m3.5 0h0m19.1 0.5h0m0.3-0.8h0m2.4-0.1h0m0.6 0.4h0m4.7 0.6h0m-33.2 0.4h0m1 0.5h0m1.6-0.6h0m0.4 0.3h0m6.2 0.2h0m5.2-0.3h0m1.4-0.1h0m11.9-0.4h0m0.1 0.2h0m0.6 0.3h0m2.5 0.4h0m2.1-0.4h0m-26.9 1.3h0m0.5-0.5h0m0.9 0.4h0m0 0.1h0m2.5-0.5h0m9 0.4h0m13.2-0.5h0m0.4 0.6h0m-28.6 0.3h0m16.1 0.1h0m1.3 0.5h0m8-0.1h0m4.3-0.2h0m-6.2 0.6h0m-21.5 2h0m4.6-0.5h0m10.6-0.1h0m4.9-0.2h0m6.5 0.6h0" stroke="#1d2f5c" stroke-width="2.0" stroke-linecap="round" fill="none"/>
<circle cx="92.3" cy="928.3" r="2.5" fill="#c0375f"/>
<circle cx="166.9" cy="928.3" r="2.5" fill="#c6c6c8"/>
<circle cx="227.2" cy="928.3" r="2.5" fill="#1d2f5c"/>
<circle cx="385.1" cy="928.3" r="2.5" fill="#c0375f"/>
<circle cx="456.9" cy="928.3" r="2.5" fill="#c6c6c8"/>
<circle cx="516.5" cy="928.3" r="2.5" fill="#1d2f5c"/>
<text x="99.40" y="931.80" font-size="10" textLength="48.20" lengthAdjust="spacingAndGlyphs">Penfluridol</text>
<text x="174.00" y="931.80" font-size="10" textLength="33.90" lengthAdjust="spacingAndGlyphs">Control</text>
<text x="233.60" y="931.80" font-size="10" textLength="74.90" lengthAdjust="spacingAndGlyphs">Pred_penfluridol</text>
<text x="392.20" y="931.80" font-size="10" textLength="44.40" lengthAdjust="spacingAndGlyphs">Dactolisib</text>
<text x="463.30" y="931.80" font-size="10" textLength="33.50" lengthAdjust="spacingAndGlyphs">Control</text>
<text x="524.30" y="931.80" font-size="10" textLength="67.10" lengthAdjust="spacingAndGlyphs">Pred_dactolisib</text>
</svg></body></html>
